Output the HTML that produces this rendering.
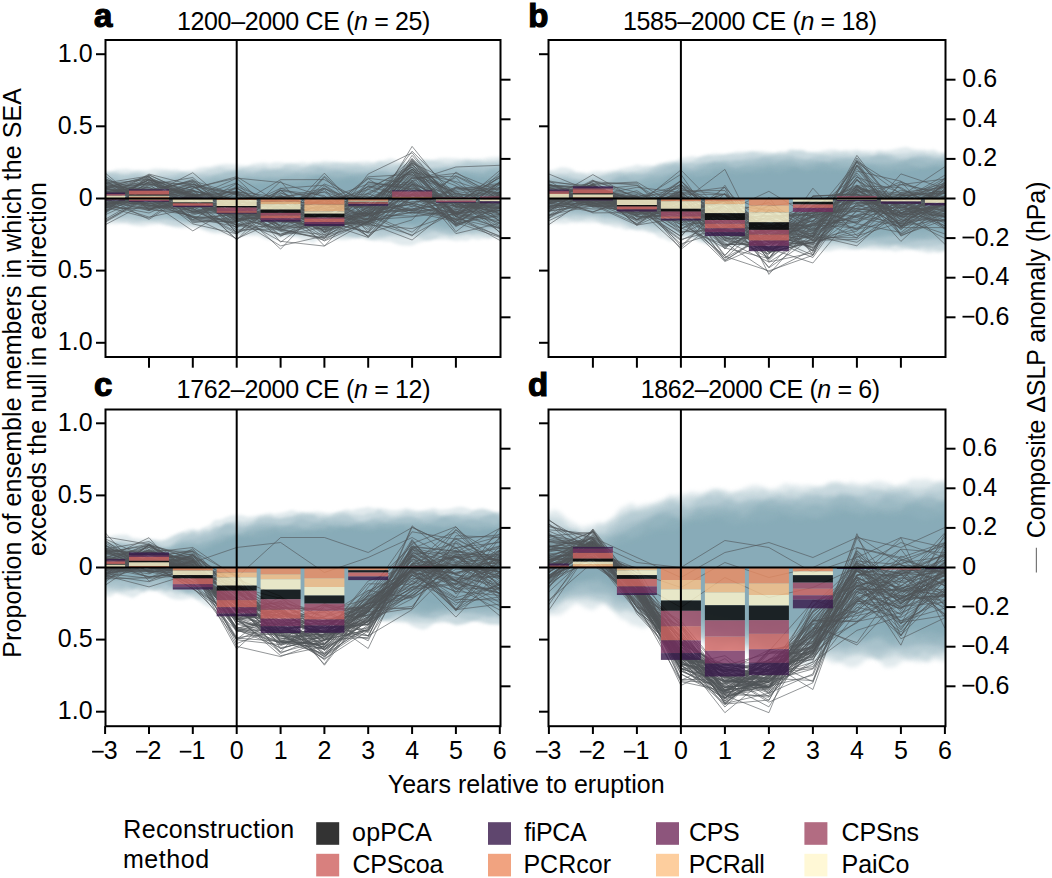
<!DOCTYPE html>
<html><head><meta charset="utf-8"><style>
html,body{margin:0;padding:0;background:#fff;width:1052px;height:878px;overflow:hidden}
svg{display:block}
text{font-family:"Liberation Sans", sans-serif;fill:#000;font-size:25px}
.lt{font-weight:bold;font-size:33px;stroke:#000;stroke-width:1.2px}
.ln{fill:none;stroke:#505558;stroke-width:1;stroke-opacity:.62;stroke-linejoin:miter}
</style></head><body>
<svg width="1052" height="878" viewBox="0 0 1052 878">
<defs>
<filter id="bl1_5" x="-20%" y="-50%" width="140%" height="200%" color-interpolation-filters="sRGB"><feGaussianBlur stdDeviation="1.5"/></filter><filter id="bl2" x="-20%" y="-50%" width="140%" height="200%" color-interpolation-filters="sRGB"><feGaussianBlur stdDeviation="2"/></filter>

<clipPath id="cpa"><rect x="105.5" y="40" width="395" height="317"/></clipPath>
<clipPath id="cpb"><rect x="548.5" y="40" width="397" height="317"/></clipPath>
<clipPath id="cpc"><rect x="105.5" y="409.5" width="395" height="316.7"/></clipPath>
<clipPath id="cpd"><rect x="548.5" y="409.5" width="397" height="316.7"/></clipPath>
</defs>
<g clip-path="url(#cpa)">
<path d="M75.1,170 L78.9,169 L82.6,169.8 L86.4,169.5 L90.1,169.8 L93.9,168.8 L97.6,168.6 L101.4,170.3 L105.1,171.8 L110.6,171.5 L116.1,169.6 L121.6,169.3 L127.1,169.1 L132.6,170.1 L138,169.9 L143.5,170.3 L149,169.9 L154.5,168.5 L160,168.8 L165.4,168.9 L170.9,169.8 L176.4,169.2 L181.9,170.8 L187.4,170.5 L192.8,170 L198.3,167.9 L203.8,166.9 L209.3,166.9 L214.8,165.5 L220.3,164.5 L225.7,164 L231.2,164.2 L236.7,164.7 L242.2,165.5 L247.7,165.7 L253.1,163.8 L258.6,163.1 L264.1,162.4 L269.6,163.6 L275.1,162.3 L280.6,162.6 L286,163.2 L291.5,162.9 L297,163 L302.5,162 L308,163 L313.4,161.9 L318.9,161.9 L324.4,161 L329.9,161.4 L335.4,161.9 L340.8,162.3 L346.3,162.5 L351.8,162.1 L357.3,162.1 L362.8,161.6 L368.2,161.3 L373.7,162.3 L379.2,161 L384.7,160.3 L390.2,158.2 L395.7,159.8 L401.1,162.2 L406.6,161.7 L412.1,161 L417.6,159.1 L423.1,160.3 L428.5,160.1 L434,159.7 L439.5,158.3 L445,158.1 L450.5,158.3 L455.9,158.4 L461.4,159.1 L466.9,158.4 L472.4,159.1 L477.9,158.9 L483.4,158.7 L488.8,157.4 L494.3,157.3 L499.8,156.7 L503.6,156 L507.3,155.9 L511.1,155.9 L514.8,157.8 L518.5,156.6 L522.3,156.6 L526,156.1 L529.8,157.2 L529.8,236.5 L526,237.7 L522.3,237.7 L518.5,237.2 L514.8,237.9 L511.1,240 L507.3,241.1 L503.6,239.9 L499.8,238.2 L494.3,237.6 L488.8,238.9 L483.4,238.6 L477.9,239.7 L472.4,238.5 L466.9,240.7 L461.4,240.2 L455.9,241.1 L450.5,240.1 L445,239.6 L439.5,239.4 L434,239.6 L428.5,240 L423.1,241.5 L417.6,242.9 L412.1,245.4 L406.6,245.5 L401.1,245.3 L395.7,243.8 L390.2,241.4 L384.7,241.5 L379.2,240.6 L373.7,240.5 L368.2,239 L362.8,237.7 L357.3,237.7 L351.8,238.7 L346.3,239.9 L340.8,240.1 L335.4,239.5 L329.9,237.2 L324.4,238.9 L318.9,238.9 L313.4,243 L308,241.3 L302.5,240.4 L297,237.2 L291.5,236.5 L286,236.5 L280.6,237.9 L275.1,239.8 L269.6,240 L264.1,238.5 L258.6,236 L253.1,235.8 L247.7,235.9 L242.2,236 L236.7,236.2 L231.2,235 L225.7,234.2 L220.3,233.3 L214.8,233.4 L209.3,232.3 L203.8,230.2 L198.3,228.1 L192.8,227.9 L187.4,227.7 L181.9,227.9 L176.4,227.2 L170.9,225.5 L165.4,225.2 L160,224.1 L154.5,224.6 L149,225 L143.5,226.2 L138,226.1 L132.6,225.3 L127.1,223.8 L121.6,223.2 L116.1,224 L110.6,223.7 L105.1,224.6 L101.4,223.4 L97.6,224.7 L93.9,223.8 L90.1,223.9 L86.4,223.6 L82.6,224.4 L78.9,221.9 L75.1,219.6Z" fill="#78a0ad" fill-opacity="0.22" filter="url(#bl1_5)"/>
<path d="M75.1,172.2 L78.9,171.9 L82.6,171.2 L86.4,172.8 L90.1,171.8 L93.9,172.4 L97.6,171 L101.4,172.9 L105.1,172.1 L110.6,172.2 L116.1,172.5 L121.6,174.6 L127.1,174.3 L132.6,172.9 L138,171.4 L143.5,172.7 L149,173.7 L154.5,174.3 L160,172.1 L165.4,171.8 L170.9,171.8 L176.4,172.1 L181.9,171.9 L187.4,172.1 L192.8,173.3 L198.3,172.4 L203.8,171.3 L209.3,169.6 L214.8,168.8 L220.3,167 L225.7,168.4 L231.2,169.5 L236.7,170.2 L242.2,167.9 L247.7,167.1 L253.1,166.7 L258.6,167.3 L264.1,166.4 L269.6,167.9 L275.1,167.5 L280.6,167.8 L286,164.1 L291.5,164.3 L297,164.7 L302.5,166.8 L308,166.3 L313.4,164.6 L318.9,164.1 L324.4,163.6 L329.9,163.7 L335.4,162.6 L340.8,163 L346.3,162.9 L351.8,163.9 L357.3,163.2 L362.8,165.3 L368.2,164.5 L373.7,164.2 L379.2,161.3 L384.7,162.7 L390.2,163.1 L395.7,164.3 L401.1,163.4 L406.6,164.8 L412.1,162.6 L417.6,161.6 L423.1,159.6 L428.5,160.4 L434,160.9 L439.5,161.7 L445,163 L450.5,163.2 L455.9,161.7 L461.4,160.9 L466.9,160.1 L472.4,160.9 L477.9,160.6 L483.4,162.2 L488.8,161.2 L494.3,161.4 L499.8,159.9 L503.6,161.2 L507.3,161.1 L511.1,160 L514.8,157.5 L518.5,159.5 L522.3,161.4 L526,162.8 L529.8,160.4 L529.8,235.1 L526,237.2 L522.3,238 L518.5,236.4 L514.8,236.1 L511.1,236.4 L507.3,239.1 L503.6,236.8 L499.8,238.3 L494.3,236.2 L488.8,237.2 L483.4,236.1 L477.9,235 L472.4,235.6 L466.9,233.9 L461.4,235.9 L455.9,235.9 L450.5,237.5 L445,235.4 L439.5,236.5 L434,239.2 L428.5,241.1 L423.1,239.6 L417.6,237.1 L412.1,236.9 L406.6,237.7 L401.1,237.4 L395.7,237.2 L390.2,236.6 L384.7,237.5 L379.2,238.5 L373.7,240.1 L368.2,240 L362.8,238.3 L357.3,237.7 L351.8,236.2 L346.3,236 L340.8,236.2 L335.4,238 L329.9,238.8 L324.4,238.3 L318.9,237.1 L313.4,236.4 L308,235.7 L302.5,235.5 L297,235.1 L291.5,235.4 L286,234.8 L280.6,235.2 L275.1,234.7 L269.6,233.9 L264.1,233.6 L258.6,231.7 L253.1,233.4 L247.7,232.6 L242.2,234.8 L236.7,233.9 L231.2,232.9 L225.7,231.5 L220.3,230.3 L214.8,230.4 L209.3,229.7 L203.8,228.5 L198.3,226.2 L192.8,225 L187.4,224.7 L181.9,226 L176.4,226.5 L170.9,226.3 L165.4,224.1 L160,222.6 L154.5,222 L149,222.1 L143.5,221.9 L138,222.7 L132.6,223 L127.1,222 L121.6,222.2 L116.1,221 L110.6,221.3 L105.1,219.6 L101.4,221.6 L97.6,222.4 L93.9,222.5 L90.1,222 L86.4,222.4 L82.6,221.7 L78.9,222.5 L75.1,222.8Z" fill="#78a0ad" fill-opacity="0.22" filter="url(#bl1_5)"/>
<path d="M75.1,176.5 L78.9,177.4 L82.6,178 L86.4,175.8 L90.1,175.8 L93.9,176.5 L97.6,176.8 L101.4,176 L105.1,173.5 L110.6,173 L116.1,173.4 L121.6,173.9 L127.1,174.5 L132.6,173.2 L138,174.3 L143.5,175.6 L149,177.5 L154.5,177.1 L160,176.9 L165.4,176.9 L170.9,175.8 L176.4,174.4 L181.9,172.8 L187.4,173.7 L192.8,173.4 L198.3,174.3 L203.8,174.2 L209.3,175.1 L214.8,173.9 L220.3,173.9 L225.7,172.2 L231.2,171.5 L236.7,169.5 L242.2,169.2 L247.7,170.7 L253.1,171.1 L258.6,171.2 L264.1,169.3 L269.6,170.7 L275.1,169.8 L280.6,168.8 L286,167.9 L291.5,168.9 L297,169.7 L302.5,168.3 L308,166.6 L313.4,165.6 L318.9,166.5 L324.4,166.8 L329.9,167.5 L335.4,167.4 L340.8,167.9 L346.3,167.3 L351.8,166.9 L357.3,167.1 L362.8,167.3 L368.2,168.3 L373.7,167.3 L379.2,167.7 L384.7,166.1 L390.2,167.7 L395.7,166.4 L401.1,164.9 L406.6,164.2 L412.1,163.4 L417.6,165 L423.1,164.3 L428.5,167.7 L434,168.4 L439.5,169.4 L445,168.4 L450.5,168.1 L455.9,166.2 L461.4,164.5 L466.9,162.3 L472.4,162.3 L477.9,162.7 L483.4,162.5 L488.8,163.3 L494.3,162.3 L499.8,162.9 L503.6,162.6 L507.3,162.3 L511.1,161.9 L514.8,162.6 L518.5,164.1 L522.3,165.7 L526,164.9 L529.8,164.4 L529.8,234.1 L526,233.4 L522.3,232.7 L518.5,230.4 L514.8,230.1 L511.1,229.3 L507.3,230.9 L503.6,232.2 L499.8,231.8 L494.3,232.9 L488.8,231.5 L483.4,233.2 L477.9,232.8 L472.4,233.8 L466.9,234 L461.4,233.5 L455.9,234 L450.5,234.4 L445,234 L439.5,232.4 L434,231.3 L428.5,233.6 L423.1,235 L417.6,235.8 L412.1,235.3 L406.6,234 L401.1,233.5 L395.7,233.2 L390.2,234.7 L384.7,236.1 L379.2,236.4 L373.7,235 L368.2,234.2 L362.8,235.5 L357.3,237.9 L351.8,237.4 L346.3,236.5 L340.8,235.1 L335.4,233.9 L329.9,234.1 L324.4,234.2 L318.9,234.8 L313.4,233.6 L308,233.6 L302.5,234.7 L297,235.3 L291.5,235.4 L286,235 L280.6,232.7 L275.1,231.2 L269.6,231.8 L264.1,231.7 L258.6,231.8 L253.1,229.9 L247.7,230.7 L242.2,231.2 L236.7,231.6 L231.2,230.4 L225.7,229.1 L220.3,228.1 L214.8,227.7 L209.3,226.6 L203.8,224.8 L198.3,224.9 L192.8,224.3 L187.4,223.7 L181.9,222.4 L176.4,220.8 L170.9,220.1 L165.4,218.6 L160,219.9 L154.5,220.3 L149,220.1 L143.5,219.7 L138,220.4 L132.6,219.3 L127.1,218.6 L121.6,217.5 L116.1,218.1 L110.6,216.3 L105.1,215 L101.4,215.7 L97.6,217.6 L93.9,218.6 L90.1,217.1 L86.4,217.6 L82.6,219.6 L78.9,221.9 L75.1,222Z" fill="#78a0ad" fill-opacity="0.22" filter="url(#bl1_5)"/>
<path d="M75.1,181.6 L78.9,181.2 L82.6,182.1 L86.4,180.3 L90.1,180.3 L93.9,177.3 L97.6,179.5 L101.4,178.9 L105.1,179.8 L110.6,177.2 L116.1,177.7 L121.6,180.3 L127.1,178.8 L132.6,178.4 L138,176.9 L143.5,179.7 L149,179.4 L154.5,178 L160,177.7 L165.4,177.2 L170.9,178.4 L176.4,177.2 L181.9,176.9 L187.4,177.3 L192.8,177 L198.3,178.3 L203.8,177 L209.3,176.6 L214.8,175 L220.3,173.2 L225.7,172 L231.2,171.5 L236.7,171.9 L242.2,173.3 L247.7,173.5 L253.1,173.4 L258.6,171.4 L264.1,171.1 L269.6,170.1 L275.1,170.5 L280.6,171 L286,171.8 L291.5,172.4 L297,172.1 L302.5,173 L308,171.7 L313.4,170.5 L318.9,167.8 L324.4,169.2 L329.9,170.2 L335.4,170.9 L340.8,171.1 L346.3,170.9 L351.8,171.4 L357.3,171.7 L362.8,172.5 L368.2,171.9 L373.7,170.6 L379.2,170.7 L384.7,171.6 L390.2,173 L395.7,172 L401.1,169.2 L406.6,167.7 L412.1,166.8 L417.6,170.2 L423.1,170.8 L428.5,169.6 L434,168 L439.5,167.2 L445,168.2 L450.5,167.5 L455.9,166.9 L461.4,167.6 L466.9,167.9 L472.4,166.7 L477.9,166.4 L483.4,167.4 L488.8,167.5 L494.3,166.8 L499.8,165.5 L503.6,167.1 L507.3,166.8 L511.1,166.7 L514.8,165.2 L518.5,164.6 L522.3,165.8 L526,166.2 L529.8,166.9 L529.8,231.2 L526,230.9 L522.3,230.1 L518.5,230 L514.8,229.4 L511.1,229.4 L507.3,229.3 L503.6,229.2 L499.8,228 L494.3,227.2 L488.8,227.5 L483.4,229.2 L477.9,229.9 L472.4,230.4 L466.9,230.6 L461.4,233.1 L455.9,233.6 L450.5,233.8 L445,232.1 L439.5,231.4 L434,230.3 L428.5,229.4 L423.1,231.1 L417.6,231.2 L412.1,232.3 L406.6,231.8 L401.1,234.1 L395.7,232.9 L390.2,232.1 L384.7,229.8 L379.2,230.4 L373.7,229 L368.2,228.2 L362.8,230.1 L357.3,231.5 L351.8,231.1 L346.3,230.9 L340.8,230.4 L335.4,232.9 L329.9,230.5 L324.4,230.1 L318.9,228.1 L313.4,228.9 L308,227.4 L302.5,228.5 L297,229.4 L291.5,231 L286,230.1 L280.6,229.3 L275.1,230.2 L269.6,230.9 L264.1,230.5 L258.6,228.1 L253.1,227.3 L247.7,227.2 L242.2,228.1 L236.7,228.3 L231.2,227.8 L225.7,227.3 L220.3,226.7 L214.8,224.2 L209.3,221.7 L203.8,220 L198.3,221.4 L192.8,221.5 L187.4,221.1 L181.9,219.2 L176.4,219.7 L170.9,218.8 L165.4,218.7 L160,218.1 L154.5,218.5 L149,218.5 L143.5,217.5 L138,216.5 L132.6,214.8 L127.1,215.5 L121.6,217.2 L116.1,217.8 L110.6,218.2 L105.1,217.3 L101.4,216.4 L97.6,215.7 L93.9,215 L90.1,216 L86.4,216.3 L82.6,215.9 L78.9,215.6 L75.1,215Z" fill="#78a0ad" fill-opacity="0.22" filter="url(#bl1_5)"/>
<path d="M75.1,181.3 L78.9,181.4 L82.6,181.2 L86.4,180.2 L90.1,180.5 L93.9,181.5 L97.6,182.4 L101.4,180 L105.1,179.6 L110.6,178.9 L116.1,180.7 L121.6,180.6 L127.1,182.2 L132.6,185.1 L138,185.8 L143.5,185.5 L149,184.1 L154.5,181.9 L160,181.6 L165.4,180.9 L170.9,182.7 L176.4,179.3 L181.9,179.3 L187.4,178.6 L192.8,181.6 L198.3,182 L203.8,180.7 L209.3,179 L214.8,177.1 L220.3,178.2 L225.7,178.7 L231.2,179 L236.7,177.7 L242.2,177.2 L247.7,176.5 L253.1,177 L258.6,176.5 L264.1,177.2 L269.6,176.7 L275.1,177.5 L280.6,177 L286,176 L291.5,174.4 L297,172.9 L302.5,173.7 L308,173.7 L313.4,174.4 L318.9,174.8 L324.4,174.3 L329.9,172.2 L335.4,170.6 L340.8,171 L346.3,173 L351.8,173.8 L357.3,173.5 L362.8,172.9 L368.2,172.3 L373.7,172.8 L379.2,171.7 L384.7,171.7 L390.2,172.8 L395.7,173.4 L401.1,171.7 L406.6,168 L412.1,167.3 L417.6,170 L423.1,172.2 L428.5,172.9 L434,169.7 L439.5,169.2 L445,166.4 L450.5,167.8 L455.9,168 L461.4,170.8 L466.9,170.9 L472.4,171.9 L477.9,171.8 L483.4,172.4 L488.8,169.5 L494.3,167.8 L499.8,167.9 L503.6,168.9 L507.3,170.9 L511.1,169.5 L514.8,171.9 L518.5,171.1 L522.3,172.2 L526,169.8 L529.8,169.3 L529.8,224.8 L526,224.6 L522.3,224.1 L518.5,225.8 L514.8,227 L511.1,227.7 L507.3,227.1 L503.6,227 L499.8,226.6 L494.3,228 L488.8,228.9 L483.4,230.7 L477.9,229.8 L472.4,227.9 L466.9,227.7 L461.4,227.5 L455.9,229.1 L450.5,228.6 L445,228.7 L439.5,228.5 L434,227.7 L428.5,227.4 L423.1,228 L417.6,228.5 L412.1,228 L406.6,227.6 L401.1,227.4 L395.7,229.5 L390.2,229.9 L384.7,229.9 L379.2,229.3 L373.7,228.8 L368.2,227.8 L362.8,228.1 L357.3,227.4 L351.8,229 L346.3,226.4 L340.8,227.7 L335.4,227.4 L329.9,227.7 L324.4,225.4 L318.9,225.4 L313.4,226.6 L308,226.7 L302.5,227.2 L297,226.7 L291.5,227.8 L286,226.6 L280.6,225.8 L275.1,225.3 L269.6,224.7 L264.1,224.3 L258.6,223.6 L253.1,222.6 L247.7,223.5 L242.2,222.8 L236.7,223.9 L231.2,223.2 L225.7,223 L220.3,222.1 L214.8,221.6 L209.3,221.4 L203.8,221.2 L198.3,219.9 L192.8,220.7 L187.4,221 L181.9,220.9 L176.4,219.2 L170.9,216.2 L165.4,214.6 L160,213.4 L154.5,215.4 L149,215.6 L143.5,215.7 L138,213.5 L132.6,212.9 L127.1,211.3 L121.6,211.4 L116.1,210.3 L110.6,210.2 L105.1,209.6 L101.4,211.5 L97.6,212.7 L93.9,213.1 L90.1,212.2 L86.4,210.9 L82.6,211.7 L78.9,212.3 L75.1,213.5Z" fill="#78a0ad" fill-opacity="0.22" filter="url(#bl1_5)"/>
<path d="M75.1,184.7 L78.9,185.1 L82.6,185.1 L86.4,183.9 L90.1,184.7 L93.9,185.5 L97.6,187.1 L101.4,186.1 L105.1,184.1 L110.6,182.6 L116.1,183.1 L121.6,186.3 L127.1,186.4 L132.6,184.5 L138,182.5 L143.5,183.5 L149,184.7 L154.5,183.1 L160,182.7 L165.4,184.3 L170.9,184.8 L176.4,184.1 L181.9,181.8 L187.4,181.7 L192.8,180.2 L198.3,181.2 L203.8,181.8 L209.3,182.5 L214.8,181 L220.3,180.6 L225.7,179 L231.2,178.9 L236.7,177.5 L242.2,178.2 L247.7,176.8 L253.1,178 L258.6,178.1 L264.1,178.6 L269.6,177.8 L275.1,177.4 L280.6,178.2 L286,177.4 L291.5,177.9 L297,177.7 L302.5,178.9 L308,176.2 L313.4,175.3 L318.9,174.5 L324.4,176.3 L329.9,177.2 L335.4,177.5 L340.8,177.3 L346.3,176.7 L351.8,176.1 L357.3,175 L362.8,174.5 L368.2,174.4 L373.7,175 L379.2,174.8 L384.7,174.8 L390.2,174.7 L395.7,175.5 L401.1,174.6 L406.6,175.6 L412.1,173.3 L417.6,174.4 L423.1,174.1 L428.5,175.5 L434,175.5 L439.5,175.1 L445,175.8 L450.5,175.6 L455.9,175.1 L461.4,173.7 L466.9,172.2 L472.4,172.8 L477.9,172.9 L483.4,173.4 L488.8,171.2 L494.3,170.7 L499.8,171.7 L503.6,174.2 L507.3,174.5 L511.1,172.8 L514.8,171 L518.5,170.8 L522.3,170.2 L526,171.5 L529.8,172.7 L529.8,224.7 L526,224.2 L522.3,222.8 L518.5,222.3 L514.8,222.3 L511.1,222.8 L507.3,222.7 L503.6,223.4 L499.8,224.6 L494.3,226.7 L488.8,227.1 L483.4,225.8 L477.9,224.1 L472.4,223.3 L466.9,225.5 L461.4,227.4 L455.9,228.7 L450.5,228.6 L445,227.4 L439.5,225.1 L434,224.4 L428.5,225.9 L423.1,228 L417.6,227.3 L412.1,225.2 L406.6,223.3 L401.1,224 L395.7,223.5 L390.2,225.3 L384.7,223.1 L379.2,223.9 L373.7,222.6 L368.2,224.3 L362.8,222.6 L357.3,222 L351.8,221.7 L346.3,222.6 L340.8,222.5 L335.4,222.3 L329.9,221.3 L324.4,223.6 L318.9,224.3 L313.4,227.1 L308,225.5 L302.5,225.7 L297,223.3 L291.5,222.6 L286,221.3 L280.6,222.7 L275.1,223.2 L269.6,222.7 L264.1,221.4 L258.6,221.6 L253.1,221.7 L247.7,222.7 L242.2,221.7 L236.7,222.2 L231.2,222 L225.7,222.1 L220.3,221.6 L214.8,218.8 L209.3,216.9 L203.8,216.2 L198.3,217 L192.8,218.5 L187.4,218.3 L181.9,218.4 L176.4,215.3 L170.9,212.1 L165.4,210 L160,211.3 L154.5,211.8 L149,212.2 L143.5,209.6 L138,210.2 L132.6,209.5 L127.1,210.7 L121.6,209 L116.1,208.9 L110.6,209.7 L105.1,211.4 L101.4,211.7 L97.6,210.9 L93.9,209.3 L90.1,209.8 L86.4,209.9 L82.6,209.3 L78.9,207.5 L75.1,206.3Z" fill="#78a0ad" fill-opacity="0.22" filter="url(#bl1_5)"/>
<path d="M75.1,188.3 L78.9,189 L82.6,188.6 L86.4,186.6 L90.1,185.9 L93.9,184.9 L97.6,186.3 L101.4,187.2 L105.1,189.6 L110.6,189.5 L116.1,188.8 L121.6,186.2 L127.1,186 L132.6,185.8 L138,187.5 L143.5,188 L149,189 L154.5,189.5 L160,188.8 L165.4,188.6 L170.9,188 L176.4,187.1 L181.9,186.5 L187.4,185.5 L192.8,185 L198.3,185.4 L203.8,186.1 L209.3,186.4 L214.8,184.8 L220.3,183 L225.7,181.9 L231.2,181 L236.7,180.7 L242.2,181.2 L247.7,182.6 L253.1,184.1 L258.6,183.4 L264.1,182.1 L269.6,181 L275.1,182.3 L280.6,182.4 L286,183.6 L291.5,181.6 L297,181.9 L302.5,181 L308,180 L313.4,177.3 L318.9,175 L324.4,175 L329.9,176.1 L335.4,177.6 L340.8,177.9 L346.3,177.1 L351.8,176.1 L357.3,177.2 L362.8,177.6 L368.2,177.4 L373.7,177.2 L379.2,178.8 L384.7,180.4 L390.2,180.5 L395.7,178 L401.1,178.4 L406.6,178.4 L412.1,180 L417.6,178.4 L423.1,178.6 L428.5,177.1 L434,177.4 L439.5,175.2 L445,176.3 L450.5,175.4 L455.9,174.7 L461.4,171.9 L466.9,173.2 L472.4,175.3 L477.9,178.2 L483.4,177.1 L488.8,176.8 L494.3,175.9 L499.8,174.6 L503.6,174.9 L507.3,175 L511.1,176.1 L514.8,175.3 L518.5,174.6 L522.3,173.8 L526,172.6 L529.8,172 L529.8,219.6 L526,219.9 L522.3,221.2 L518.5,222.7 L514.8,222.2 L511.1,221.1 L507.3,220.9 L503.6,221.4 L499.8,219.8 L494.3,218.7 L488.8,220.2 L483.4,222.9 L477.9,224.6 L472.4,224.2 L466.9,223 L461.4,221.8 L455.9,221.3 L450.5,222.3 L445,222.9 L439.5,222.7 L434,221.8 L428.5,223.8 L423.1,224.3 L417.6,224.6 L412.1,224 L406.6,224.2 L401.1,225.1 L395.7,223.5 L390.2,222.8 L384.7,222.5 L379.2,223.2 L373.7,223 L368.2,222.2 L362.8,222.3 L357.3,224.1 L351.8,224.1 L346.3,221.8 L340.8,219.4 L335.4,219.8 L329.9,221.5 L324.4,222.3 L318.9,223.6 L313.4,222.5 L308,221.4 L302.5,220.1 L297,220.5 L291.5,222.5 L286,223.7 L280.6,224.8 L275.1,222.6 L269.6,221.2 L264.1,219.8 L258.6,219.9 L253.1,218.4 L247.7,218.7 L242.2,218.5 L236.7,218.2 L231.2,218 L225.7,216.4 L220.3,215.5 L214.8,214 L209.3,214.8 L203.8,214.6 L198.3,213.3 L192.8,211.3 L187.4,209.9 L181.9,208.7 L176.4,210.3 L170.9,212.2 L165.4,212 L160,209.3 L154.5,206.1 L149,205.9 L143.5,206.4 L138,207.9 L132.6,209.4 L127.1,208.8 L121.6,207.4 L116.1,206.3 L110.6,206.3 L105.1,206.7 L101.4,206.3 L97.6,206.8 L93.9,206 L90.1,205.9 L86.4,205.8 L82.6,205.8 L78.9,205.3 L75.1,204.3Z" fill="#78a0ad" fill-opacity="0.22" filter="url(#bl1_5)"/>
<path d="M75.1,191.7 L78.9,192 L82.6,192.6 L86.4,193.5 L90.1,193.9 L93.9,192.6 L97.6,192.8 L101.4,191.9 L105.1,191.4 L110.6,190.1 L116.1,191.2 L121.6,191.8 L127.1,192.1 L132.6,191.6 L138,191.9 L143.5,192.4 L149,191.8 L154.5,192.7 L160,191.5 L165.4,190.6 L170.9,187.9 L176.4,188.1 L181.9,188 L187.4,188.4 L192.8,189.4 L198.3,189.9 L203.8,189 L209.3,189.1 L214.8,187.8 L220.3,188.8 L225.7,185.5 L231.2,185 L236.7,183.7 L242.2,185.9 L247.7,184.7 L253.1,185.4 L258.6,184 L264.1,184.8 L269.6,185 L275.1,184.1 L280.6,184.1 L286,184.5 L291.5,184.6 L297,183.4 L302.5,181.3 L308,180.2 L313.4,180.8 L318.9,181 L324.4,182.4 L329.9,182.1 L335.4,182.4 L340.8,180.6 L346.3,179.8 L351.8,179.1 L357.3,180.4 L362.8,183.2 L368.2,184 L373.7,182.5 L379.2,180.7 L384.7,180.9 L390.2,181.6 L395.7,181.1 L401.1,180.1 L406.6,179.8 L412.1,180.5 L417.6,180.1 L423.1,179.7 L428.5,178.3 L434,178.4 L439.5,180 L445,180.9 L450.5,181.6 L455.9,180.5 L461.4,179.1 L466.9,178 L472.4,176.4 L477.9,176.9 L483.4,177.3 L488.8,179.3 L494.3,179.2 L499.8,179.4 L503.6,179.6 L507.3,180.4 L511.1,179.7 L514.8,176.9 L518.5,177.1 L522.3,176.2 L526,178.2 L529.8,177.5 L529.8,218.1 L526,217.8 L522.3,219.3 L518.5,220.5 L514.8,220 L511.1,219.1 L507.3,216.8 L503.6,217 L499.8,215.8 L494.3,215.7 L488.8,216.6 L483.4,218 L477.9,220.1 L472.4,218.7 L466.9,218.6 L461.4,219.8 L455.9,220.5 L450.5,219.2 L445,218.4 L439.5,219.5 L434,220 L428.5,218.3 L423.1,219.9 L417.6,221.3 L412.1,223.8 L406.6,221.2 L401.1,219 L395.7,217.6 L390.2,220.5 L384.7,221.3 L379.2,222.7 L373.7,217.8 L368.2,218.5 L362.8,218.3 L357.3,220.8 L351.8,218.3 L346.3,218.4 L340.8,216.6 L335.4,218.7 L329.9,216.6 L324.4,217.4 L318.9,216.3 L313.4,216.7 L308,218.3 L302.5,217.9 L297,219.7 L291.5,217.6 L286,217 L280.6,214.9 L275.1,216.1 L269.6,215.3 L264.1,215.4 L258.6,215.9 L253.1,218.2 L247.7,217.4 L242.2,215.2 L236.7,214.1 L231.2,213.9 L225.7,215.1 L220.3,214.4 L214.8,213.4 L209.3,210.6 L203.8,210.1 L198.3,208.9 L192.8,208.4 L187.4,207.5 L181.9,207.2 L176.4,207.4 L170.9,207 L165.4,206.4 L160,204.8 L154.5,203.6 L149,203.4 L143.5,203.3 L138,202.8 L132.6,202.4 L127.1,202.3 L121.6,204.2 L116.1,205.1 L110.6,205 L105.1,203.3 L101.4,202.8 L97.6,201.9 L93.9,200.2 L90.1,199.5 L86.4,200.9 L82.6,203.2 L78.9,204.2 L75.1,204.2Z" fill="#78a0ad" fill-opacity="0.22" filter="url(#bl1_5)"/>
<polyline class="ln" points="105.1,197.5 149,189.9 192.8,180.6 236.7,194.7 280.6,219.5 324.4,218.2 368.2,213.2 412.1,194.3 455.9,225.1 499.8,207.4"/>
<polyline class="ln" points="105.1,203.5 149,198 192.8,197.8 236.7,204.3 280.6,208.1 324.4,197.2 368.2,206 412.1,210.6 455.9,200.2 499.8,232"/>
<polyline class="ln" points="105.1,207 149,209.2 192.8,197.1 236.7,218.5 280.6,215 324.4,214.7 368.2,196.9 412.1,203 455.9,213.6 499.8,198.2"/>
<polyline class="ln" points="105.1,206.1 149,191 192.8,196 236.7,221.5 280.6,210 324.4,226.4 368.2,182.1 412.1,189.8 455.9,200.4 499.8,208.9"/>
<polyline class="ln" points="105.1,194.8 149,200.6 192.8,186.3 236.7,209.6 280.6,199.9 324.4,204.5 368.2,207 412.1,194.2 455.9,199.3 499.8,201.4"/>
<polyline class="ln" points="105.1,187.4 149,198.4 192.8,191.1 236.7,201.1 280.6,214 324.4,210.8 368.2,206.4 412.1,191.3 455.9,223.4 499.8,215.4"/>
<polyline class="ln" points="105.1,198.7 149,179.7 192.8,186.6 236.7,193.7 280.6,206.9 324.4,203.3 368.2,206.4 412.1,169.1 455.9,185.8 499.8,214.3"/>
<polyline class="ln" points="105.1,212.6 149,175.2 192.8,194.5 236.7,194.9 280.6,205.5 324.4,231.4 368.2,174 412.1,152.8 455.9,207.3 499.8,196.8"/>
<polyline class="ln" points="105.1,203.7 149,203.4 192.8,198.3 236.7,202.9 280.6,202 324.4,203.1 368.2,208.2 412.1,159.7 455.9,220 499.8,196.1"/>
<polyline class="ln" points="105.1,193.1 149,197.5 192.8,216.5 236.7,220.2 280.6,214.7 324.4,205.9 368.2,186.8 412.1,197.9 455.9,209.7 499.8,198.5"/>
<polyline class="ln" points="105.1,206.8 149,218.1 192.8,188.4 236.7,176.7 280.6,203.6 324.4,228 368.2,215 412.1,178 455.9,176.1 499.8,199"/>
<polyline class="ln" points="105.1,203.9 149,179.2 192.8,198 236.7,182.8 280.6,227.9 324.4,221.3 368.2,198.7 412.1,158.5 455.9,200.9 499.8,204.1"/>
<polyline class="ln" points="105.1,224.8 149,201.7 192.8,203.7 236.7,215.2 280.6,209.6 324.4,219.1 368.2,197.7 412.1,180.3 455.9,214.2 499.8,207.1"/>
<polyline class="ln" points="105.1,194.3 149,190.2 192.8,181.5 236.7,202.7 280.6,229.5 324.4,238.6 368.2,181.8 412.1,188.9 455.9,226.5 499.8,205.6"/>
<polyline class="ln" points="105.1,213.6 149,181.2 192.8,198.9 236.7,208.4 280.6,249.1 324.4,203.2 368.2,224.4 412.1,182.3 455.9,233.6 499.8,223.2"/>
<polyline class="ln" points="105.1,183 149,176 192.8,217.8 236.7,226.8 280.6,205.7 324.4,188.2 368.2,216.3 412.1,203.2 455.9,214.1 499.8,227.8"/>
<polyline class="ln" points="105.1,203.5 149,179.9 192.8,197.6 236.7,178.3 280.6,219.6 324.4,203.3 368.2,216.2 412.1,194 455.9,222.5 499.8,237.3"/>
<polyline class="ln" points="105.1,188.7 149,178 192.8,196 236.7,188.1 280.6,214.7 324.4,212.2 368.2,200.8 412.1,198 455.9,219.7 499.8,235.9"/>
<polyline class="ln" points="105.1,212.2 149,192.3 192.8,203.5 236.7,212.5 280.6,197.7 324.4,198.5 368.2,193.7 412.1,172.2 455.9,215.8 499.8,240.4"/>
<polyline class="ln" points="105.1,188.1 149,199.1 192.8,190.9 236.7,201.5 280.6,203.8 324.4,189.5 368.2,232 412.1,180.3 455.9,213.8 499.8,220.8"/>
<polyline class="ln" points="105.1,200.9 149,184.6 192.8,195.5 236.7,192.4 280.6,242.2 324.4,210.3 368.2,236.3 412.1,193.6 455.9,196.6 499.8,220.9"/>
<polyline class="ln" points="105.1,193.5 149,190 192.8,194.2 236.7,217.2 280.6,230.3 324.4,212.9 368.2,176.8 412.1,174.3 455.9,206.4 499.8,204.9"/>
<polyline class="ln" points="105.1,194.9 149,190.2 192.8,207.3 236.7,210.6 280.6,236.4 324.4,211.1 368.2,178.3 412.1,183.3 455.9,203.9 499.8,212"/>
<polyline class="ln" points="105.1,195.5 149,188.8 192.8,212.1 236.7,203.4 280.6,214.9 324.4,212.7 368.2,213.4 412.1,208.1 455.9,219.1 499.8,194.1"/>
<polyline class="ln" points="105.1,221.7 149,194.9 192.8,211.7 236.7,214.4 280.6,216.9 324.4,184 368.2,200.9 412.1,194.2 455.9,213 499.8,210.6"/>
<polyline class="ln" points="105.1,186.3 149,196.2 192.8,217.5 236.7,223.1 280.6,234.3 324.4,222.5 368.2,186.2 412.1,186.2 455.9,207.9 499.8,184.9"/>
<polyline class="ln" points="105.1,206.2 149,196.7 192.8,204.1 236.7,219.3 280.6,245.9 324.4,235.9 368.2,223.8 412.1,172.1 455.9,181.6 499.8,195.5"/>
<polyline class="ln" points="105.1,220.6 149,196.8 192.8,208.3 236.7,188.2 280.6,211.5 324.4,231.7 368.2,192.5 412.1,171.3 455.9,231.7 499.8,198.6"/>
<polyline class="ln" points="105.1,204.6 149,192.6 192.8,196.7 236.7,219.5 280.6,217 324.4,229.6 368.2,218.9 412.1,155.4 455.9,204.9 499.8,182.9"/>
<polyline class="ln" points="105.1,219.3 149,194.4 192.8,189.3 236.7,232.4 280.6,203.9 324.4,226.6 368.2,200.2 412.1,182.2 455.9,206.8 499.8,170.5"/>
<polyline class="ln" points="105.1,206.4 149,177.3 192.8,206.6 236.7,227.5 280.6,209.5 324.4,236.9 368.2,211.3 412.1,165.3 455.9,193.4 499.8,218.8"/>
<polyline class="ln" points="105.1,196.6 149,174.1 192.8,185.3 236.7,218.2 280.6,228.4 324.4,225.1 368.2,222.6 412.1,184.3 455.9,212.3 499.8,192.4"/>
<polyline class="ln" points="105.1,189.3 149,195.1 192.8,213.9 236.7,200.7 280.6,235.2 324.4,227.4 368.2,207.9 412.1,185.6 455.9,223.3 499.8,194"/>
<polyline class="ln" points="105.1,178.5 149,198.8 192.8,199.6 236.7,199.8 280.6,209 324.4,208.9 368.2,193.6 412.1,211.9 455.9,221.5 499.8,187.9"/>
<polyline class="ln" points="105.1,196.7 149,180 192.8,193.1 236.7,218.2 280.6,219.1 324.4,223.8 368.2,202.4 412.1,169.1 455.9,214.4 499.8,203.2"/>
<polyline class="ln" points="105.1,211.3 149,181.9 192.8,184.3 236.7,201.5 280.6,207.4 324.4,207.8 368.2,206 412.1,169.2 455.9,224 499.8,193.3"/>
<polyline class="ln" points="105.1,210 149,185.6 192.8,204.4 236.7,216.4 280.6,213.9 324.4,199.9 368.2,217.4 412.1,195.2 455.9,198.8 499.8,207.9"/>
<polyline class="ln" points="105.1,197.2 149,198.4 192.8,199.3 236.7,239.5 280.6,209.4 324.4,228.2 368.2,218.9 412.1,146.4 455.9,200.2 499.8,183.4"/>
<polyline class="ln" points="105.1,205.8 149,191.7 192.8,180.8 236.7,215.3 280.6,213.2 324.4,212.7 368.2,219.1 412.1,177.9 455.9,216.6 499.8,210.2"/>
<polyline class="ln" points="105.1,194.1 149,191.8 192.8,198.3 236.7,207.7 280.6,220.5 324.4,227.2 368.2,218.7 412.1,212.4 455.9,205.1 499.8,206.4"/>
<polyline class="ln" points="105.1,187.1 149,177 192.8,197.8 236.7,213.3 280.6,190.2 324.4,195.5 368.2,237 412.1,197.6 455.9,208.9 499.8,194.7"/>
<polyline class="ln" points="105.1,205.2 149,194.2 192.8,203.5 236.7,211.9 280.6,231.4 324.4,237.9 368.2,206.6 412.1,188 455.9,202.8 499.8,227.3"/>
<polyline class="ln" points="105.1,191.6 149,187.6 192.8,204 236.7,210.8 280.6,202.7 324.4,226.9 368.2,221.2 412.1,235 455.9,211.4 499.8,222.8"/>
<polyline class="ln" points="105.1,204.2 149,200.1 192.8,182.7 236.7,213.3 280.6,224.6 324.4,176.2 368.2,214.1 412.1,232.2 455.9,196.5 499.8,226"/>
<polyline class="ln" points="105.1,176.1 149,205.5 192.8,208.4 236.7,232.3 280.6,221.5 324.4,225.3 368.2,214.1 412.1,210.2 455.9,210.2 499.8,195.5"/>
<polyline class="ln" points="105.1,183.7 149,192.6 192.8,211.8 236.7,225.1 280.6,219.1 324.4,173.2 368.2,219.8 412.1,216.9 455.9,211.3 499.8,228.6"/>
<polyline class="ln" points="105.1,204.3 149,195.2 192.8,186.6 236.7,210.6 280.6,230.3 324.4,234.5 368.2,210.1 412.1,204.6 455.9,218.5 499.8,228.4"/>
<polyline class="ln" points="105.1,194.2 149,183.2 192.8,195.3 236.7,207.8 280.6,227.6 324.4,204.9 368.2,213.4 412.1,168.9 455.9,217.2 499.8,216.8"/>
<polyline class="ln" points="105.1,180.1 149,195.8 192.8,186.7 236.7,211.2 280.6,220.8 324.4,215.5 368.2,233.1 412.1,219.9 455.9,172 499.8,200.4"/>
<polyline class="ln" points="105.1,187.2 149,183.8 192.8,195.9 236.7,196.8 280.6,226.8 324.4,213.2 368.2,199 412.1,209.8 455.9,219.9 499.8,214.5"/>
<polyline class="ln" points="105.1,199.7 149,187.1 192.8,209.9 236.7,225 280.6,227.7 324.4,186 368.2,213.9 412.1,201.5 455.9,201.8 499.8,206"/>
<polyline class="ln" points="105.1,183.8 149,179.4 192.8,219.9 236.7,192.3 280.6,223 324.4,214.7 368.2,178.7 412.1,206.9 455.9,175.7 499.8,195.1"/>
<polyline class="ln" points="105.1,207.3 149,201.8 192.8,206.9 236.7,204.1 280.6,206.5 324.4,222.7 368.2,221.8 412.1,198.2 455.9,196.1 499.8,213.8"/>
<polyline class="ln" points="105.1,201.7 149,203.1 192.8,204.1 236.7,202.4 280.6,228.4 324.4,177.2 368.2,221 412.1,176.9 455.9,213.1 499.8,175.9"/>
<polyline class="ln" points="105.1,189.1 149,191.1 192.8,213.3 236.7,212.2 280.6,202.1 324.4,222.8 368.2,237.5 412.1,195 455.9,213.6 499.8,201.5"/>
<polyline class="ln" points="105.1,211.1 149,193.9 192.8,179.4 236.7,219.4 280.6,206 324.4,213.6 368.2,222.5 412.1,158.8 455.9,207.6 499.8,207"/>
<polyline class="ln" points="105.1,208.1 149,195.1 192.8,184.6 236.7,194.9 280.6,230.3 324.4,221.7 368.2,232 412.1,162.5 455.9,200.1 499.8,187.3"/>
<polyline class="ln" points="105.1,204.7 149,213 192.8,193.6 236.7,202.3 280.6,203.7 324.4,234.9 368.2,219.3 412.1,186.9 455.9,212.4 499.8,196"/>
<polyline class="ln" points="105.1,200.3 149,202.9 192.8,217 236.7,238.7 280.6,219.3 324.4,197.8 368.2,221.3 412.1,212.2 455.9,214.8 499.8,194.9"/>
<polyline class="ln" points="105.1,186 149,182.5 192.8,194.6 236.7,202.7 280.6,226.2 324.4,221.9 368.2,225.3 412.1,188.3 455.9,202.3 499.8,208"/>
<polyline class="ln" points="105.1,200.4 149,179.9 192.8,190.5 236.7,199.7 280.6,214.4 324.4,238.2 368.2,222.1 412.1,166.9 455.9,216.8 499.8,181.4"/>
<polyline class="ln" points="105.1,207.7 149,190.4 192.8,202.1 236.7,222.3 280.6,181.2 324.4,232.7 368.2,207.2 412.1,184.7 455.9,199.4 499.8,214.7"/>
<polyline class="ln" points="105.1,208.6 149,185 192.8,177.5 236.7,216.8 280.6,210.8 324.4,200.5 368.2,229.6 412.1,164.2 455.9,213.7 499.8,191.9"/>
<polyline class="ln" points="105.1,199.3 149,182.1 192.8,194.6 236.7,221.5 280.6,201.4 324.4,231.8 368.2,209.7 412.1,151.2 455.9,195.1 499.8,210.6"/>
<polyline class="ln" points="105.1,191.2 149,192.4 192.8,212 236.7,210.1 280.6,190.5 324.4,219.6 368.2,218.7 412.1,181.3 455.9,225.9 499.8,210"/>
<polyline class="ln" points="105.1,193.2 149,178.9 192.8,221.6 236.7,222 280.6,210 324.4,199.4 368.2,184 412.1,184.8 455.9,221.3 499.8,202.6"/>
<polyline class="ln" points="105.1,199.7 149,210.7 192.8,193.9 236.7,226 280.6,189.9 324.4,228.1 368.2,189.3 412.1,203.3 455.9,190.3 499.8,232.7"/>
<polyline class="ln" points="105.1,181.7 149,199.2 192.8,220.2 236.7,222.1 280.6,194.8 324.4,223.2 368.2,212.2 412.1,175.6 455.9,206.8 499.8,210.4"/>
<polyline class="ln" points="105.1,192 149,192.5 192.8,192.5 236.7,228.2 280.6,188.2 324.4,203.2 368.2,189.5 412.1,164.5 455.9,203.1 499.8,213.4"/>
<polyline class="ln" points="105.1,185.5 149,191.3 192.8,223.9 236.7,233.8 280.6,193 324.4,206.3 368.2,201.1 412.1,169.6 455.9,202.5 499.8,177.8"/>
<polyline class="ln" points="105.1,202.9 149,199.4 192.8,200 236.7,208.8 280.6,188.4 324.4,185.2 368.2,212 412.1,161.1 455.9,198.2 499.8,220.3"/>
<polyline class="ln" points="105.1,198.1 149,174.8 192.8,195 236.7,225.2 280.6,234.2 324.4,219.2 368.2,215.2 412.1,178.7 455.9,173.3 499.8,191.3"/>
<polyline class="ln" points="105.1,193.2 149,204.7 192.8,216.3 236.7,221.7 280.6,206.4 324.4,214.2 368.2,214 412.1,161.7 455.9,203.5 499.8,223.4"/>
<polyline class="ln" points="105.1,182.7 149,198.6 192.8,217.8 236.7,214.6 280.6,192.7 324.4,213.2 368.2,195.1 412.1,166.7 455.9,216.4 499.8,236.7"/>
<polyline class="ln" points="105.1,222.4 149,196.7 192.8,190.2 236.7,205.4 280.6,179.7 324.4,179.6 368.2,204.9 412.1,162.9 455.9,225.1 499.8,192.2"/>
<polyline class="ln" points="105.1,192.3 149,196.4 192.8,208.2 236.7,234 280.6,197.7 324.4,188.4 368.2,210.4 412.1,171.4 455.9,213.5 499.8,199.3"/>
<polyline class="ln" points="105.1,207.5 149,191.7 192.8,205.8 236.7,214.6 280.6,208.4 324.4,226 368.2,209.9 412.1,163.2 455.9,183.2 499.8,208.7"/>
<polyline class="ln" points="105.1,187.9 149,188 192.8,199.2 236.7,239.9 280.6,195 324.4,222.8 368.2,188.2 412.1,167.2 455.9,196.2 499.8,193.3"/>
<polyline class="ln" points="105.1,201.7 149,208.9 192.8,203.2 236.7,216 280.6,197.2 324.4,223.1 368.2,207.4 412.1,212.7 455.9,187.6 499.8,197.3"/>
<polyline class="ln" points="105.1,187.5 149,203.9 192.8,206.9 236.7,187.7 280.6,216.1 324.4,221.2 368.2,232.6 412.1,190.7 455.9,205.4 499.8,192.2"/>
<polyline class="ln" points="105.1,191 149,209.6 192.8,212.5 236.7,198.1 280.6,196.6 324.4,208.3 368.2,236.3 412.1,184.2 455.9,194.9 499.8,192.2"/>
<polyline class="ln" points="105.1,190.1 149,206 192.8,194.9 236.7,191.5 280.6,217.1 324.4,241 368.2,221.3 412.1,190.8 455.9,225 499.8,207.8"/>
<polyline class="ln" points="105.1,188.4 149,204.3 192.8,196.3 236.7,221 280.6,196.8 324.4,192.1 368.2,222.7 412.1,205.9 455.9,215.8 499.8,182.4"/>
<polyline class="ln" points="105.1,193.6 149,210.7 192.8,184.2 236.7,193.7 280.6,201.1 324.4,245.9 368.2,221.3 412.1,183.9 455.9,216.7 499.8,181.8"/>
<polyline class="ln" points="105.1,179.3 149,192.6 192.8,205.1 236.7,213.5 280.6,196.3 324.4,203.7 368.2,202.1 412.1,174.6 455.9,201.5 499.8,203.5"/>
<polyline class="ln" points="105.1,214.8 149,195.1 192.8,172.7 236.7,210.2 280.6,216.7 324.4,209 368.2,214.4 412.1,216.2 455.9,209.8 499.8,214.6"/>
<polyline class="ln" points="105.1,172.9 149,209.9 192.8,188 236.7,178.1 280.6,182.5 324.4,197.1 368.2,196.4 412.1,214 455.9,204.8 499.8,208.6"/>
<polyline class="ln" points="105.1,197.9 149,219.4 192.8,191.2 236.7,220.7 280.6,190.5 324.4,199.1 368.2,227.2 412.1,160.5 455.9,199.1 499.8,175.7"/>
<polyline class="ln" points="105.1,191.4 149,208.4 192.8,201.4 236.7,205.6 280.6,200.9 324.4,217 368.2,185.8 412.1,197.1 455.9,206.4 499.8,208.5"/>
<polyline class="ln" points="105.1,203.1 149,217.1 192.8,207.9 236.7,191.8 280.6,209 324.4,221.6 368.2,214.8 412.1,176.7 455.9,191.8 499.8,184.3"/>
<polyline class="ln" points="105.1,200.8 149,205.4 192.8,205.6 236.7,205.3 280.6,221.6 324.4,224.7 368.2,222.3 412.1,197.5 455.9,203.7 499.8,204.8"/>
<polyline class="ln" points="105.1,209.5 149,207.1 192.8,201.7 236.7,230 280.6,228.9 324.4,240.1 368.2,214.7 412.1,236 455.9,187.5 499.8,192.5"/>
<polyline class="ln" points="105.1,188.2 149,201.4 192.8,230.9 236.7,205.2 280.6,235.6 324.4,221.6 368.2,224.2 412.1,209.1 455.9,202.4 499.8,177.6"/>
<polyline class="ln" points="105.1,183.1 149,208.1 192.8,208.1 236.7,183.5 280.6,209.2 324.4,232.9 368.2,213.6 412.1,209.6 455.9,186.8 499.8,189.6"/>
<polyline class="ln" points="105.1,187.4 149,176.3 192.8,222.8 236.7,216.9 280.6,241.3 324.4,246.1 368.2,199.5 412.1,199.3 455.9,177.5 499.8,222.1"/>
<polyline class="ln" points="105.1,200.9 149,183.9 192.8,196.8 236.7,191.2 280.6,203.8 324.4,221.2 368.2,212 412.1,203.5 455.9,188.2 499.8,192.8"/>
<polyline class="ln" points="105.1,188 149,183.8 192.8,220.1 236.7,213.3 280.6,208.2 324.4,225.7 368.2,214.2 412.1,170 455.9,193.9 499.8,196.9"/>
<polyline class="ln" points="105.1,179.6 149,209.2 192.8,215.2 236.7,201.6 280.6,225.5 324.4,188.5 368.2,204.3 412.1,210.5 455.9,192.9 499.8,203"/>
<polyline class="ln" points="105.1,198 149,197.1 192.8,182.2 236.7,233.6 280.6,210.3 324.4,201 368.2,201.2 412.1,172.9 455.9,193.5 499.8,187.7"/>
<polyline class="ln" points="105.1,192.8 149,206.7 192.8,190.3 236.7,219.2 280.6,218.1 324.4,229.7 368.2,223.2 412.1,240 455.9,204.7 499.8,187.9"/>
<polyline class="ln" points="105.1,189.9 149,189.8 192.8,209.7 236.7,211.8 280.6,211.9 324.4,211.5 368.2,224.9 412.1,228.6 455.9,213.4 499.8,173"/>
<polyline class="ln" points="105.1,180.6 149,207 192.8,206.8 236.7,191.9 280.6,197.2 324.4,231.8 368.2,215.3 412.1,181.2 455.9,167 499.8,165.3"/>
<polyline class="ln" points="105.1,203.7 149,193.8 192.8,211.2 236.7,204 280.6,225.9 324.4,229 368.2,212 412.1,174.8 455.9,190.1 499.8,183.2"/>
<polyline class="ln" points="105.1,191.1 149,205.6 192.8,210.4 236.7,186.5 280.6,204.4 324.4,191.7 368.2,208.1 412.1,204.3 455.9,221.4 499.8,183.7"/>
<rect x="85.1" y="198" width="40" height="0.5" fill="#ee8c60" fill-opacity=".8"/>
<rect x="85.1" y="195.5" width="40" height="2.5" fill="#fff6cc" fill-opacity=".8"/>
<rect x="85.1" y="194" width="40" height="1.5" fill="#9f4763" fill-opacity=".8"/>
<rect x="85.1" y="192.5" width="40" height="1.5" fill="#37184a" fill-opacity=".8"/>
<rect x="85.1" y="198.5" width="40" height="1" fill="#ce605e" fill-opacity=".8"/>
<rect x="85.1" y="199.5" width="40" height="1" fill="#37184a" fill-opacity=".8"/>
<rect x="129" y="196.7" width="40" height="1.8" fill="#ee8c60" fill-opacity=".8"/>
<rect x="129" y="195.5" width="40" height="1.2" fill="#fff6cc" fill-opacity=".8"/>
<rect x="129" y="194.5" width="40" height="1" fill="#000000" fill-opacity=".8"/>
<rect x="129" y="190.5" width="40" height="4" fill="#ce605e" fill-opacity=".8"/>
<rect x="129" y="189.3" width="40" height="1.2" fill="#37184a" fill-opacity=".8"/>
<rect x="129" y="198.5" width="40" height="1" fill="#fff6cc" fill-opacity=".8"/>
<rect x="129" y="199.5" width="40" height="0.5" fill="#ee8c60" fill-opacity=".8"/>
<rect x="129" y="200" width="40" height="1" fill="#9f4763" fill-opacity=".8"/>
<rect x="129" y="201" width="40" height="0.7" fill="#37184a" fill-opacity=".8"/>
<rect x="172.8" y="197.7" width="40" height="0.8" fill="#37184a" fill-opacity=".8"/>
<rect x="172.8" y="198.5" width="40" height="1" fill="#fcc286" fill-opacity=".8"/>
<rect x="172.8" y="199.5" width="40" height="3" fill="#fff6cc" fill-opacity=".8"/>
<rect x="172.8" y="202.5" width="40" height="0.8" fill="#000000" fill-opacity=".8"/>
<rect x="172.8" y="203.3" width="40" height="2.5" fill="#ce605e" fill-opacity=".8"/>
<rect x="172.8" y="205.8" width="40" height="1.2" fill="#37184a" fill-opacity=".8"/>
<rect x="216.7" y="198.5" width="40" height="1.5" fill="#ee8c60" fill-opacity=".8"/>
<rect x="216.7" y="200" width="40" height="6" fill="#fff6cc" fill-opacity=".8"/>
<rect x="216.7" y="206" width="40" height="1.5" fill="#000000" fill-opacity=".8"/>
<rect x="216.7" y="207.5" width="40" height="3.8" fill="#9f4763" fill-opacity=".8"/>
<rect x="216.7" y="211.3" width="40" height="1.5" fill="#ce605e" fill-opacity=".8"/>
<rect x="216.7" y="212.8" width="40" height="0.8" fill="#37184a" fill-opacity=".8"/>
<rect x="260.6" y="198.5" width="40" height="3.3" fill="#ee8c60" fill-opacity=".8"/>
<rect x="260.6" y="201.8" width="40" height="2.3" fill="#fcc286" fill-opacity=".8"/>
<rect x="260.6" y="204.1" width="40" height="5.5" fill="#fff6cc" fill-opacity=".8"/>
<rect x="260.6" y="209.6" width="40" height="3.3" fill="#000000" fill-opacity=".8"/>
<rect x="260.6" y="212.9" width="40" height="2.6" fill="#9f4763" fill-opacity=".8"/>
<rect x="260.6" y="215.5" width="40" height="2.8" fill="#ce605e" fill-opacity=".8"/>
<rect x="260.6" y="218.3" width="40" height="1.8" fill="#702a5b" fill-opacity=".8"/>
<rect x="260.6" y="220.1" width="40" height="1.6" fill="#37184a" fill-opacity=".8"/>
<rect x="304.4" y="198.5" width="40" height="6.1" fill="#ee8c60" fill-opacity=".8"/>
<rect x="304.4" y="204.6" width="40" height="6.8" fill="#fcc286" fill-opacity=".8"/>
<rect x="304.4" y="211.4" width="40" height="2.3" fill="#fff6cc" fill-opacity=".8"/>
<rect x="304.4" y="213.7" width="40" height="3.8" fill="#000000" fill-opacity=".8"/>
<rect x="304.4" y="217.5" width="40" height="1.5" fill="#9f4763" fill-opacity=".8"/>
<rect x="304.4" y="219" width="40" height="3" fill="#ce605e" fill-opacity=".8"/>
<rect x="304.4" y="222" width="40" height="2" fill="#702a5b" fill-opacity=".8"/>
<rect x="304.4" y="224" width="40" height="2" fill="#37184a" fill-opacity=".8"/>
<rect x="348.2" y="198.5" width="40" height="2.3" fill="#ee8c60" fill-opacity=".8"/>
<rect x="348.2" y="200.8" width="40" height="1" fill="#fff6cc" fill-opacity=".8"/>
<rect x="348.2" y="201.8" width="40" height="0.5" fill="#000000" fill-opacity=".8"/>
<rect x="348.2" y="202.3" width="40" height="1.5" fill="#ce605e" fill-opacity=".8"/>
<rect x="348.2" y="203.8" width="40" height="2" fill="#37184a" fill-opacity=".8"/>
<rect x="392.1" y="196.8" width="40" height="1.7" fill="#ee8c60" fill-opacity=".8"/>
<rect x="392.1" y="191.3" width="40" height="5.5" fill="#9f4763" fill-opacity=".8"/>
<rect x="392.1" y="190.3" width="40" height="1" fill="#37184a" fill-opacity=".8"/>
<rect x="392.1" y="198.5" width="40" height="1" fill="#37184a" fill-opacity=".8"/>
<rect x="435.9" y="197.5" width="40" height="1" fill="#9f4763" fill-opacity=".8"/>
<rect x="435.9" y="198.5" width="40" height="2" fill="#fff6cc" fill-opacity=".8"/>
<rect x="435.9" y="200.5" width="40" height="1.5" fill="#9f4763" fill-opacity=".8"/>
<rect x="435.9" y="202" width="40" height="0.7" fill="#37184a" fill-opacity=".8"/>
<rect x="479.8" y="196.5" width="40" height="2" fill="#9f4763" fill-opacity=".8"/>
<rect x="479.8" y="198.5" width="40" height="1" fill="#ee8c60" fill-opacity=".8"/>
<rect x="479.8" y="199.5" width="40" height="1.8" fill="#fff6cc" fill-opacity=".8"/>
<rect x="479.8" y="201.3" width="40" height="2" fill="#37184a" fill-opacity=".8"/>
</g>
<g clip-path="url(#cpb)">
<path d="M518.9,171.7 L522.6,169.1 L526.4,169.6 L530.1,169 L533.9,171.6 L537.6,171.6 L541.4,172.1 L545.1,171.8 L548.9,170.7 L554.4,169.7 L559.9,167.6 L565.4,167.6 L570.9,168.8 L576.4,171.8 L581.9,172.6 L587.4,172.9 L592.9,171.4 L598.4,170.9 L603.9,171.4 L609.4,170.6 L614.9,169.9 L620.4,168.6 L625.9,167.6 L631.4,166.6 L636.9,164.7 L642.4,165.7 L647.9,165.3 L653.4,166.2 L658.9,163.5 L664.4,163.1 L669.9,161.1 L675.4,161 L680.9,158 L686.4,157.2 L691.9,156.2 L697.4,157.1 L702.9,156.5 L708.4,155.1 L713.9,153.4 L719.4,153.9 L724.9,154.4 L730.4,154.3 L735.9,151.7 L741.4,151.8 L746.9,151.5 L752.4,151.3 L757.9,150.9 L763.4,151.2 L768.9,151.9 L774.4,152.4 L779.9,151.3 L785.4,151.3 L790.9,149 L796.4,149.7 L801.9,149.4 L807.4,151.4 L812.9,151.8 L818.4,151.6 L823.9,150.5 L829.4,149.6 L834.9,149.4 L840.4,150.4 L845.9,150 L851.4,150.3 L856.9,149.4 L862.4,150.6 L867.9,150.5 L873.4,150.9 L878.9,149.8 L884.4,150.6 L889.9,150.1 L895.4,148.9 L900.9,147.8 L906.4,147 L911.9,148.6 L917.4,149.5 L922.9,149.6 L928.4,150.2 L933.9,149.4 L939.4,152.3 L944.9,152.5 L948.6,152.5 L952.4,151.7 L956.1,151.7 L959.9,152.9 L963.6,152.4 L967.4,151.6 L971.1,149.7 L974.9,148.3 L974.9,249.5 L971.1,250 L967.4,252.6 L963.6,253.7 L959.9,253.6 L956.1,250.9 L952.4,249.6 L948.6,249.9 L944.9,250.2 L939.4,253.1 L933.9,252.2 L928.4,253.3 L922.9,251.7 L917.4,250.9 L911.9,249.8 L906.4,249.8 L900.9,250.6 L895.4,251.4 L889.9,250.3 L884.4,250.4 L878.9,249.7 L873.4,249.9 L867.9,249.5 L862.4,248.7 L856.9,249.4 L851.4,249.6 L845.9,249.6 L840.4,249.3 L834.9,249.9 L829.4,251.3 L823.9,251.3 L818.4,251.1 L812.9,250.6 L807.4,251.4 L801.9,252.7 L796.4,251.2 L790.9,248.8 L785.4,248 L779.9,250.1 L774.4,250.2 L768.9,249.9 L763.4,247.6 L757.9,247.1 L752.4,246.7 L746.9,246.7 L741.4,246.9 L735.9,245.6 L730.4,246.5 L724.9,247 L719.4,247 L713.9,245.1 L708.4,244.9 L702.9,243 L697.4,241 L691.9,238.2 L686.4,236.5 L680.9,238.8 L675.4,240 L669.9,241.6 L664.4,238.6 L658.9,237.6 L653.4,233.1 L647.9,232.4 L642.4,228.6 L636.9,230.5 L631.4,228.9 L625.9,230.1 L620.4,227.6 L614.9,227.6 L609.4,225.4 L603.9,225 L598.4,222.9 L592.9,222.5 L587.4,223.1 L581.9,222.2 L576.4,223 L570.9,222.5 L565.4,223.7 L559.9,223.6 L554.4,222.9 L548.9,223.9 L545.1,223.9 L541.4,223.7 L537.6,222.1 L533.9,221.8 L530.1,222.6 L526.4,222.6 L522.6,222.4 L518.9,222.1Z" fill="#78a0ad" fill-opacity="0.22" filter="url(#bl1_5)"/>
<path d="M518.9,171 L522.6,173 L526.4,175.4 L530.1,174.5 L533.9,173.4 L537.6,172 L541.4,171.2 L545.1,171.7 L548.9,171.4 L554.4,173.8 L559.9,173.3 L565.4,173.5 L570.9,172.5 L576.4,173.7 L581.9,173.8 L587.4,175.2 L592.9,174.8 L598.4,176 L603.9,174.8 L609.4,174 L614.9,172.4 L620.4,172.2 L625.9,171.7 L631.4,171.6 L636.9,170.4 L642.4,169.1 L647.9,168.3 L653.4,166.3 L658.9,165.1 L664.4,163 L669.9,163.3 L675.4,161.7 L680.9,162.2 L686.4,162.6 L691.9,161.7 L697.4,158.7 L702.9,155.8 L708.4,155.1 L713.9,156.5 L719.4,155.3 L724.9,154.5 L730.4,153 L735.9,154.2 L741.4,154.3 L746.9,153.1 L752.4,151.6 L757.9,152.9 L763.4,154.3 L768.9,154.1 L774.4,154.2 L779.9,152.9 L785.4,153.7 L790.9,150.8 L796.4,150.9 L801.9,150.9 L807.4,153 L812.9,153 L818.4,153.4 L823.9,153.8 L829.4,154.1 L834.9,152.5 L840.4,152.9 L845.9,152.5 L851.4,154.1 L856.9,152.4 L862.4,153.6 L867.9,153.7 L873.4,155.7 L878.9,154.8 L884.4,155.6 L889.9,154.2 L895.4,154.2 L900.9,153.6 L906.4,153.5 L911.9,152.3 L917.4,152.6 L922.9,152.3 L928.4,153.8 L933.9,153.6 L939.4,155.1 L944.9,153.4 L948.6,151.6 L952.4,150.7 L956.1,153.1 L959.9,153.1 L963.6,151.6 L967.4,149.7 L971.1,149.5 L974.9,149.8 L974.9,247.9 L971.1,248.2 L967.4,248.4 L963.6,249.6 L959.9,247.8 L956.1,248.5 L952.4,248.9 L948.6,251.1 L944.9,250.8 L939.4,250.8 L933.9,249.2 L928.4,249.8 L922.9,248.2 L917.4,248.9 L911.9,249 L906.4,248.1 L900.9,247.9 L895.4,245.3 L889.9,248.1 L884.4,246.9 L878.9,247.1 L873.4,245.5 L867.9,246.7 L862.4,248.5 L856.9,248.9 L851.4,248.6 L845.9,246.3 L840.4,245.9 L834.9,245.7 L829.4,247.1 L823.9,247.5 L818.4,247.3 L812.9,246.6 L807.4,245.8 L801.9,245.5 L796.4,246.7 L790.9,246.1 L785.4,246.5 L779.9,246.7 L774.4,247.4 L768.9,247.6 L763.4,247 L757.9,246.9 L752.4,245.8 L746.9,245.3 L741.4,244.7 L735.9,245.1 L730.4,244.4 L724.9,245.2 L719.4,244.7 L713.9,244.5 L708.4,242.5 L702.9,241.8 L697.4,238.9 L691.9,237.7 L686.4,235.9 L680.9,237.2 L675.4,234.7 L669.9,233.7 L664.4,232.5 L658.9,231.9 L653.4,232.2 L647.9,230 L642.4,230.9 L636.9,229.6 L631.4,228.7 L625.9,226.1 L620.4,223.9 L614.9,223.3 L609.4,223.3 L603.9,223 L598.4,221.2 L592.9,218.9 L587.4,218.8 L581.9,220.6 L576.4,220.2 L570.9,219.9 L565.4,217.7 L559.9,219.3 L554.4,218.1 L548.9,219.2 L545.1,219.1 L541.4,220 L537.6,219.9 L533.9,218.9 L530.1,219 L526.4,220.8 L522.6,220.5 L518.9,219.3Z" fill="#78a0ad" fill-opacity="0.22" filter="url(#bl1_5)"/>
<path d="M518.9,175.1 L522.6,174.6 L526.4,175.4 L530.1,177.6 L533.9,178.1 L537.6,177.2 L541.4,177.3 L545.1,177 L548.9,177.1 L554.4,175.7 L559.9,175.3 L565.4,175.7 L570.9,177.3 L576.4,179.4 L581.9,179.3 L587.4,178.4 L592.9,176.7 L598.4,176.5 L603.9,175.6 L609.4,173.4 L614.9,172.5 L620.4,171.5 L625.9,173.3 L631.4,172.3 L636.9,173.7 L642.4,173.5 L647.9,172.3 L653.4,169.1 L658.9,167 L664.4,164.7 L669.9,164.5 L675.4,163 L680.9,163.2 L686.4,163.3 L691.9,162.9 L697.4,164 L702.9,163.2 L708.4,163 L713.9,161.3 L719.4,161 L724.9,159.9 L730.4,160.6 L735.9,159.8 L741.4,159.8 L746.9,158.5 L752.4,157.4 L757.9,157.8 L763.4,156.3 L768.9,156.1 L774.4,155 L779.9,155.5 L785.4,155.1 L790.9,155.1 L796.4,157 L801.9,158.6 L807.4,159.4 L812.9,157.4 L818.4,155.7 L823.9,155.4 L829.4,156.4 L834.9,156.9 L840.4,157 L845.9,157.8 L851.4,157.6 L856.9,157.1 L862.4,157.1 L867.9,155.8 L873.4,156 L878.9,152.1 L884.4,153.1 L889.9,154 L895.4,157.1 L900.9,158.5 L906.4,158.3 L911.9,157.1 L917.4,155.7 L922.9,155.4 L928.4,157.1 L933.9,158.7 L939.4,157.5 L944.9,155.8 L948.6,156.3 L952.4,157 L956.1,158.6 L959.9,155.9 L963.6,155.1 L967.4,154.4 L971.1,155 L974.9,155.2 L974.9,245.5 L971.1,246.2 L967.4,247.7 L963.6,249.3 L959.9,249.3 L956.1,248.4 L952.4,246.8 L948.6,244.6 L944.9,243.3 L939.4,244.9 L933.9,245.6 L928.4,246.3 L922.9,245.6 L917.4,247.1 L911.9,246.8 L906.4,246 L900.9,244.3 L895.4,244.5 L889.9,244.8 L884.4,245.6 L878.9,244.7 L873.4,244.7 L867.9,245 L862.4,245 L856.9,245.5 L851.4,243.4 L845.9,243.1 L840.4,243.1 L834.9,243 L829.4,243.1 L823.9,241.4 L818.4,241.9 L812.9,242.9 L807.4,242.6 L801.9,241.8 L796.4,243 L790.9,243.6 L785.4,244.9 L779.9,242.4 L774.4,242.1 L768.9,242.4 L763.4,242.9 L757.9,243.3 L752.4,242.3 L746.9,241.9 L741.4,240.7 L735.9,241.2 L730.4,239.9 L724.9,239.9 L719.4,239.1 L713.9,240.2 L708.4,241.2 L702.9,239.6 L697.4,236.3 L691.9,233.7 L686.4,232.6 L680.9,233.4 L675.4,233.4 L669.9,232.6 L664.4,231.1 L658.9,227.8 L653.4,227.3 L647.9,225.2 L642.4,225.6 L636.9,225 L631.4,225.4 L625.9,223.1 L620.4,220.2 L614.9,219.4 L609.4,218.7 L603.9,218.3 L598.4,216.9 L592.9,216.2 L587.4,216.4 L581.9,216.6 L576.4,216.1 L570.9,216.7 L565.4,216.8 L559.9,217.9 L554.4,217.7 L548.9,218.3 L545.1,219 L541.4,217.6 L537.6,216.1 L533.9,216.8 L530.1,216.8 L526.4,217.9 L522.6,216.3 L518.9,217Z" fill="#78a0ad" fill-opacity="0.22" filter="url(#bl1_5)"/>
<path d="M518.9,178.5 L522.6,178.8 L526.4,178.6 L530.1,178.6 L533.9,179.2 L537.6,179.2 L541.4,180.1 L545.1,178.7 L548.9,178.7 L554.4,177.9 L559.9,179.1 L565.4,179.1 L570.9,181.3 L576.4,180.8 L581.9,181.7 L587.4,181.3 L592.9,181.1 L598.4,182.1 L603.9,181.9 L609.4,180.4 L614.9,177.6 L620.4,176 L625.9,175.8 L631.4,174.9 L636.9,173.9 L642.4,174.6 L647.9,173.2 L653.4,173.3 L658.9,170.4 L664.4,168.6 L669.9,166.1 L675.4,164.5 L680.9,166.5 L686.4,166.9 L691.9,168.2 L697.4,165.2 L702.9,163.1 L708.4,162.6 L713.9,162.3 L719.4,163.1 L724.9,161.8 L730.4,162.5 L735.9,161 L741.4,161.5 L746.9,160.5 L752.4,160.9 L757.9,159.1 L763.4,157.7 L768.9,158 L774.4,159.1 L779.9,159.7 L785.4,159 L790.9,158.3 L796.4,159.7 L801.9,159.7 L807.4,159.5 L812.9,159.4 L818.4,160.7 L823.9,161 L829.4,161.5 L834.9,159 L840.4,158.5 L845.9,157.6 L851.4,157.8 L856.9,158.6 L862.4,157.5 L867.9,158.9 L873.4,155.7 L878.9,155.7 L884.4,155.2 L889.9,158.5 L895.4,160.1 L900.9,160.4 L906.4,159.7 L911.9,157.9 L917.4,157 L922.9,157 L928.4,156.2 L933.9,157.3 L939.4,159 L944.9,160.7 L948.6,160.8 L952.4,159.9 L956.1,160.1 L959.9,160.5 L963.6,159.3 L967.4,159 L971.1,158.2 L974.9,158.6 L974.9,243 L971.1,241.5 L967.4,240.8 L963.6,240.8 L959.9,243.5 L956.1,243.1 L952.4,244.5 L948.6,243.7 L944.9,243.3 L939.4,241.1 L933.9,239 L928.4,239.8 L922.9,240 L917.4,241 L911.9,242 L906.4,243.2 L900.9,244.8 L895.4,243.9 L889.9,244.8 L884.4,242.8 L878.9,242.4 L873.4,240.2 L867.9,240.7 L862.4,241.4 L856.9,241.9 L851.4,241.8 L845.9,241.7 L840.4,240.7 L834.9,240.7 L829.4,240.5 L823.9,241.9 L818.4,241.6 L812.9,242.7 L807.4,241.9 L801.9,243 L796.4,242.9 L790.9,244.6 L785.4,243.9 L779.9,242.7 L774.4,240.9 L768.9,240.7 L763.4,241 L757.9,241.9 L752.4,241.5 L746.9,239.9 L741.4,237.3 L735.9,236.6 L730.4,237.7 L724.9,239 L719.4,238.3 L713.9,237.2 L708.4,235.4 L702.9,234.3 L697.4,232.6 L691.9,230.3 L686.4,229.2 L680.9,229.7 L675.4,230.4 L669.9,229.3 L664.4,226.6 L658.9,226.4 L653.4,225.4 L647.9,224.8 L642.4,224.1 L636.9,222.3 L631.4,222.9 L625.9,220.5 L620.4,218.9 L614.9,217.1 L609.4,216.6 L603.9,217 L598.4,214.9 L592.9,214.3 L587.4,213.6 L581.9,214.3 L576.4,213.6 L570.9,213.8 L565.4,213.9 L559.9,213.9 L554.4,214.2 L548.9,214.4 L545.1,214.4 L541.4,213.4 L537.6,213.4 L533.9,213.9 L530.1,214.8 L526.4,212.6 L522.6,212.6 L518.9,213Z" fill="#78a0ad" fill-opacity="0.22" filter="url(#bl1_5)"/>
<path d="M518.9,180.3 L522.6,181.1 L526.4,180.3 L530.1,181.2 L533.9,181 L537.6,180.9 L541.4,180.3 L545.1,179.8 L548.9,181.8 L554.4,182 L559.9,181.5 L565.4,179.2 L570.9,180.1 L576.4,179.8 L581.9,182.4 L587.4,182.6 L592.9,184.8 L598.4,185.1 L603.9,185.8 L609.4,183.8 L614.9,179.8 L620.4,176.5 L625.9,176.3 L631.4,179.2 L636.9,179.7 L642.4,179.1 L647.9,176.6 L653.4,175.1 L658.9,175.2 L664.4,173.9 L669.9,173 L675.4,170.2 L680.9,169.1 L686.4,169.1 L691.9,170.4 L697.4,169.8 L702.9,167.7 L708.4,164.4 L713.9,162.4 L719.4,162.1 L724.9,163 L730.4,165.9 L735.9,167.4 L741.4,167 L746.9,165.1 L752.4,164.6 L757.9,162.9 L763.4,162.8 L768.9,161.6 L774.4,163.4 L779.9,161.6 L785.4,160.7 L790.9,160.4 L796.4,162.2 L801.9,164.2 L807.4,163.1 L812.9,162.5 L818.4,161.6 L823.9,161.7 L829.4,162.4 L834.9,161.2 L840.4,161.9 L845.9,161.5 L851.4,162.5 L856.9,162.1 L862.4,163.4 L867.9,163.8 L873.4,163.5 L878.9,162.8 L884.4,163.4 L889.9,163.1 L895.4,163 L900.9,161.1 L906.4,160.4 L911.9,158.5 L917.4,159.5 L922.9,160.5 L928.4,162.5 L933.9,161.7 L939.4,161.5 L944.9,159.5 L948.6,159.8 L952.4,160.2 L956.1,161.8 L959.9,162.6 L963.6,163.1 L967.4,163.1 L971.1,161.7 L974.9,160.4 L974.9,240.1 L971.1,239.3 L967.4,237.5 L963.6,236.9 L959.9,237 L956.1,238 L952.4,238.8 L948.6,237.5 L944.9,238 L939.4,238.1 L933.9,239.4 L928.4,239.4 L922.9,239.4 L917.4,238.3 L911.9,237.2 L906.4,235.7 L900.9,235.2 L895.4,235.8 L889.9,236.8 L884.4,237.7 L878.9,238.2 L873.4,238.7 L867.9,238.4 L862.4,238.1 L856.9,239.3 L851.4,240.7 L845.9,239.6 L840.4,238.1 L834.9,236.6 L829.4,235.9 L823.9,235.6 L818.4,236.8 L812.9,238.1 L807.4,238 L801.9,238.5 L796.4,238.6 L790.9,237.9 L785.4,236.5 L779.9,237.2 L774.4,239.3 L768.9,239.1 L763.4,237.8 L757.9,236.3 L752.4,238.6 L746.9,237.4 L741.4,237.3 L735.9,233.3 L730.4,234.7 L724.9,234.2 L719.4,235.6 L713.9,233.8 L708.4,232.3 L702.9,230.1 L697.4,228.3 L691.9,226.8 L686.4,225.9 L680.9,226.8 L675.4,227 L669.9,226.3 L664.4,225.2 L658.9,221.4 L653.4,220.4 L647.9,218.7 L642.4,217.4 L636.9,217.7 L631.4,217.5 L625.9,219.5 L620.4,216.2 L614.9,215.3 L609.4,212.6 L603.9,212.9 L598.4,212.5 L592.9,213.4 L587.4,213.4 L581.9,212.3 L576.4,211.7 L570.9,211.5 L565.4,209.1 L559.9,208.9 L554.4,207.5 L548.9,210.2 L545.1,210.6 L541.4,211.5 L537.6,208.8 L533.9,209.6 L530.1,210.2 L526.4,212.7 L522.6,212.3 L518.9,212.1Z" fill="#78a0ad" fill-opacity="0.22" filter="url(#bl1_5)"/>
<path d="M518.9,183.8 L522.6,185.3 L526.4,185.1 L530.1,183.9 L533.9,183.3 L537.6,184.6 L541.4,185.5 L545.1,185.1 L548.9,183.9 L554.4,183.4 L559.9,183.5 L565.4,184.8 L570.9,186.9 L576.4,187.6 L581.9,187.5 L587.4,187.4 L592.9,187.7 L598.4,188.9 L603.9,188.2 L609.4,187.1 L614.9,185.4 L620.4,185.2 L625.9,184.9 L631.4,184.3 L636.9,182.7 L642.4,180.6 L647.9,179 L653.4,178.4 L658.9,178.2 L664.4,176.6 L669.9,175.5 L675.4,173.5 L680.9,172.8 L686.4,172.5 L691.9,171.9 L697.4,171.1 L702.9,169 L708.4,169.8 L713.9,167.7 L719.4,167.2 L724.9,166.8 L730.4,167.6 L735.9,168.5 L741.4,166.2 L746.9,166.4 L752.4,167 L757.9,166.9 L763.4,167 L768.9,165 L774.4,165.3 L779.9,164.5 L785.4,164.7 L790.9,165.2 L796.4,165.9 L801.9,166.5 L807.4,165.6 L812.9,164.7 L818.4,163.4 L823.9,162.9 L829.4,163.9 L834.9,163.1 L840.4,165.2 L845.9,166.4 L851.4,167.2 L856.9,165.4 L862.4,163.1 L867.9,162.8 L873.4,163.9 L878.9,165.6 L884.4,165.7 L889.9,165.8 L895.4,164.4 L900.9,163.9 L906.4,162.8 L911.9,165.2 L917.4,167.1 L922.9,168.8 L928.4,165.4 L933.9,165.3 L939.4,164.5 L944.9,165 L948.6,164.1 L952.4,164.6 L956.1,165.1 L959.9,164.2 L963.6,162.5 L967.4,162.5 L971.1,163.7 L974.9,164.9 L974.9,236.6 L971.1,236.5 L967.4,238 L963.6,238.3 L959.9,239.7 L956.1,240.3 L952.4,239.5 L948.6,238.9 L944.9,235.8 L939.4,235.7 L933.9,236 L928.4,236.2 L922.9,237.3 L917.4,237.9 L911.9,239.8 L906.4,238.5 L900.9,237.2 L895.4,236.2 L889.9,235.1 L884.4,236 L878.9,236.6 L873.4,237.5 L867.9,237.2 L862.4,235.7 L856.9,235.6 L851.4,236.3 L845.9,238.2 L840.4,237.4 L834.9,237.8 L829.4,238 L823.9,239.1 L818.4,237.5 L812.9,235.4 L807.4,234.7 L801.9,233.4 L796.4,234.5 L790.9,235.1 L785.4,234.7 L779.9,232.2 L774.4,231.4 L768.9,233.4 L763.4,234.7 L757.9,233.5 L752.4,232.1 L746.9,231.9 L741.4,231.6 L735.9,231.1 L730.4,231.2 L724.9,230.8 L719.4,229.8 L713.9,228.9 L708.4,229.5 L702.9,230 L697.4,227.6 L691.9,226.5 L686.4,224.5 L680.9,226.4 L675.4,225.9 L669.9,226.1 L664.4,223.4 L658.9,220.8 L653.4,217.6 L647.9,217.9 L642.4,217.7 L636.9,217.8 L631.4,216.3 L625.9,215.3 L620.4,214.5 L614.9,213.4 L609.4,213.5 L603.9,212.1 L598.4,209.9 L592.9,208 L587.4,207.6 L581.9,208.5 L576.4,208.7 L570.9,207.9 L565.4,206.4 L559.9,205.8 L554.4,206.5 L548.9,206.6 L545.1,206.4 L541.4,206.1 L537.6,205.4 L533.9,205.6 L530.1,206.5 L526.4,208.4 L522.6,207.1 L518.9,205.4Z" fill="#78a0ad" fill-opacity="0.22" filter="url(#bl1_5)"/>
<path d="M518.9,190.7 L522.6,190.3 L526.4,188.5 L530.1,188.2 L533.9,187.3 L537.6,188.5 L541.4,186.6 L545.1,186.2 L548.9,183.7 L554.4,185.5 L559.9,187.5 L565.4,189.3 L570.9,190 L576.4,189 L581.9,190.5 L587.4,190.2 L592.9,189.2 L598.4,188.7 L603.9,190.2 L609.4,189.9 L614.9,187.1 L620.4,185.8 L625.9,186.6 L631.4,188.3 L636.9,187 L642.4,185.4 L647.9,184.4 L653.4,183.1 L658.9,182.4 L664.4,179.6 L669.9,176 L675.4,173.7 L680.9,173 L686.4,173.5 L691.9,174.4 L697.4,176.5 L702.9,175.8 L708.4,174.5 L713.9,170.2 L719.4,170 L724.9,169.2 L730.4,170 L735.9,170.5 L741.4,171.3 L746.9,172.4 L752.4,171.3 L757.9,168.8 L763.4,168 L768.9,167 L774.4,168.6 L779.9,168.3 L785.4,167.9 L790.9,167.1 L796.4,167 L801.9,169.6 L807.4,170.8 L812.9,169.1 L818.4,166.5 L823.9,165.5 L829.4,166.4 L834.9,168.2 L840.4,169.5 L845.9,169.2 L851.4,168.4 L856.9,167.5 L862.4,167.3 L867.9,166.4 L873.4,166.6 L878.9,168.4 L884.4,169.1 L889.9,169.4 L895.4,168.7 L900.9,168.8 L906.4,167.7 L911.9,167.2 L917.4,167.5 L922.9,167.8 L928.4,167.8 L933.9,166.1 L939.4,167.2 L944.9,168.1 L948.6,167.6 L952.4,165.6 L956.1,164.7 L959.9,165 L963.6,165.6 L967.4,164.9 L971.1,166.8 L974.9,167.7 L974.9,231.5 L971.1,232.3 L967.4,234.2 L963.6,233.5 L959.9,234.1 L956.1,232.3 L952.4,232.5 L948.6,233 L944.9,233.8 L939.4,233 L933.9,232.1 L928.4,231.6 L922.9,232.9 L917.4,231.4 L911.9,233.4 L906.4,231.6 L900.9,233.6 L895.4,232.3 L889.9,233.7 L884.4,233.3 L878.9,235.2 L873.4,234.4 L867.9,234.3 L862.4,232.5 L856.9,233 L851.4,235.3 L845.9,234.5 L840.4,234.3 L834.9,232.5 L829.4,233.8 L823.9,233.6 L818.4,232.6 L812.9,232.5 L807.4,232 L801.9,231 L796.4,230.5 L790.9,231.8 L785.4,233.5 L779.9,231.9 L774.4,230.9 L768.9,228.7 L763.4,228.3 L757.9,227.6 L752.4,227.9 L746.9,228.4 L741.4,228.8 L735.9,228.5 L730.4,227.7 L724.9,226.9 L719.4,228.4 L713.9,229 L708.4,229.5 L702.9,227.3 L697.4,225.3 L691.9,222 L686.4,221.7 L680.9,220.9 L675.4,221.9 L669.9,221 L664.4,220.7 L658.9,219.8 L653.4,217.1 L647.9,214.7 L642.4,213 L636.9,212.1 L631.4,212.6 L625.9,213.2 L620.4,213.4 L614.9,211.7 L609.4,208.9 L603.9,206.7 L598.4,206.3 L592.9,205.6 L587.4,205.9 L581.9,204.8 L576.4,205.7 L570.9,204.2 L565.4,204.4 L559.9,204.4 L554.4,204 L548.9,203.8 L545.1,203 L541.4,205.5 L537.6,205.8 L533.9,205.4 L530.1,204.3 L526.4,205.8 L522.6,206.3 L518.9,206.8Z" fill="#78a0ad" fill-opacity="0.22" filter="url(#bl1_5)"/>
<path d="M518.9,191.9 L522.6,191.1 L526.4,190.4 L530.1,190 L533.9,188.7 L537.6,187.8 L541.4,188.9 L545.1,189.4 L548.9,187.1 L554.4,186.3 L559.9,187.3 L565.4,190.3 L570.9,191.5 L576.4,191.3 L581.9,192.4 L587.4,192.7 L592.9,194.2 L598.4,194.4 L603.9,193.5 L609.4,193.4 L614.9,190.6 L620.4,188.6 L625.9,187.4 L631.4,188.3 L636.9,191 L642.4,189.7 L647.9,188.1 L653.4,186.1 L658.9,184.3 L664.4,184.1 L669.9,181.3 L675.4,179.3 L680.9,178 L686.4,178.4 L691.9,178.7 L697.4,177.2 L702.9,176.3 L708.4,176.3 L713.9,175.5 L719.4,174 L724.9,172 L730.4,174.1 L735.9,174.6 L741.4,174.3 L746.9,172 L752.4,173.1 L757.9,173.4 L763.4,172.9 L768.9,171.2 L774.4,172.2 L779.9,173 L785.4,172.1 L790.9,168.7 L796.4,168.2 L801.9,169.9 L807.4,170.6 L812.9,170 L818.4,169.4 L823.9,170.6 L829.4,171.1 L834.9,170.3 L840.4,171.1 L845.9,171.1 L851.4,172.5 L856.9,172.1 L862.4,171.2 L867.9,170.4 L873.4,170.9 L878.9,172.1 L884.4,171.8 L889.9,171.7 L895.4,170.8 L900.9,172.3 L906.4,172.3 L911.9,171.3 L917.4,170.1 L922.9,168.7 L928.4,169.4 L933.9,167.7 L939.4,167.7 L944.9,168.6 L948.6,169.9 L952.4,171.1 L956.1,171.6 L959.9,172.2 L963.6,173.1 L967.4,171.9 L971.1,170.7 L974.9,168.4 L974.9,230.6 L971.1,229.1 L967.4,227.8 L963.6,227.7 L959.9,227.7 L956.1,228.7 L952.4,229.9 L948.6,232.1 L944.9,232.4 L939.4,230.4 L933.9,228.5 L928.4,228.3 L922.9,227.2 L917.4,227.6 L911.9,227.6 L906.4,229.8 L900.9,230.4 L895.4,232.4 L889.9,231.2 L884.4,231 L878.9,227.9 L873.4,228.4 L867.9,229.3 L862.4,230 L856.9,229.2 L851.4,227.1 L845.9,227.3 L840.4,228.6 L834.9,229.9 L829.4,229 L823.9,228.1 L818.4,227.7 L812.9,229.6 L807.4,230.1 L801.9,230.4 L796.4,228.3 L790.9,227.5 L785.4,229 L779.9,230.9 L774.4,231.7 L768.9,228.6 L763.4,226.1 L757.9,225.5 L752.4,225.9 L746.9,226.5 L741.4,227 L735.9,227.5 L730.4,227.2 L724.9,226.7 L719.4,226.4 L713.9,224.8 L708.4,222.1 L702.9,221.3 L697.4,220.9 L691.9,222 L686.4,220.3 L680.9,221.4 L675.4,219.9 L669.9,217.7 L664.4,214 L658.9,213.7 L653.4,213.8 L647.9,212.3 L642.4,209.1 L636.9,208.8 L631.4,210.2 L625.9,210.9 L620.4,210.5 L614.9,209.4 L609.4,205.9 L603.9,203.7 L598.4,201.8 L592.9,203.8 L587.4,202.6 L581.9,203 L576.4,200.6 L570.9,201.5 L565.4,200.3 L559.9,201.3 L554.4,201.3 L548.9,200.5 L545.1,200.7 L541.4,200.9 L537.6,203 L533.9,202.6 L530.1,201.9 L526.4,200.8 L522.6,201.2 L518.9,201.1Z" fill="#78a0ad" fill-opacity="0.22" filter="url(#bl1_5)"/>
<polyline class="ln" points="548.9,196.1 592.9,212.9 636.9,212.5 680.9,218.7 724.9,261.5 768.9,242.2 812.9,236.9 856.9,168.6 900.9,223.9 944.9,200.7"/>
<polyline class="ln" points="548.9,188.7 592.9,189.2 636.9,209.4 680.9,180.5 724.9,234.5 768.9,220.5 812.9,237 856.9,196.7 900.9,229.3 944.9,199"/>
<polyline class="ln" points="548.9,200.1 592.9,181.6 636.9,185.1 680.9,211.2 724.9,200 768.9,217.2 812.9,237.1 856.9,199 900.9,195.8 944.9,191.3"/>
<polyline class="ln" points="548.9,174 592.9,192 636.9,210.8 680.9,205.7 724.9,245.5 768.9,228 812.9,220.9 856.9,196.5 900.9,224.2 944.9,182.6"/>
<polyline class="ln" points="548.9,197.7 592.9,184.6 636.9,209 680.9,209.3 724.9,232.9 768.9,258.4 812.9,205.2 856.9,200.9 900.9,200.3 944.9,225.9"/>
<polyline class="ln" points="548.9,182.2 592.9,185.8 636.9,202.4 680.9,210.5 724.9,217.1 768.9,233 812.9,238 856.9,205.5 900.9,215.2 944.9,203.8"/>
<polyline class="ln" points="548.9,186.7 592.9,195.3 636.9,196.3 680.9,231.5 724.9,229.6 768.9,247.4 812.9,240.4 856.9,190.2 900.9,215.8 944.9,221.3"/>
<polyline class="ln" points="548.9,185.1 592.9,187.3 636.9,204.1 680.9,194.7 724.9,240.4 768.9,262.1 812.9,235.3 856.9,155.4 900.9,212.9 944.9,221.3"/>
<polyline class="ln" points="548.9,191.7 592.9,201.4 636.9,206.1 680.9,198.9 724.9,256.3 768.9,270.9 812.9,255.3 856.9,164.8 900.9,209.8 944.9,206.3"/>
<polyline class="ln" points="548.9,200.3 592.9,189.6 636.9,185.5 680.9,216 724.9,216.1 768.9,229.8 812.9,236.8 856.9,180 900.9,209.5 944.9,185.5"/>
<polyline class="ln" points="548.9,190.3 592.9,200.4 636.9,199.6 680.9,198.1 724.9,234.8 768.9,238.8 812.9,246.1 856.9,161.2 900.9,188.8 944.9,210.2"/>
<polyline class="ln" points="548.9,185.6 592.9,194.1 636.9,197.3 680.9,208.2 724.9,215.8 768.9,222.8 812.9,251.1 856.9,165.8 900.9,214.6 944.9,213.8"/>
<polyline class="ln" points="548.9,194.1 592.9,189.6 636.9,199.2 680.9,199.4 724.9,227.7 768.9,249 812.9,215.3 856.9,206.2 900.9,196.8 944.9,190.7"/>
<polyline class="ln" points="548.9,202.4 592.9,197.4 636.9,213.5 680.9,180.8 724.9,225.4 768.9,239.2 812.9,257.5 856.9,195.4 900.9,194.7 944.9,183.5"/>
<polyline class="ln" points="548.9,188.6 592.9,203.4 636.9,215.2 680.9,183.7 724.9,238.6 768.9,238.1 812.9,243.1 856.9,203.3 900.9,197.2 944.9,223.6"/>
<polyline class="ln" points="548.9,203 592.9,212 636.9,196.4 680.9,208 724.9,258.3 768.9,218.8 812.9,240.4 856.9,234.3 900.9,210.7 944.9,216.4"/>
<polyline class="ln" points="548.9,196 592.9,193.8 636.9,208 680.9,198.6 724.9,231.9 768.9,225.4 812.9,225.5 856.9,197.1 900.9,219.4 944.9,233.9"/>
<polyline class="ln" points="548.9,200.2 592.9,174.6 636.9,199.4 680.9,217.1 724.9,258 768.9,233.9 812.9,247.7 856.9,203.4 900.9,202.3 944.9,244.2"/>
<polyline class="ln" points="548.9,198.2 592.9,188.5 636.9,208.2 680.9,224.4 724.9,248 768.9,258.5 812.9,206.2 856.9,185 900.9,213.5 944.9,185.7"/>
<polyline class="ln" points="548.9,206.9 592.9,200.9 636.9,209.8 680.9,208.6 724.9,212.7 768.9,202.6 812.9,229.2 856.9,216.1 900.9,202.9 944.9,211"/>
<polyline class="ln" points="548.9,193.7 592.9,203.9 636.9,199.7 680.9,198.5 724.9,207.2 768.9,250.3 812.9,234.2 856.9,208.2 900.9,216.4 944.9,238.4"/>
<polyline class="ln" points="548.9,202.3 592.9,187.9 636.9,205.2 680.9,170 724.9,214.8 768.9,248.5 812.9,242.5 856.9,204.6 900.9,198.5 944.9,211.2"/>
<polyline class="ln" points="548.9,193 592.9,187.5 636.9,200.6 680.9,213.1 724.9,260.1 768.9,233.7 812.9,247.3 856.9,215 900.9,212.8 944.9,195.4"/>
<polyline class="ln" points="548.9,187.3 592.9,202.4 636.9,216.2 680.9,200.8 724.9,199 768.9,229.8 812.9,233.4 856.9,242.3 900.9,212.8 944.9,198.5"/>
<polyline class="ln" points="548.9,193.8 592.9,196.1 636.9,196.6 680.9,192.5 724.9,224.1 768.9,248.4 812.9,263 856.9,209.9 900.9,207.6 944.9,210.3"/>
<polyline class="ln" points="548.9,187.1 592.9,202 636.9,205.1 680.9,195.7 724.9,242.8 768.9,272.1 812.9,249.6 856.9,197.7 900.9,213.5 944.9,211.4"/>
<polyline class="ln" points="548.9,215.8 592.9,195.3 636.9,209.4 680.9,192 724.9,248.6 768.9,197.3 812.9,255.1 856.9,160.8 900.9,227 944.9,211"/>
<polyline class="ln" points="548.9,208.9 592.9,187.5 636.9,210.4 680.9,216.1 724.9,240.7 768.9,228.7 812.9,224 856.9,210.6 900.9,227.6 944.9,227.6"/>
<polyline class="ln" points="548.9,204.3 592.9,185.2 636.9,220.1 680.9,195.5 724.9,228.1 768.9,218.1 812.9,251.3 856.9,187.5 900.9,201 944.9,175.2"/>
<polyline class="ln" points="548.9,210.2 592.9,190.2 636.9,202.4 680.9,202.8 724.9,239.5 768.9,218.7 812.9,209.8 856.9,188.7 900.9,218.9 944.9,189.1"/>
<polyline class="ln" points="548.9,218.1 592.9,185.7 636.9,216.4 680.9,216.6 724.9,211.9 768.9,191.3 812.9,217.9 856.9,197.3 900.9,195.7 944.9,193.5"/>
<polyline class="ln" points="548.9,224.6 592.9,195.1 636.9,216.4 680.9,221.3 724.9,255.7 768.9,209.1 812.9,222.1 856.9,165 900.9,221.8 944.9,203.2"/>
<polyline class="ln" points="548.9,211.3 592.9,180.3 636.9,197.1 680.9,185 724.9,207.7 768.9,228.9 812.9,206.1 856.9,217.5 900.9,226.2 944.9,207.8"/>
<polyline class="ln" points="548.9,185.5 592.9,195.8 636.9,219.5 680.9,207 724.9,204.4 768.9,210.2 812.9,216.1 856.9,216 900.9,223 944.9,185.2"/>
<polyline class="ln" points="548.9,203.4 592.9,195.2 636.9,213 680.9,190 724.9,194.3 768.9,212.6 812.9,237 856.9,166.1 900.9,226.3 944.9,203.1"/>
<polyline class="ln" points="548.9,200.5 592.9,189.4 636.9,211.2 680.9,185.7 724.9,220.6 768.9,242.2 812.9,233.3 856.9,173 900.9,220 944.9,220.2"/>
<polyline class="ln" points="548.9,196 592.9,184.9 636.9,209 680.9,201.7 724.9,233.7 768.9,216.2 812.9,215.4 856.9,210 900.9,200.8 944.9,220.6"/>
<polyline class="ln" points="548.9,185.6 592.9,188.6 636.9,205.7 680.9,228.8 724.9,211.8 768.9,232.5 812.9,216.8 856.9,198.7 900.9,228.4 944.9,177.6"/>
<polyline class="ln" points="548.9,202.7 592.9,193.9 636.9,213 680.9,205.4 724.9,225.5 768.9,205.3 812.9,232.9 856.9,194.6 900.9,224 944.9,215.2"/>
<polyline class="ln" points="548.9,201.2 592.9,187.6 636.9,209.7 680.9,195.2 724.9,237 768.9,216.1 812.9,213.3 856.9,194.8 900.9,205.6 944.9,182.4"/>
<polyline class="ln" points="548.9,193 592.9,192.9 636.9,212.1 680.9,184.1 724.9,223.9 768.9,238.1 812.9,225.7 856.9,217.2 900.9,196.1 944.9,166.7"/>
<polyline class="ln" points="548.9,192.4 592.9,205.1 636.9,225.1 680.9,217.9 724.9,228.8 768.9,240 812.9,222.9 856.9,202.3 900.9,208.3 944.9,193.1"/>
<polyline class="ln" points="548.9,190.1 592.9,197.1 636.9,206.3 680.9,211.8 724.9,234.1 768.9,249.4 812.9,228.1 856.9,186.6 900.9,200.4 944.9,210"/>
<polyline class="ln" points="548.9,200.2 592.9,202.7 636.9,220.1 680.9,203.9 724.9,232.6 768.9,241.4 812.9,196.1 856.9,194.4 900.9,203 944.9,216.6"/>
<polyline class="ln" points="548.9,184.4 592.9,195.2 636.9,206.3 680.9,232 724.9,230.2 768.9,240.8 812.9,214.6 856.9,186.7 900.9,213.4 944.9,196.9"/>
<polyline class="ln" points="548.9,180.9 592.9,188.3 636.9,225.1 680.9,206.4 724.9,217.4 768.9,236.7 812.9,216 856.9,192.5 900.9,184.6 944.9,179"/>
<polyline class="ln" points="548.9,193.5 592.9,185.5 636.9,202 680.9,174.3 724.9,237.7 768.9,254.2 812.9,208.7 856.9,185.6 900.9,229.7 944.9,188.5"/>
<polyline class="ln" points="548.9,191.3 592.9,205.3 636.9,213 680.9,198.1 724.9,255.2 768.9,210.2 812.9,240.5 856.9,185.7 900.9,206.4 944.9,197.5"/>
<polyline class="ln" points="548.9,198.8 592.9,190.6 636.9,224.2 680.9,200 724.9,199.2 768.9,242.6 812.9,244.2 856.9,196.2 900.9,216.9 944.9,208"/>
<polyline class="ln" points="548.9,199.4 592.9,206.2 636.9,202.8 680.9,199.6 724.9,248.8 768.9,209.8 812.9,235.9 856.9,158 900.9,213.3 944.9,204.3"/>
<polyline class="ln" points="548.9,196.2 592.9,185.6 636.9,207.5 680.9,200.7 724.9,260.9 768.9,231.1 812.9,226 856.9,194.2 900.9,217.4 944.9,214.7"/>
<polyline class="ln" points="548.9,180.8 592.9,207.1 636.9,202.9 680.9,191.7 724.9,226.8 768.9,228.5 812.9,211.6 856.9,193.9 900.9,208 944.9,185.6"/>
<polyline class="ln" points="548.9,202.2 592.9,180.1 636.9,214.2 680.9,181 724.9,217.9 768.9,258.5 812.9,196.3 856.9,194.2 900.9,216.5 944.9,187.2"/>
<polyline class="ln" points="548.9,209.3 592.9,200.7 636.9,199.8 680.9,195.8 724.9,217.8 768.9,216 812.9,250.6 856.9,179.5 900.9,233.8 944.9,209.3"/>
<polyline class="ln" points="548.9,194.2 592.9,188.3 636.9,207.8 680.9,208.5 724.9,220.3 768.9,215.3 812.9,230.7 856.9,162.1 900.9,235.3 944.9,219.8"/>
<polyline class="ln" points="548.9,183.7 592.9,202.9 636.9,194.6 680.9,204.4 724.9,246.2 768.9,230.2 812.9,231 856.9,192.3 900.9,241.4 944.9,201.2"/>
<polyline class="ln" points="548.9,193.3 592.9,206.3 636.9,200.9 680.9,211.8 724.9,246.7 768.9,226.7 812.9,210.1 856.9,175.2 900.9,236.1 944.9,215.8"/>
<polyline class="ln" points="548.9,195 592.9,192.8 636.9,193.1 680.9,213.9 724.9,199.5 768.9,236.3 812.9,196 856.9,193.7 900.9,234.5 944.9,212.9"/>
<polyline class="ln" points="548.9,211.4 592.9,203.3 636.9,204.4 680.9,208 724.9,193.8 768.9,239.7 812.9,235.5 856.9,176.7 900.9,207.8 944.9,192.8"/>
<polyline class="ln" points="548.9,193.1 592.9,207 636.9,206.8 680.9,239.4 724.9,228.3 768.9,206 812.9,200.5 856.9,196.1 900.9,213.8 944.9,184"/>
<polyline class="ln" points="548.9,205 592.9,209 636.9,208 680.9,247.9 724.9,202.4 768.9,227.8 812.9,229 856.9,189.8 900.9,215.5 944.9,205.2"/>
<polyline class="ln" points="548.9,206.6 592.9,191.2 636.9,207 680.9,211.7 724.9,228.7 768.9,226.3 812.9,248.6 856.9,188.6 900.9,226.4 944.9,188.7"/>
<polyline class="ln" points="548.9,203 592.9,204.9 636.9,194.9 680.9,246.3 724.9,204.1 768.9,228.1 812.9,232 856.9,189.5 900.9,226.2 944.9,219.2"/>
<polyline class="ln" points="548.9,189.4 592.9,205.1 636.9,200.8 680.9,219.4 724.9,230 768.9,237 812.9,220.9 856.9,198.6 900.9,204.4 944.9,192.2"/>
<polyline class="ln" points="548.9,199.9 592.9,188.2 636.9,225.2 680.9,190.5 724.9,240.7 768.9,247.6 812.9,208.3 856.9,223.8 900.9,232.5 944.9,200.5"/>
<polyline class="ln" points="548.9,215.3 592.9,187.4 636.9,209.5 680.9,213.2 724.9,200.7 768.9,237.3 812.9,206.4 856.9,203.5 900.9,225.8 944.9,203"/>
<polyline class="ln" points="548.9,207.9 592.9,187.3 636.9,217.3 680.9,213.4 724.9,206.7 768.9,252.5 812.9,241.5 856.9,190.6 900.9,194.7 944.9,217.1"/>
<polyline class="ln" points="548.9,214.8 592.9,205.9 636.9,207.7 680.9,240.5 724.9,218.4 768.9,225.8 812.9,198.9 856.9,202.2 900.9,200.9 944.9,178.5"/>
<polyline class="ln" points="548.9,194.4 592.9,187.7 636.9,204.8 680.9,222.7 724.9,213 768.9,219.6 812.9,227.4 856.9,177.1 900.9,192.6 944.9,193.7"/>
<polyline class="ln" points="548.9,206.2 592.9,202.4 636.9,190.6 680.9,217.6 724.9,206.3 768.9,252.5 812.9,224.3 856.9,199.4 900.9,221.7 944.9,191.7"/>
<polyline class="ln" points="548.9,218.4 592.9,193.1 636.9,201.8 680.9,205 724.9,244.5 768.9,244.3 812.9,215.4 856.9,162.3 900.9,194.4 944.9,200.1"/>
<polyline class="ln" points="548.9,206.7 592.9,196 636.9,187.3 680.9,192.4 724.9,201.9 768.9,224.6 812.9,238.9 856.9,171.1 900.9,181.2 944.9,203.7"/>
<polyline class="ln" points="548.9,211.1 592.9,183.8 636.9,215.5 680.9,193.8 724.9,234.8 768.9,235.9 812.9,233.3 856.9,160.2 900.9,206.8 944.9,214.4"/>
<polyline class="ln" points="548.9,206 592.9,183.9 636.9,182 680.9,208.3 724.9,216.6 768.9,219.2 812.9,213.2 856.9,200.3 900.9,181.6 944.9,229.2"/>
<polyline class="ln" points="548.9,202.7 592.9,181.5 636.9,192.4 680.9,207.3 724.9,194.1 768.9,258.4 812.9,214.8 856.9,189.1 900.9,193.3 944.9,197.2"/>
<polyline class="ln" points="548.9,204.3 592.9,184.3 636.9,183.1 680.9,229 724.9,203.9 768.9,249.8 812.9,188.2 856.9,235.8 900.9,222.5 944.9,199.5"/>
<polyline class="ln" points="548.9,210.8 592.9,205.7 636.9,198.6 680.9,187.6 724.9,209.6 768.9,228.4 812.9,202.6 856.9,187.5 900.9,205.4 944.9,213.5"/>
<polyline class="ln" points="548.9,202.7 592.9,188 636.9,197.6 680.9,210.7 724.9,201.2 768.9,240.5 812.9,209 856.9,223 900.9,200.8 944.9,227.8"/>
<polyline class="ln" points="548.9,199.1 592.9,184 636.9,196.1 680.9,249.3 724.9,216 768.9,212.4 812.9,230.3 856.9,221.8 900.9,184.6 944.9,193.1"/>
<polyline class="ln" points="548.9,199.6 592.9,200.2 636.9,207 680.9,220.4 724.9,237.6 768.9,247.5 812.9,216.7 856.9,238 900.9,182.2 944.9,197.1"/>
<polyline class="ln" points="548.9,185.3 592.9,187.7 636.9,209.6 680.9,236.1 724.9,193.3 768.9,237.5 812.9,220.4 856.9,189.4 900.9,212.9 944.9,205.7"/>
<polyline class="ln" points="548.9,192.4 592.9,203.1 636.9,210.3 680.9,212.9 724.9,208 768.9,217 812.9,213.7 856.9,180.6 900.9,202 944.9,201.1"/>
<polyline class="ln" points="548.9,192.6 592.9,197.4 636.9,207 680.9,193.1 724.9,187.4 768.9,236.2 812.9,244.6 856.9,224.6 900.9,173.9 944.9,188.6"/>
<polyline class="ln" points="548.9,194.3 592.9,188.2 636.9,198.7 680.9,214.5 724.9,216.9 768.9,251.8 812.9,242.5 856.9,211.6 900.9,210.3 944.9,199.5"/>
<polyline class="ln" points="548.9,194.8 592.9,202.2 636.9,198.7 680.9,224.5 724.9,221.4 768.9,252.1 812.9,217.8 856.9,206.2 900.9,198.8 944.9,208.2"/>
<polyline class="ln" points="548.9,188 592.9,198.9 636.9,219.5 680.9,188 724.9,213.2 768.9,225.4 812.9,240.3 856.9,239.4 900.9,210.8 944.9,196.6"/>
<polyline class="ln" points="548.9,195.9 592.9,196.5 636.9,206.8 680.9,236.7 724.9,185.3 768.9,252.5 812.9,242.3 856.9,231 900.9,192.3 944.9,187.2"/>
<polyline class="ln" points="548.9,190.8 592.9,191.3 636.9,204.7 680.9,193.6 724.9,210.9 768.9,231.1 812.9,243.2 856.9,185.8 900.9,187.5 944.9,212.6"/>
<polyline class="ln" points="548.9,198.5 592.9,191.1 636.9,214.3 680.9,212 724.9,230.1 768.9,254.1 812.9,211.5 856.9,229.2 900.9,220.1 944.9,183.5"/>
<polyline class="ln" points="548.9,198 592.9,185.5 636.9,202.2 680.9,227.9 724.9,245 768.9,240.9 812.9,223.7 856.9,221.7 900.9,201.6 944.9,217.4"/>
<polyline class="ln" points="548.9,193.7 592.9,193.9 636.9,204.6 680.9,243.9 724.9,230.5 768.9,244.3 812.9,235.4 856.9,245.8 900.9,204.8 944.9,229"/>
<polyline class="ln" points="548.9,191.8 592.9,182.9 636.9,219.5 680.9,194.5 724.9,244.2 768.9,244.4 812.9,212.8 856.9,211.5 900.9,193.8 944.9,208.1"/>
<polyline class="ln" points="548.9,208 592.9,204 636.9,223.5 680.9,196.8 724.9,216.4 768.9,267.8 812.9,237.6 856.9,237.7 900.9,195.8 944.9,187.2"/>
<polyline class="ln" points="548.9,208.3 592.9,197.2 636.9,210.3 680.9,211.5 724.9,209.9 768.9,236.2 812.9,255.2 856.9,191.8 900.9,216.8 944.9,201.1"/>
<polyline class="ln" points="548.9,216.3 592.9,198.4 636.9,207.3 680.9,202.7 724.9,169.4 768.9,258 812.9,229.1 856.9,214.9 900.9,199.2 944.9,185"/>
<polyline class="ln" points="548.9,197.5 592.9,194.2 636.9,204.1 680.9,233.3 724.9,215.1 768.9,267.3 812.9,221.2 856.9,219.8 900.9,197.6 944.9,200.2"/>
<polyline class="ln" points="548.9,198.5 592.9,211.8 636.9,196.5 680.9,219.1 724.9,187.3 768.9,274.4 812.9,224.7 856.9,228 900.9,203.3 944.9,180.2"/>
<polyline class="ln" points="548.9,211.6 592.9,190.9 636.9,198.1 680.9,213.6 724.9,201.1 768.9,260.5 812.9,216.4 856.9,229.3 900.9,206.6 944.9,226"/>
<polyline class="ln" points="548.9,199.8 592.9,196.8 636.9,221.4 680.9,203.7 724.9,239.5 768.9,249.7 812.9,239.4 856.9,229.1 900.9,202.8 944.9,191"/>
<polyline class="ln" points="548.9,204 592.9,191.4 636.9,207 680.9,194.1 724.9,194.5 768.9,236.8 812.9,216.6 856.9,178.9 900.9,227.3 944.9,181.4"/>
<polyline class="ln" points="548.9,220.7 592.9,200.2 636.9,215.1 680.9,190.9 724.9,190.5 768.9,262 812.9,252.7 856.9,190.9 900.9,207.4 944.9,217.4"/>
<polyline class="ln" points="548.9,185.1 592.9,190.5 636.9,204.5 680.9,196.4 724.9,222.9 768.9,242.3 812.9,223.8 856.9,185.5 900.9,225.2 944.9,196.1"/>
<polyline class="ln" points="548.9,194.5 592.9,204.1 636.9,199 680.9,210.2 724.9,198.6 768.9,230.9 812.9,215.5 856.9,208.7 900.9,214.9 944.9,205.5"/>
<polyline class="ln" points="548.9,201.4 592.9,194 636.9,215.2 680.9,196.2 724.9,237.6 768.9,231.8 812.9,212.5 856.9,208.3 900.9,190.2 944.9,199"/>
<rect x="528.9" y="198" width="40" height="0.5" fill="#ee8c60" fill-opacity=".8"/>
<rect x="528.9" y="193.8" width="40" height="4.2" fill="#fff6cc" fill-opacity=".8"/>
<rect x="528.9" y="192.3" width="40" height="1.5" fill="#ce605e" fill-opacity=".8"/>
<rect x="528.9" y="190.8" width="40" height="1.5" fill="#9f4763" fill-opacity=".8"/>
<rect x="528.9" y="189.5" width="40" height="1.3" fill="#37184a" fill-opacity=".8"/>
<rect x="572.9" y="197.3" width="40" height="1.2" fill="#ee8c60" fill-opacity=".8"/>
<rect x="572.9" y="194.3" width="40" height="3" fill="#fff6cc" fill-opacity=".8"/>
<rect x="572.9" y="193.3" width="40" height="1" fill="#000000" fill-opacity=".8"/>
<rect x="572.9" y="189.3" width="40" height="4" fill="#ce605e" fill-opacity=".8"/>
<rect x="572.9" y="188.3" width="40" height="1" fill="#9f4763" fill-opacity=".8"/>
<rect x="572.9" y="186.3" width="40" height="2" fill="#37184a" fill-opacity=".8"/>
<rect x="572.9" y="198.5" width="40" height="2" fill="#37184a" fill-opacity=".8"/>
<rect x="616.9" y="198.5" width="40" height="1.2" fill="#fcc286" fill-opacity=".8"/>
<rect x="616.9" y="199.7" width="40" height="5.3" fill="#fff6cc" fill-opacity=".8"/>
<rect x="616.9" y="205" width="40" height="1.5" fill="#000000" fill-opacity=".8"/>
<rect x="616.9" y="206.5" width="40" height="3" fill="#ce605e" fill-opacity=".8"/>
<rect x="616.9" y="209.5" width="40" height="2" fill="#37184a" fill-opacity=".8"/>
<rect x="660.9" y="198.5" width="40" height="2.7" fill="#ee8c60" fill-opacity=".8"/>
<rect x="660.9" y="201.2" width="40" height="7.6" fill="#fff6cc" fill-opacity=".8"/>
<rect x="660.9" y="208.8" width="40" height="2.7" fill="#000000" fill-opacity=".8"/>
<rect x="660.9" y="211.5" width="40" height="4.9" fill="#9f4763" fill-opacity=".8"/>
<rect x="660.9" y="216.4" width="40" height="2.3" fill="#ce605e" fill-opacity=".8"/>
<rect x="660.9" y="218.7" width="40" height="1.8" fill="#37184a" fill-opacity=".8"/>
<rect x="704.9" y="198.5" width="40" height="2.6" fill="#ee8c60" fill-opacity=".8"/>
<rect x="704.9" y="201.1" width="40" height="3" fill="#fcc286" fill-opacity=".8"/>
<rect x="704.9" y="204.1" width="40" height="9.1" fill="#fff6cc" fill-opacity=".8"/>
<rect x="704.9" y="213.2" width="40" height="6.8" fill="#000000" fill-opacity=".8"/>
<rect x="704.9" y="220" width="40" height="3.8" fill="#9f4763" fill-opacity=".8"/>
<rect x="704.9" y="223.8" width="40" height="4.6" fill="#ce605e" fill-opacity=".8"/>
<rect x="704.9" y="228.4" width="40" height="3.8" fill="#702a5b" fill-opacity=".8"/>
<rect x="704.9" y="232.2" width="40" height="3.8" fill="#37184a" fill-opacity=".8"/>
<rect x="748.9" y="198.5" width="40" height="7.1" fill="#ee8c60" fill-opacity=".8"/>
<rect x="748.9" y="205.6" width="40" height="6.8" fill="#fcc286" fill-opacity=".8"/>
<rect x="748.9" y="212.4" width="40" height="9.9" fill="#fff6cc" fill-opacity=".8"/>
<rect x="748.9" y="222.3" width="40" height="7.6" fill="#000000" fill-opacity=".8"/>
<rect x="748.9" y="229.9" width="40" height="4.6" fill="#9f4763" fill-opacity=".8"/>
<rect x="748.9" y="234.5" width="40" height="6.1" fill="#ce605e" fill-opacity=".8"/>
<rect x="748.9" y="240.6" width="40" height="5.3" fill="#702a5b" fill-opacity=".8"/>
<rect x="748.9" y="245.9" width="40" height="5.3" fill="#37184a" fill-opacity=".8"/>
<rect x="792.9" y="198.5" width="40" height="3.3" fill="#fff6cc" fill-opacity=".8"/>
<rect x="792.9" y="201.8" width="40" height="2.6" fill="#000000" fill-opacity=".8"/>
<rect x="792.9" y="204.4" width="40" height="3.5" fill="#ce605e" fill-opacity=".8"/>
<rect x="792.9" y="207.9" width="40" height="4" fill="#702a5b" fill-opacity=".8"/>
<rect x="836.9" y="197.5" width="40" height="1" fill="#ce605e" fill-opacity=".8"/>
<rect x="836.9" y="196.2" width="40" height="1.3" fill="#9f4763" fill-opacity=".8"/>
<rect x="836.9" y="198.5" width="40" height="1.4" fill="#fff6cc" fill-opacity=".8"/>
<rect x="836.9" y="199.9" width="40" height="1" fill="#37184a" fill-opacity=".8"/>
<rect x="880.9" y="198.5" width="40" height="1" fill="#ee8c60" fill-opacity=".8"/>
<rect x="880.9" y="199.5" width="40" height="2" fill="#fff6cc" fill-opacity=".8"/>
<rect x="880.9" y="201.5" width="40" height="2.3" fill="#37184a" fill-opacity=".8"/>
<rect x="924.9" y="198.5" width="40" height="1" fill="#fcc286" fill-opacity=".8"/>
<rect x="924.9" y="199.5" width="40" height="3.4" fill="#fff6cc" fill-opacity=".8"/>
<rect x="924.9" y="202.9" width="40" height="2.5" fill="#37184a" fill-opacity=".8"/>
</g>
<g clip-path="url(#cpc)">
<path d="M75.1,535 L78.9,533.1 L82.6,531.9 L86.4,532.8 L90.1,533.7 L93.9,533.7 L97.6,534 L101.4,535.4 L105.1,536.4 L110.6,536.3 L116.1,535 L121.6,534.7 L127.1,534.7 L132.6,538 L138,538.5 L143.5,539.5 L149,538.3 L154.5,540.9 L160,541.8 L165.4,540.6 L170.9,538.2 L176.4,534.3 L181.9,532.4 L187.4,529.7 L192.8,528.7 L198.3,530.1 L203.8,527.2 L209.3,525.4 L214.8,520 L220.3,519.7 L225.7,517.6 L231.2,515.4 L236.7,515 L242.2,515.3 L247.7,516.7 L253.1,516.3 L258.6,515 L264.1,513.9 L269.6,513.1 L275.1,514.1 L280.6,513.1 L286,511.9 L291.5,510 L297,511.6 L302.5,512 L308,512.1 L313.4,511.8 L318.9,511.5 L324.4,512.6 L329.9,513 L335.4,512.6 L340.8,511.2 L346.3,509.3 L351.8,510.3 L357.3,508.8 L362.8,508 L368.2,507 L373.7,508.2 L379.2,508.1 L384.7,508.8 L390.2,510.1 L395.7,510.3 L401.1,509.5 L406.6,507.9 L412.1,509.5 L417.6,510.4 L423.1,510.4 L428.5,508.9 L434,508.1 L439.5,509.7 L445,509.5 L450.5,508.7 L455.9,507.2 L461.4,506.7 L466.9,508.1 L472.4,510 L477.9,510.3 L483.4,509.8 L488.8,509.9 L494.3,511.9 L499.8,512.1 L503.6,508.2 L507.3,506 L511.1,505.7 L514.8,507.3 L518.5,508.9 L522.3,510.2 L526,511.8 L529.8,511.8 L529.8,624.2 L526,625.9 L522.3,625.1 L518.5,626.2 L514.8,624.9 L511.1,627.1 L507.3,625.7 L503.6,625.5 L499.8,625.1 L494.3,624.8 L488.8,624.2 L483.4,622.1 L477.9,620.6 L472.4,621.1 L466.9,623.3 L461.4,624.5 L455.9,624.4 L450.5,623.5 L445,622.5 L439.5,622.9 L434,622.7 L428.5,623.2 L423.1,622.9 L417.6,623.1 L412.1,622.6 L406.6,621.3 L401.1,620.3 L395.7,621.6 L390.2,621.6 L384.7,621.1 L379.2,619.8 L373.7,621.7 L368.2,622.9 L362.8,622.8 L357.3,622.8 L351.8,622 L346.3,622.6 L340.8,621 L335.4,621.3 L329.9,622.5 L324.4,623.7 L318.9,624.2 L313.4,623.2 L308,624.8 L302.5,624.9 L297,625.4 L291.5,620 L286,617.1 L280.6,615 L275.1,617.1 L269.6,617.8 L264.1,618.7 L258.6,617 L253.1,616.4 L247.7,613.2 L242.2,612.5 L236.7,611 L231.2,611.9 L225.7,609.4 L220.3,607.4 L214.8,607.2 L209.3,607.2 L203.8,604.8 L198.3,600.6 L192.8,598 L187.4,598.7 L181.9,599.7 L176.4,599.5 L170.9,598.2 L165.4,595.3 L160,593 L154.5,589.7 L149,589.3 L143.5,591.2 L138,595.2 L132.6,597.9 L127.1,596.1 L121.6,594.8 L116.1,592.9 L110.6,596.5 L105.1,596.1 L101.4,594.7 L97.6,592.7 L93.9,594.3 L90.1,597.4 L86.4,596.2 L82.6,594.6 L78.9,592.9 L75.1,593.7Z" fill="#78a0ad" fill-opacity="0.22" filter="url(#bl1_5)"/>
<path d="M75.1,536.1 L78.9,537 L82.6,538.2 L86.4,538.8 L90.1,540.5 L93.9,542.5 L97.6,540.7 L101.4,542.1 L105.1,541 L110.6,540.8 L116.1,541.6 L121.6,539.7 L127.1,540.9 L132.6,541 L138,543.6 L143.5,543.8 L149,541.3 L154.5,539.3 L160,540 L165.4,539.4 L170.9,536.2 L176.4,534.6 L181.9,532 L187.4,533.6 L192.8,530.8 L198.3,532 L203.8,529.7 L209.3,529.9 L214.8,526.1 L220.3,526.7 L225.7,522.4 L231.2,522.3 L236.7,520.3 L242.2,522 L247.7,521 L253.1,520.3 L258.6,517.1 L264.1,515.8 L269.6,515.5 L275.1,518.1 L280.6,518.9 L286,516.6 L291.5,516.3 L297,514.1 L302.5,515.4 L308,513.7 L313.4,513.9 L318.9,515.6 L324.4,515.8 L329.9,516.2 L335.4,513.1 L340.8,511.8 L346.3,512.5 L351.8,514.6 L357.3,514.5 L362.8,515.6 L368.2,512.9 L373.7,512.9 L379.2,509.8 L384.7,512.8 L390.2,515.1 L395.7,515.2 L401.1,513.6 L406.6,511 L412.1,511.9 L417.6,512.8 L423.1,511.5 L428.5,512 L434,511.6 L439.5,514.9 L445,515.4 L450.5,515.6 L455.9,515.9 L461.4,515.7 L466.9,514.8 L472.4,511.6 L477.9,508.8 L483.4,508.3 L488.8,510.7 L494.3,512.1 L499.8,513.4 L503.6,511.2 L507.3,512.2 L511.1,512.9 L514.8,514.4 L518.5,512.3 L522.3,510.5 L526,511.3 L529.8,513.9 L529.8,620.9 L526,620.4 L522.3,620.9 L518.5,619.1 L514.8,619.4 L511.1,621.4 L507.3,622.8 L503.6,625.3 L499.8,623.9 L494.3,624 L488.8,623.9 L483.4,623.5 L477.9,622 L472.4,621.2 L466.9,623.1 L461.4,623.9 L455.9,625.5 L450.5,622.6 L445,620.9 L439.5,620.8 L434,623.2 L428.5,627.7 L423.1,629.8 L417.6,628.2 L412.1,626.3 L406.6,622.7 L401.1,622.8 L395.7,621.6 L390.2,620.7 L384.7,620.8 L379.2,620.6 L373.7,621.2 L368.2,620.8 L362.8,620.5 L357.3,621.3 L351.8,622.2 L346.3,623.6 L340.8,622.9 L335.4,623.9 L329.9,621.4 L324.4,620.7 L318.9,617.1 L313.4,616.1 L308,615.9 L302.5,617.8 L297,617.9 L291.5,616.3 L286,613 L280.6,613.5 L275.1,614 L269.6,615 L264.1,613.6 L258.6,612.3 L253.1,611.7 L247.7,613.6 L242.2,612.2 L236.7,611.4 L231.2,608 L225.7,605.8 L220.3,604.2 L214.8,602.5 L209.3,602.1 L203.8,598.5 L198.3,595 L192.8,593.4 L187.4,594.8 L181.9,593.9 L176.4,594.7 L170.9,591.1 L165.4,591.2 L160,588.2 L154.5,590.7 L149,588.7 L143.5,589.5 L138,587.4 L132.6,589.8 L127.1,591.2 L121.6,592.1 L116.1,591.6 L110.6,591.8 L105.1,591.5 L101.4,590.5 L97.6,591.5 L93.9,589.3 L90.1,590.7 L86.4,588.2 L82.6,590.6 L78.9,592.4 L75.1,594.4Z" fill="#78a0ad" fill-opacity="0.22" filter="url(#bl1_5)"/>
<path d="M75.1,539.6 L78.9,540.6 L82.6,543 L86.4,542.2 L90.1,542.5 L93.9,541.1 L97.6,542 L101.4,543.7 L105.1,544.3 L110.6,542.3 L116.1,541.8 L121.6,542.4 L127.1,544.8 L132.6,545.6 L138,544.4 L143.5,540.9 L149,539.8 L154.5,541.9 L160,546.2 L165.4,547.7 L170.9,545.5 L176.4,540.9 L181.9,536.9 L187.4,534.9 L192.8,533.1 L198.3,534.9 L203.8,532.2 L209.3,531.8 L214.8,527.9 L220.3,526.3 L225.7,523.9 L231.2,522.7 L236.7,524.2 L242.2,525.9 L247.7,525.7 L253.1,523.1 L258.6,518.9 L264.1,518.3 L269.6,518 L275.1,518.5 L280.6,517.9 L286,518.1 L291.5,517 L297,515.6 L302.5,512.5 L308,515.1 L313.4,515.1 L318.9,518.7 L324.4,517.5 L329.9,517.1 L335.4,516.3 L340.8,515.2 L346.3,515.3 L351.8,517.1 L357.3,520.3 L362.8,522 L368.2,520.2 L373.7,517.8 L379.2,517.5 L384.7,516.5 L390.2,518 L395.7,517.8 L401.1,517.4 L406.6,517.6 L412.1,516.6 L417.6,518.2 L423.1,516.2 L428.5,515.6 L434,514.4 L439.5,515.4 L445,516 L450.5,513.8 L455.9,513.1 L461.4,513.5 L466.9,514.7 L472.4,516 L477.9,515.8 L483.4,516.3 L488.8,514.9 L494.3,513.6 L499.8,514.6 L503.6,514.4 L507.3,514.7 L511.1,513.9 L514.8,513.7 L518.5,514.6 L522.3,514.9 L526,513.4 L529.8,510.7 L529.8,619.2 L526,618 L522.3,616.5 L518.5,618.2 L514.8,620.2 L511.1,621.8 L507.3,622.2 L503.6,619.2 L499.8,618.2 L494.3,616.3 L488.8,617.4 L483.4,617.1 L477.9,619.4 L472.4,620.6 L466.9,619.4 L461.4,618.4 L455.9,615.6 L450.5,615.5 L445,614.4 L439.5,616.9 L434,619 L428.5,618.2 L423.1,618.1 L417.6,618.6 L412.1,618.3 L406.6,617.4 L401.1,616.8 L395.7,617.3 L390.2,618.5 L384.7,618.4 L379.2,619.5 L373.7,618.5 L368.2,619.4 L362.8,617.6 L357.3,620 L351.8,620.6 L346.3,623.4 L340.8,620.5 L335.4,619.3 L329.9,619 L324.4,620.5 L318.9,619.8 L313.4,618.2 L308,616.4 L302.5,616.6 L297,617 L291.5,614.9 L286,615.5 L280.6,612.1 L275.1,611.5 L269.6,608.8 L264.1,609.6 L258.6,609.7 L253.1,610.1 L247.7,610.6 L242.2,608.7 L236.7,606.9 L231.2,606 L225.7,604.8 L220.3,602.4 L214.8,597.3 L209.3,598.1 L203.8,598 L198.3,599.8 L192.8,596.4 L187.4,593.8 L181.9,591.3 L176.4,590.4 L170.9,589.7 L165.4,591 L160,589.4 L154.5,590.7 L149,590.8 L143.5,592.7 L138,589.7 L132.6,588.2 L127.1,588.5 L121.6,589.8 L116.1,589.5 L110.6,588.5 L105.1,586.8 L101.4,585.8 L97.6,587.4 L93.9,588.4 L90.1,587 L86.4,586.7 L82.6,586.3 L78.9,590.7 L75.1,592.6Z" fill="#78a0ad" fill-opacity="0.22" filter="url(#bl1_5)"/>
<path d="M75.1,545.3 L78.9,546.6 L82.6,545.8 L86.4,545.4 L90.1,544 L93.9,545.5 L97.6,546.4 L101.4,545.8 L105.1,543.6 L110.6,543.3 L116.1,543.7 L121.6,544.4 L127.1,543.9 L132.6,545.7 L138,544.5 L143.5,544.2 L149,543.2 L154.5,546.3 L160,547.7 L165.4,549.2 L170.9,546.7 L176.4,543.6 L181.9,540.7 L187.4,539.7 L192.8,539.1 L198.3,537.9 L203.8,536.1 L209.3,535.4 L214.8,532.4 L220.3,528.5 L225.7,524.8 L231.2,525 L236.7,527.2 L242.2,528.5 L247.7,526.2 L253.1,525.2 L258.6,523.1 L264.1,523.6 L269.6,522.8 L275.1,523.7 L280.6,525.5 L286,525.2 L291.5,523.3 L297,519.5 L302.5,519.1 L308,521.1 L313.4,521.9 L318.9,521.9 L324.4,520 L329.9,521 L335.4,520 L340.8,521 L346.3,521 L351.8,522.1 L357.3,522.9 L362.8,521.4 L368.2,520.9 L373.7,519.8 L379.2,520.6 L384.7,521.9 L390.2,520.7 L395.7,519.4 L401.1,517.4 L406.6,515.7 L412.1,516.9 L417.6,518.5 L423.1,520.4 L428.5,519.6 L434,518.5 L439.5,518.1 L445,515.4 L450.5,516.1 L455.9,515.6 L461.4,518.7 L466.9,519.1 L472.4,520 L477.9,520 L483.4,516.1 L488.8,514.9 L494.3,514 L499.8,517.7 L503.6,517.7 L507.3,518 L511.1,517.8 L514.8,518 L518.5,516.3 L522.3,515.5 L526,516.7 L529.8,519 L529.8,611.4 L526,614 L522.3,615.7 L518.5,616.1 L514.8,614.1 L511.1,615.4 L507.3,615.5 L503.6,616 L499.8,616.8 L494.3,616.5 L488.8,617 L483.4,614.7 L477.9,614 L472.4,613.7 L466.9,612.9 L461.4,612.8 L455.9,613.3 L450.5,613.3 L445,615.5 L439.5,615.7 L434,617.8 L428.5,617.9 L423.1,617.3 L417.6,614.9 L412.1,614.4 L406.6,612.8 L401.1,612.8 L395.7,613.5 L390.2,618.3 L384.7,619.9 L379.2,620.3 L373.7,618.8 L368.2,618 L362.8,615 L357.3,613.7 L351.8,612.8 L346.3,613.4 L340.8,614.3 L335.4,616.5 L329.9,616.8 L324.4,616.5 L318.9,615 L313.4,614.7 L308,612.4 L302.5,610.3 L297,610.6 L291.5,608.5 L286,610.3 L280.6,607.9 L275.1,608.5 L269.6,607.7 L264.1,605.9 L258.6,605.2 L253.1,603.2 L247.7,604.7 L242.2,603.1 L236.7,602.7 L231.2,601.5 L225.7,601.9 L220.3,600 L214.8,596.8 L209.3,595.6 L203.8,593.7 L198.3,593.7 L192.8,592.7 L187.4,591.4 L181.9,590.3 L176.4,587.8 L170.9,587.1 L165.4,585.2 L160,587.3 L154.5,586.6 L149,585.8 L143.5,586.3 L138,586.9 L132.6,589.5 L127.1,585.8 L121.6,586.9 L116.1,585.3 L110.6,585.5 L105.1,585.1 L101.4,587.7 L97.6,588.5 L93.9,588 L90.1,585.8 L86.4,587.4 L82.6,587.8 L78.9,587.9 L75.1,586.7Z" fill="#78a0ad" fill-opacity="0.22" filter="url(#bl1_5)"/>
<path d="M75.1,550.7 L78.9,548.3 L82.6,547.5 L86.4,547.3 L90.1,550.1 L93.9,550.5 L97.6,549.1 L101.4,546.8 L105.1,543.7 L110.6,544.5 L116.1,544.2 L121.6,546.3 L127.1,544.7 L132.6,547.4 L138,548.3 L143.5,551.8 L149,550.5 L154.5,548.9 L160,547.6 L165.4,547 L170.9,547.5 L176.4,544.4 L181.9,542.7 L187.4,542.2 L192.8,542.9 L198.3,544.4 L203.8,544.2 L209.3,542.4 L214.8,538.1 L220.3,534.5 L225.7,534.1 L231.2,534.5 L236.7,534.2 L242.2,532.6 L247.7,530 L253.1,527.3 L258.6,526.2 L264.1,525.6 L269.6,526.4 L275.1,525.6 L280.6,525.7 L286,525.7 L291.5,526.3 L297,528.1 L302.5,526.9 L308,527 L313.4,524 L318.9,523.9 L324.4,523.5 L329.9,525.7 L335.4,526.3 L340.8,526.8 L346.3,526.4 L351.8,526.2 L357.3,525.1 L362.8,524.6 L368.2,524.4 L373.7,523.8 L379.2,523.1 L384.7,523.2 L390.2,524.4 L395.7,525.3 L401.1,525.5 L406.6,524.2 L412.1,522.1 L417.6,521.4 L423.1,523 L428.5,523.9 L434,521.7 L439.5,519.1 L445,517 L450.5,519.8 L455.9,521.2 L461.4,521.8 L466.9,520.3 L472.4,518.7 L477.9,519.9 L483.4,521.9 L488.8,522 L494.3,524.4 L499.8,522.1 L503.6,523 L507.3,521.2 L511.1,521.8 L514.8,522.1 L518.5,519.7 L522.3,520 L526,519.3 L529.8,520.4 L529.8,610.7 L526,610.1 L522.3,611.2 L518.5,612.1 L514.8,614.4 L511.1,613.6 L507.3,612.4 L503.6,612.3 L499.8,612.6 L494.3,612.1 L488.8,613.1 L483.4,612.6 L477.9,613.4 L472.4,611.6 L466.9,612.4 L461.4,611.9 L455.9,610.3 L450.5,610.6 L445,609 L439.5,610.1 L434,611.1 L428.5,615 L423.1,615.5 L417.6,613.8 L412.1,612.9 L406.6,613.7 L401.1,614.9 L395.7,613.4 L390.2,612.9 L384.7,612.8 L379.2,613.4 L373.7,614.4 L368.2,614.5 L362.8,615.2 L357.3,614.4 L351.8,614.7 L346.3,613.1 L340.8,612.3 L335.4,611.5 L329.9,612.1 L324.4,613.1 L318.9,614.9 L313.4,616 L308,614.8 L302.5,611.2 L297,608.6 L291.5,607.9 L286,607.8 L280.6,608.3 L275.1,608.2 L269.6,606.2 L264.1,604.8 L258.6,603.7 L253.1,602.7 L247.7,603.8 L242.2,602.4 L236.7,602 L231.2,598.7 L225.7,597.6 L220.3,598.3 L214.8,593.5 L209.3,590.3 L203.8,584.6 L198.3,588.7 L192.8,590.8 L187.4,593.5 L181.9,590.8 L176.4,587.9 L170.9,586.4 L165.4,582.8 L160,581.1 L154.5,579.3 L149,583 L143.5,583.2 L138,583.2 L132.6,580.3 L127.1,579.9 L121.6,579.2 L116.1,580.4 L110.6,578.8 L105.1,580.2 L101.4,579.9 L97.6,582.7 L93.9,581.8 L90.1,581.2 L86.4,582.3 L82.6,583.8 L78.9,586.5 L75.1,586.7Z" fill="#78a0ad" fill-opacity="0.22" filter="url(#bl1_5)"/>
<path d="M75.1,553.5 L78.9,554.2 L82.6,554.3 L86.4,553.5 L90.1,552.4 L93.9,550 L97.6,549.3 L101.4,549.2 L105.1,550 L110.6,551.7 L116.1,551.6 L121.6,554.1 L127.1,553.8 L132.6,554.2 L138,553.9 L143.5,553.6 L149,554.5 L154.5,551 L160,550.7 L165.4,549.8 L170.9,550.1 L176.4,548.4 L181.9,545.2 L187.4,546 L192.8,544.7 L198.3,544.7 L203.8,541.2 L209.3,540.5 L214.8,540.2 L220.3,539.1 L225.7,536.4 L231.2,535.5 L236.7,534.2 L242.2,534.3 L247.7,531.3 L253.1,531.5 L258.6,530 L264.1,530.1 L269.6,528.5 L275.1,528.1 L280.6,528.3 L286,526.5 L291.5,525.5 L297,524.4 L302.5,529.3 L308,531.5 L313.4,531.5 L318.9,528.9 L324.4,528.1 L329.9,526.1 L335.4,525 L340.8,524.9 L346.3,526.8 L351.8,525.2 L357.3,523.8 L362.8,525.1 L368.2,526.2 L373.7,527.1 L379.2,523.7 L384.7,523.8 L390.2,522.4 L395.7,523 L401.1,522.6 L406.6,522.8 L412.1,524.5 L417.6,524.6 L423.1,525.1 L428.5,524.3 L434,525.5 L439.5,526.1 L445,526.9 L450.5,526.5 L455.9,524.3 L461.4,524.7 L466.9,525.6 L472.4,527.4 L477.9,526.2 L483.4,526.1 L488.8,526.7 L494.3,527.5 L499.8,527.7 L503.6,529.8 L507.3,527.3 L511.1,527 L514.8,522.5 L518.5,524.9 L522.3,523.6 L526,525.5 L529.8,524.6 L529.8,611.4 L526,609.9 L522.3,606.1 L518.5,605.4 L514.8,604.4 L511.1,605.4 L507.3,604.5 L503.6,606.8 L499.8,608.2 L494.3,608.5 L488.8,608.1 L483.4,608.2 L477.9,608.5 L472.4,607.5 L466.9,609.2 L461.4,610 L455.9,610.9 L450.5,610 L445,611.7 L439.5,611.8 L434,611.5 L428.5,611.7 L423.1,612.1 L417.6,612 L412.1,609.1 L406.6,608.7 L401.1,609.7 L395.7,611 L390.2,609.7 L384.7,608.3 L379.2,609.5 L373.7,609.7 L368.2,609.6 L362.8,607.2 L357.3,606.8 L351.8,607.1 L346.3,606.9 L340.8,610.1 L335.4,611 L329.9,612 L324.4,609.3 L318.9,609.1 L313.4,607.7 L308,607.8 L302.5,605.3 L297,605.4 L291.5,604.6 L286,606.6 L280.6,605.9 L275.1,604.8 L269.6,602.6 L264.1,602.2 L258.6,602.4 L253.1,599.1 L247.7,596.2 L242.2,595.1 L236.7,598.2 L231.2,597.7 L225.7,595.9 L220.3,592.7 L214.8,591.9 L209.3,590.5 L203.8,587.7 L198.3,583.6 L192.8,582.3 L187.4,583.6 L181.9,586.2 L176.4,583.7 L170.9,581 L165.4,578.4 L160,577.9 L154.5,576.8 L149,577 L143.5,581.1 L138,582.8 L132.6,583 L127.1,580.4 L121.6,579.8 L116.1,579 L110.6,580.1 L105.1,581.4 L101.4,583.2 L97.6,582.1 L93.9,581.5 L90.1,580.2 L86.4,580.3 L82.6,578.4 L78.9,580.9 L75.1,582.5Z" fill="#78a0ad" fill-opacity="0.22" filter="url(#bl1_5)"/>
<path d="M75.1,553.2 L78.9,551.3 L82.6,550.8 L86.4,550.5 L90.1,551.1 L93.9,551.4 L97.6,553.2 L101.4,555.4 L105.1,555.3 L110.6,554.6 L116.1,554.3 L121.6,553.1 L127.1,554 L132.6,553.3 L138,555.6 L143.5,555.8 L149,558.3 L154.5,558.9 L160,558.8 L165.4,557.3 L170.9,555.1 L176.4,552.3 L181.9,550.5 L187.4,549.4 L192.8,549.7 L198.3,550 L203.8,548.4 L209.3,546.3 L214.8,543.1 L220.3,542.8 L225.7,540.6 L231.2,536.8 L236.7,533.9 L242.2,537.1 L247.7,537.3 L253.1,535.2 L258.6,531.6 L264.1,529.9 L269.6,529.5 L275.1,528.1 L280.6,531.1 L286,530.9 L291.5,532.3 L297,532 L302.5,531.7 L308,529.4 L313.4,529 L318.9,528.4 L324.4,529.8 L329.9,525.8 L335.4,528.8 L340.8,526.8 L346.3,529 L351.8,527.6 L357.3,527 L362.8,529.9 L368.2,529.8 L373.7,529.5 L379.2,527.5 L384.7,527.8 L390.2,527.7 L395.7,525.7 L401.1,524.6 L406.6,526.9 L412.1,528.7 L417.6,529 L423.1,526.9 L428.5,525.9 L434,526.8 L439.5,526.4 L445,527.1 L450.5,525.6 L455.9,528.2 L461.4,526.6 L466.9,528 L472.4,528.4 L477.9,529.9 L483.4,530.3 L488.8,530 L494.3,530 L499.8,530.5 L503.6,530.1 L507.3,529.2 L511.1,528.8 L514.8,528.8 L518.5,527.4 L522.3,527 L526,525.3 L529.8,526 L529.8,605.6 L526,604.7 L522.3,604.4 L518.5,607.2 L514.8,608.1 L511.1,609.1 L507.3,608.2 L503.6,608.1 L499.8,606.7 L494.3,607.2 L488.8,607.4 L483.4,607.2 L477.9,606.4 L472.4,607 L466.9,607.8 L461.4,607.7 L455.9,608.6 L450.5,608.3 L445,607.3 L439.5,607.1 L434,609.2 L428.5,609.9 L423.1,609 L417.6,606.7 L412.1,605.6 L406.6,604.2 L401.1,605 L395.7,605.5 L390.2,605.5 L384.7,605.9 L379.2,605.4 L373.7,606 L368.2,605.1 L362.8,606.5 L357.3,607.8 L351.8,607.5 L346.3,605.7 L340.8,603.6 L335.4,605 L329.9,607.6 L324.4,606.9 L318.9,602.9 L313.4,598.8 L308,599.5 L302.5,601.7 L297,603.6 L291.5,604.5 L286,604.4 L280.6,604.8 L275.1,604.7 L269.6,602.1 L264.1,597.5 L258.6,594.6 L253.1,594.2 L247.7,593.8 L242.2,592.3 L236.7,591.4 L231.2,593.8 L225.7,594.1 L220.3,591.1 L214.8,587.2 L209.3,584.4 L203.8,584 L198.3,583.2 L192.8,582.1 L187.4,582.2 L181.9,581.3 L176.4,580.8 L170.9,579.2 L165.4,576.9 L160,576.7 L154.5,576.1 L149,576.6 L143.5,576.1 L138,576.2 L132.6,576.4 L127.1,575.8 L121.6,576.7 L116.1,577.9 L110.6,577.2 L105.1,579.4 L101.4,578.3 L97.6,578.7 L93.9,575.6 L90.1,577.3 L86.4,578 L82.6,578.7 L78.9,576.9 L75.1,577.8Z" fill="#78a0ad" fill-opacity="0.22" filter="url(#bl1_5)"/>
<path d="M75.1,556.7 L78.9,554.7 L82.6,555.8 L86.4,557.1 L90.1,560.2 L93.9,558.4 L97.6,558.4 L101.4,558.1 L105.1,556.9 L110.6,559.7 L116.1,558.7 L121.6,560.6 L127.1,558 L132.6,557.7 L138,556.3 L143.5,558.1 L149,558.9 L154.5,558.1 L160,557.6 L165.4,556.2 L170.9,557.1 L176.4,554.9 L181.9,552.5 L187.4,551.4 L192.8,551.2 L198.3,550.8 L203.8,549.9 L209.3,548 L214.8,546 L220.3,543.3 L225.7,539.9 L231.2,540.4 L236.7,535.7 L242.2,537.4 L247.7,534.5 L253.1,538.3 L258.6,537.8 L264.1,536.4 L269.6,534.7 L275.1,532.6 L280.6,533.7 L286,533.4 L291.5,533 L297,531.7 L302.5,531.5 L308,530.3 L313.4,531.1 L318.9,531 L324.4,530.8 L329.9,531.7 L335.4,530.1 L340.8,528.4 L346.3,527.7 L351.8,528.2 L357.3,530.3 L362.8,530.3 L368.2,530.7 L373.7,530.8 L379.2,529.1 L384.7,529.6 L390.2,529.4 L395.7,530.3 L401.1,529.5 L406.6,529.9 L412.1,530 L417.6,531.3 L423.1,531.2 L428.5,531.1 L434,530.1 L439.5,529.8 L445,531.4 L450.5,532.4 L455.9,532.2 L461.4,531 L466.9,530.8 L472.4,532.6 L477.9,531.7 L483.4,529.3 L488.8,529 L494.3,527.7 L499.8,528.7 L503.6,528.1 L507.3,530.8 L511.1,529.3 L514.8,529.1 L518.5,529.5 L522.3,532.3 L526,533.2 L529.8,532.6 L529.8,606.5 L526,605.1 L522.3,602.9 L518.5,603.2 L514.8,603.8 L511.1,605 L507.3,603.6 L503.6,603.6 L499.8,603.8 L494.3,603.8 L488.8,604.4 L483.4,604.4 L477.9,605.8 L472.4,603.8 L466.9,604.7 L461.4,603.6 L455.9,603.8 L450.5,602.9 L445,602.5 L439.5,603.8 L434,603.7 L428.5,603.3 L423.1,600.3 L417.6,598.4 L412.1,599.1 L406.6,602.1 L401.1,604.7 L395.7,604.1 L390.2,603.2 L384.7,601.2 L379.2,602.8 L373.7,600.5 L368.2,601 L362.8,599.3 L357.3,601.8 L351.8,601.5 L346.3,603 L340.8,603.1 L335.4,604.7 L329.9,604.2 L324.4,602.2 L318.9,601.1 L313.4,600.1 L308,601 L302.5,597.6 L297,596.9 L291.5,595.7 L286,599.3 L280.6,599.3 L275.1,600.5 L269.6,599.1 L264.1,596.5 L258.6,593.2 L253.1,590.5 L247.7,592 L242.2,593.3 L236.7,593.2 L231.2,590.9 L225.7,588.8 L220.3,589.3 L214.8,588.4 L209.3,586.5 L203.8,582.1 L198.3,580.7 L192.8,581.6 L187.4,582.4 L181.9,581 L176.4,579.4 L170.9,576.9 L165.4,575.3 L160,573.3 L154.5,572 L149,572.7 L143.5,572.7 L138,574.3 L132.6,574.1 L127.1,573.8 L121.6,572.5 L116.1,573.2 L110.6,574.5 L105.1,576.2 L101.4,576.1 L97.6,574 L93.9,574.2 L90.1,575 L86.4,577 L82.6,577.7 L78.9,575.4 L75.1,573.6Z" fill="#78a0ad" fill-opacity="0.22" filter="url(#bl1_5)"/>
<polyline class="ln" points="105.1,569.4 149,571.8 192.8,569.7 236.7,587.9 280.6,640.4 324.4,644.8 368.2,595.8 412.1,578.5 455.9,577.9 499.8,602.6"/>
<polyline class="ln" points="105.1,578.9 149,577.8 192.8,560.2 236.7,590.9 280.6,641.2 324.4,643.9 368.2,611.8 412.1,555.3 455.9,580.9 499.8,567.5"/>
<polyline class="ln" points="105.1,555.7 149,571.3 192.8,562.3 236.7,599.5 280.6,633.2 324.4,630.3 368.2,590.7 412.1,571.8 455.9,584.4 499.8,562.7"/>
<polyline class="ln" points="105.1,566.9 149,558.2 192.8,550.1 236.7,602.7 280.6,634 324.4,658.4 368.2,601 412.1,565.5 455.9,566 499.8,568.9"/>
<polyline class="ln" points="105.1,561.4 149,559.7 192.8,566.3 236.7,599.3 280.6,642.2 324.4,653.4 368.2,617.8 412.1,569.8 455.9,610.2 499.8,587.3"/>
<polyline class="ln" points="105.1,570.2 149,559 192.8,576.7 236.7,607.6 280.6,632.5 324.4,647.5 368.2,604.6 412.1,574.9 455.9,597.8 499.8,584.8"/>
<polyline class="ln" points="105.1,577.1 149,544.9 192.8,569.6 236.7,618.7 280.6,652.3 324.4,640.5 368.2,600.8 412.1,571 455.9,602.6 499.8,597"/>
<polyline class="ln" points="105.1,578.9 149,560 192.8,575 236.7,610 280.6,609.1 324.4,665.2 368.2,608.6 412.1,572.2 455.9,605.3 499.8,560.1"/>
<polyline class="ln" points="105.1,571 149,558.4 192.8,562.4 236.7,586 280.6,641.7 324.4,648.8 368.2,621.3 412.1,594 455.9,543.2 499.8,586.8"/>
<polyline class="ln" points="105.1,585.3 149,555.6 192.8,551.8 236.7,624.2 280.6,633.7 324.4,659 368.2,630.6 412.1,575.2 455.9,599.4 499.8,600"/>
<polyline class="ln" points="105.1,568.2 149,558.3 192.8,569.5 236.7,588.2 280.6,641.8 324.4,645.1 368.2,594.5 412.1,531.8 455.9,539.2 499.8,561.8"/>
<polyline class="ln" points="105.1,567 149,573.9 192.8,554.4 236.7,610.1 280.6,601.8 324.4,639.7 368.2,630.1 412.1,551.9 455.9,574.1 499.8,588.7"/>
<polyline class="ln" points="105.1,566.9 149,561.8 192.8,565 236.7,637.6 280.6,632.8 324.4,634.5 368.2,621.2 412.1,548.6 455.9,580.3 499.8,615.8"/>
<polyline class="ln" points="105.1,560.5 149,552.1 192.8,574.8 236.7,601.4 280.6,604.2 324.4,624.5 368.2,609.6 412.1,569 455.9,573.2 499.8,558.8"/>
<polyline class="ln" points="105.1,550.5 149,571.7 192.8,581.5 236.7,599 280.6,611.8 324.4,626 368.2,603.6 412.1,567.2 455.9,573.9 499.8,553.1"/>
<polyline class="ln" points="105.1,560.9 149,545 192.8,559.3 236.7,603.8 280.6,620.2 324.4,621.6 368.2,615 412.1,587.6 455.9,553.9 499.8,560.9"/>
<polyline class="ln" points="105.1,545.3 149,562.1 192.8,551.3 236.7,575.9 280.6,632.8 324.4,655.7 368.2,624.9 412.1,546.3 455.9,551.2 499.8,560.3"/>
<polyline class="ln" points="105.1,551.1 149,571.4 192.8,566.9 236.7,620.3 280.6,608.2 324.4,632.8 368.2,619.4 412.1,583.1 455.9,552.4 499.8,528.2"/>
<polyline class="ln" points="105.1,570.8 149,554 192.8,572.2 236.7,579.1 280.6,596.2 324.4,639.4 368.2,611.8 412.1,548.3 455.9,532.2 499.8,573.5"/>
<polyline class="ln" points="105.1,563.8 149,557.9 192.8,556.5 236.7,588.7 280.6,606.9 324.4,621 368.2,606.2 412.1,572.7 455.9,580.6 499.8,550"/>
<polyline class="ln" points="105.1,549.7 149,552.6 192.8,568.9 236.7,612.1 280.6,601.2 324.4,616.6 368.2,590.4 412.1,597.8 455.9,572.1 499.8,567"/>
<polyline class="ln" points="105.1,532.6 149,581.1 192.8,560.2 236.7,616.6 280.6,625.4 324.4,616.9 368.2,603.4 412.1,596.3 455.9,563.7 499.8,572"/>
<polyline class="ln" points="105.1,542.9 149,568.1 192.8,571.1 236.7,639.5 280.6,604.3 324.4,628 368.2,604 412.1,586.9 455.9,529.4 499.8,574.7"/>
<polyline class="ln" points="105.1,536.9 149,544.4 192.8,577 236.7,601.2 280.6,620.4 324.4,652.9 368.2,606.4 412.1,574.3 455.9,539 499.8,534.8"/>
<polyline class="ln" points="105.1,571.1 149,563.7 192.8,565.4 236.7,590.9 280.6,609.8 324.4,639.4 368.2,616.6 412.1,563.3 455.9,589.1 499.8,588.1"/>
<polyline class="ln" points="105.1,567.2 149,567.2 192.8,557.6 236.7,612.7 280.6,603.1 324.4,611.1 368.2,599 412.1,571.3 455.9,567.4 499.8,565"/>
<polyline class="ln" points="105.1,563.6 149,576.9 192.8,572.1 236.7,602.4 280.6,638.8 324.4,630.4 368.2,610.3 412.1,584.4 455.9,556.4 499.8,548.4"/>
<polyline class="ln" points="105.1,541.5 149,563.9 192.8,572.2 236.7,583.4 280.6,607.6 324.4,643.8 368.2,602.2 412.1,574.3 455.9,547.4 499.8,581.3"/>
<polyline class="ln" points="105.1,568.8 149,565.6 192.8,569.3 236.7,617.4 280.6,633.5 324.4,647.3 368.2,587 412.1,546 455.9,575.5 499.8,577.3"/>
<polyline class="ln" points="105.1,561.1 149,568.1 192.8,572.8 236.7,586.3 280.6,615.3 324.4,629.9 368.2,592.8 412.1,569.5 455.9,566.3 499.8,576"/>
<polyline class="ln" points="105.1,569 149,570.4 192.8,555.2 236.7,582.7 280.6,632.2 324.4,635.5 368.2,621.5 412.1,559.3 455.9,567.7 499.8,571.9"/>
<polyline class="ln" points="105.1,567.8 149,576.7 192.8,573 236.7,572.8 280.6,641.5 324.4,648.8 368.2,613.8 412.1,587.5 455.9,583.4 499.8,589.9"/>
<polyline class="ln" points="105.1,574.3 149,563.5 192.8,588.7 236.7,620.5 280.6,648.6 324.4,636.6 368.2,622.2 412.1,564.1 455.9,580.5 499.8,550.5"/>
<polyline class="ln" points="105.1,582.2 149,547.2 192.8,579.5 236.7,603.2 280.6,644.5 324.4,640.4 368.2,592.4 412.1,556.5 455.9,574.6 499.8,560.6"/>
<polyline class="ln" points="105.1,548.1 149,557.8 192.8,570.9 236.7,591.4 280.6,624.6 324.4,660 368.2,617.5 412.1,569.2 455.9,530 499.8,556.3"/>
<polyline class="ln" points="105.1,562.3 149,577.4 192.8,571.9 236.7,621.1 280.6,628.8 324.4,644.2 368.2,600.4 412.1,570.8 455.9,563.6 499.8,563"/>
<polyline class="ln" points="105.1,555.5 149,566.2 192.8,572.5 236.7,594.4 280.6,637.7 324.4,647.1 368.2,605.8 412.1,597.6 455.9,553.6 499.8,589.1"/>
<polyline class="ln" points="105.1,567.6 149,565.6 192.8,575.7 236.7,589.4 280.6,630.1 324.4,623 368.2,603.2 412.1,578.1 455.9,550.6 499.8,557.4"/>
<polyline class="ln" points="105.1,563.2 149,561.2 192.8,557.9 236.7,607.1 280.6,613.2 324.4,633.1 368.2,603.3 412.1,551.3 455.9,581.2 499.8,593.2"/>
<polyline class="ln" points="105.1,574.8 149,545.2 192.8,577.7 236.7,605.2 280.6,627.1 324.4,641.1 368.2,607.3 412.1,549.5 455.9,560.1 499.8,582.8"/>
<polyline class="ln" points="105.1,552.4 149,556.2 192.8,557.4 236.7,617.5 280.6,614 324.4,617.9 368.2,648.5 412.1,556.2 455.9,542.9 499.8,563.4"/>
<polyline class="ln" points="105.1,553.8 149,554.7 192.8,558.3 236.7,643.5 280.6,627.4 324.4,639.8 368.2,637.3 412.1,543.9 455.9,588.9 499.8,572.7"/>
<polyline class="ln" points="105.1,551.5 149,551 192.8,582.5 236.7,639.8 280.6,644.7 324.4,622.7 368.2,631.4 412.1,553.3 455.9,552.9 499.8,541.6"/>
<polyline class="ln" points="105.1,567.6 149,560.3 192.8,569.4 236.7,649 280.6,608.6 324.4,609 368.2,636 412.1,549.6 455.9,565.8 499.8,571.5"/>
<polyline class="ln" points="105.1,567.9 149,571 192.8,548.7 236.7,596.9 280.6,616.6 324.4,612.1 368.2,632.6 412.1,549.8 455.9,580.9 499.8,593"/>
<polyline class="ln" points="105.1,550.2 149,554.3 192.8,564.1 236.7,616 280.6,615 324.4,649.8 368.2,621.3 412.1,558.9 455.9,581.1 499.8,537.2"/>
<polyline class="ln" points="105.1,558.6 149,563.5 192.8,569.1 236.7,610.9 280.6,635.8 324.4,627.8 368.2,624.6 412.1,593.2 455.9,566.8 499.8,575.9"/>
<polyline class="ln" points="105.1,563.4 149,566.1 192.8,560.7 236.7,603.1 280.6,617.6 324.4,627.9 368.2,624.5 412.1,567.3 455.9,555.9 499.8,591"/>
<polyline class="ln" points="105.1,540 149,573.2 192.8,564.4 236.7,619.4 280.6,596.9 324.4,618.5 368.2,640.8 412.1,554 455.9,589.5 499.8,567.8"/>
<polyline class="ln" points="105.1,558.3 149,569.9 192.8,578.5 236.7,615.1 280.6,620.6 324.4,632.2 368.2,635.6 412.1,555.2 455.9,587.4 499.8,610"/>
<polyline class="ln" points="105.1,574.8 149,544.7 192.8,572 236.7,630.7 280.6,630.1 324.4,632.5 368.2,621.1 412.1,564 455.9,556.9 499.8,584.6"/>
<polyline class="ln" points="105.1,553.1 149,561.1 192.8,573.2 236.7,604.8 280.6,611.4 324.4,638.8 368.2,610.6 412.1,568 455.9,597.3 499.8,537.8"/>
<polyline class="ln" points="105.1,570.5 149,559.9 192.8,554.3 236.7,628.5 280.6,642.7 324.4,605.2 368.2,608.7 412.1,547.1 455.9,551.3 499.8,559.9"/>
<polyline class="ln" points="105.1,564.7 149,552.8 192.8,565.2 236.7,620.5 280.6,644 324.4,634.4 368.2,627.8 412.1,525.8 455.9,562 499.8,546.4"/>
<polyline class="ln" points="105.1,557.7 149,563 192.8,588.9 236.7,614.8 280.6,622.5 324.4,654.1 368.2,620.4 412.1,590.8 455.9,558.8 499.8,545.8"/>
<polyline class="ln" points="105.1,557.9 149,563.5 192.8,570.9 236.7,627 280.6,641.7 324.4,644.4 368.2,601.5 412.1,570 455.9,556.4 499.8,576.9"/>
<polyline class="ln" points="105.1,548.7 149,567.2 192.8,556.1 236.7,599.3 280.6,617.2 324.4,664.2 368.2,601.3 412.1,568.9 455.9,562.3 499.8,558.8"/>
<polyline class="ln" points="105.1,568.1 149,550.1 192.8,551.6 236.7,594.5 280.6,609.4 324.4,633.4 368.2,583.8 412.1,584.4 455.9,554.7 499.8,554.6"/>
<polyline class="ln" points="105.1,570 149,570.5 192.8,561.1 236.7,618.6 280.6,635.8 324.4,636.4 368.2,611.9 412.1,565.8 455.9,573.5 499.8,558.8"/>
<polyline class="ln" points="105.1,560.9 149,567.6 192.8,578.2 236.7,579.4 280.6,633 324.4,631.7 368.2,612.1 412.1,553.2 455.9,585.6 499.8,528.2"/>
<polyline class="ln" points="105.1,550 149,566.4 192.8,555.2 236.7,584.2 280.6,626 324.4,649.7 368.2,604.3 412.1,560.2 455.9,587.9 499.8,553.5"/>
<polyline class="ln" points="105.1,558.3 149,560.5 192.8,569.7 236.7,617.8 280.6,655.7 324.4,646.5 368.2,629.7 412.1,527 455.9,548.4 499.8,536.4"/>
<polyline class="ln" points="105.1,551.4 149,560.8 192.8,581.9 236.7,604.6 280.6,645.8 324.4,625.7 368.2,608 412.1,539.5 455.9,592.4 499.8,555.3"/>
<polyline class="ln" points="105.1,544.9 149,572.4 192.8,566.2 236.7,582.3 280.6,648.8 324.4,635.2 368.2,610.6 412.1,572.3 455.9,617.1 499.8,570.8"/>
<polyline class="ln" points="105.1,577.6 149,554.1 192.8,571.7 236.7,602.2 280.6,639 324.4,633.6 368.2,618.1 412.1,568.7 455.9,557.3 499.8,564.4"/>
<polyline class="ln" points="105.1,563 149,568.1 192.8,571.9 236.7,586.8 280.6,598.5 324.4,625 368.2,635.9 412.1,609.7 455.9,565.6 499.8,533.5"/>
<polyline class="ln" points="105.1,554.1 149,564.9 192.8,567.7 236.7,604.4 280.6,607.3 324.4,610.3 368.2,607.3 412.1,608.8 455.9,535.7 499.8,537.4"/>
<polyline class="ln" points="105.1,566.3 149,552.1 192.8,562.3 236.7,629.6 280.6,647.6 324.4,639.6 368.2,629.7 412.1,569.3 455.9,577.2 499.8,584.8"/>
<polyline class="ln" points="105.1,567 149,545.6 192.8,570.3 236.7,585.1 280.6,612 324.4,637.4 368.2,616.8 412.1,590.7 455.9,557.1 499.8,555.9"/>
<polyline class="ln" points="105.1,563.4 149,558.3 192.8,566.8 236.7,610.9 280.6,605.7 324.4,650.5 368.2,621.2 412.1,598.8 455.9,569.2 499.8,569.7"/>
<polyline class="ln" points="105.1,538.8 149,558.6 192.8,568.3 236.7,598.1 280.6,631.2 324.4,647.5 368.2,612 412.1,567.7 455.9,564.5 499.8,574.2"/>
<polyline class="ln" points="105.1,549.8 149,561.6 192.8,575.7 236.7,616.4 280.6,611.6 324.4,625.1 368.2,615.1 412.1,608.2 455.9,541.1 499.8,572.5"/>
<polyline class="ln" points="105.1,561.1 149,544 192.8,559 236.7,628.8 280.6,631.1 324.4,632.2 368.2,624.2 412.1,589.7 455.9,556.3 499.8,567.8"/>
<polyline class="ln" points="105.1,566.4 149,550 192.8,576 236.7,608.1 280.6,643.2 324.4,632.1 368.2,612 412.1,547.1 455.9,574.1 499.8,596.9"/>
<polyline class="ln" points="105.1,572.6 149,561.8 192.8,559.7 236.7,623.5 280.6,626.9 324.4,603.7 368.2,617.6 412.1,563.1 455.9,547.9 499.8,585.6"/>
<polyline class="ln" points="105.1,549 149,541.6 192.8,568 236.7,605 280.6,631.1 324.4,620.4 368.2,625 412.1,548.2 455.9,556.5 499.8,560.5"/>
<polyline class="ln" points="105.1,553 149,566.5 192.8,585.1 236.7,598.2 280.6,635.1 324.4,654.6 368.2,626.7 412.1,563.3 455.9,568 499.8,550.3"/>
<polyline class="ln" points="105.1,567 149,560.2 192.8,586 236.7,618.7 280.6,624.2 324.4,631.9 368.2,638.8 412.1,572.8 455.9,538.1 499.8,562.7"/>
<polyline class="ln" points="105.1,573.3 149,566.4 192.8,565 236.7,611.9 280.6,635 324.4,649.9 368.2,617 412.1,587.1 455.9,579.2 499.8,576.4"/>
<polyline class="ln" points="105.1,551.8 149,566.7 192.8,575.3 236.7,602.4 280.6,610.3 324.4,632.5 368.2,620.2 412.1,569.7 455.9,550.1 499.8,599.9"/>
<polyline class="ln" points="105.1,568.7 149,569.7 192.8,561.9 236.7,584.8 280.6,622.4 324.4,632.7 368.2,595 412.1,543.5 455.9,526.7 499.8,577.2"/>
<polyline class="ln" points="105.1,546.1 149,564.5 192.8,563.9 236.7,619.8 280.6,610.1 324.4,643.2 368.2,599.3 412.1,580 455.9,564.9 499.8,593.8"/>
<polyline class="ln" points="105.1,579.6 149,565.1 192.8,565.4 236.7,601.9 280.6,618.2 324.4,654.5 368.2,611.6 412.1,541.7 455.9,583 499.8,567"/>
<polyline class="ln" points="105.1,562.2 149,564.7 192.8,567 236.7,592 280.6,617.1 324.4,646.1 368.2,600.3 412.1,570.5 455.9,592.2 499.8,546"/>
<polyline class="ln" points="105.1,560.1 149,560.1 192.8,559.2 236.7,632.1 280.6,613.2 324.4,621 368.2,612.5 412.1,581 455.9,551.4 499.8,595.2"/>
<polyline class="ln" points="105.1,574.6 149,559.8 192.8,553.7 236.7,593.3 280.6,613.7 324.4,618.9 368.2,615.2 412.1,595.8 455.9,565.5 499.8,588.4"/>
<polyline class="ln" points="105.1,572.1 149,571.3 192.8,574.1 236.7,638.1 280.6,641.4 324.4,631.1 368.2,610.7 412.1,575.4 455.9,566.8 499.8,562.5"/>
<polyline class="ln" points="105.1,575.4 149,581.7 192.8,567.7 236.7,575.4 280.6,615.4 324.4,622.2 368.2,603.7 412.1,584.5 455.9,566.3 499.8,578.8"/>
<polyline class="ln" points="105.1,573.6 149,549.2 192.8,572.8 236.7,618.8 280.6,636.6 324.4,634.7 368.2,581 412.1,565 455.9,527 499.8,568.1"/>
<polyline class="ln" points="105.1,573.6 149,578.3 192.8,574.8 236.7,603.1 280.6,653.4 324.4,634.3 368.2,597.9 412.1,561 455.9,609.7 499.8,604.1"/>
<polyline class="ln" points="105.1,575.5 149,586.9 192.8,573.2 236.7,628.4 280.6,616.5 324.4,637.2 368.2,609.8 412.1,575.7 455.9,564.7 499.8,571.5"/>
<polyline class="ln" points="105.1,551.8 149,545.7 192.8,555.2 236.7,590.3 280.6,628.2 324.4,625.3 368.2,604 412.1,571.1 455.9,609.2 499.8,551.1"/>
<polyline class="ln" points="105.1,559.1 149,551 192.8,560.8 236.7,628.1 280.6,621.7 324.4,624.2 368.2,609 412.1,575.6 455.9,591.4 499.8,595.4"/>
<polyline class="ln" points="105.1,568.7 149,569.8 192.8,583.5 236.7,621.1 280.6,631.1 324.4,635 368.2,599.9 412.1,556.6 455.9,609 499.8,582.6"/>
<polyline class="ln" points="105.1,578.4 149,564.7 192.8,573.1 236.7,609.3 280.6,621.8 324.4,628.3 368.2,596 412.1,595.3 455.9,566 499.8,585.1"/>
<polyline class="ln" points="105.1,553.7 149,543.8 192.8,570.2 236.7,610.5 280.6,640.1 324.4,638.2 368.2,611.8 412.1,606.4 455.9,554.6 499.8,593.9"/>
<polyline class="ln" points="105.1,548.6 149,557.8 192.8,574.8 236.7,630 280.6,623.5 324.4,657 368.2,607.2 412.1,581 455.9,600.8 499.8,584.9"/>
<polyline class="ln" points="105.1,575.4 149,550.9 192.8,561.2 236.7,604.1 280.6,651.8 324.4,606.6 368.2,611.2 412.1,564.6 455.9,610.6 499.8,555.8"/>
<polyline class="ln" points="105.1,573.2 149,552.4 192.8,559.8 236.7,582.8 280.6,625.3 324.4,644.1 368.2,608.6 412.1,589.2 455.9,584.5 499.8,593.2"/>
<polyline class="ln" points="105.1,558.8 149,537.7 192.8,588 236.7,630.9 280.6,635.4 324.4,656.4 368.2,628.2 412.1,568.7 455.9,581.2 499.8,606.3"/>
<polyline class="ln" points="105.1,571.4 149,551.9 192.8,561.2 236.7,630.3 280.6,643 324.4,636.5 368.2,596.4 412.1,554.4 455.9,610.3 499.8,563.9"/>
<polyline class="ln" points="105.1,574.7 149,564.9 192.8,562.9 236.7,618.5 280.6,615.6 324.4,605.2 368.2,623.6 412.1,556.9 455.9,557.1 499.8,578.6"/>
<polyline class="ln" points="105.1,577 149,559.7 192.8,563.8 236.7,639.6 280.6,622.8 324.4,632.3 368.2,606.1 412.1,565.6 455.9,584 499.8,551.2"/>
<polyline class="ln" points="105.1,569.5 149,546.6 192.8,564.2 236.7,646.4 280.6,656.6 324.4,640.4 368.2,619.5 412.1,540.5 455.9,594 499.8,560.3"/>
<polyline class="ln" points="105.1,557.5 149,547.5 192.8,562.5 236.7,547.5 280.6,542.5 324.4,572.5 368.2,557.5 412.1,537.5 455.9,562.5 499.8,557.5"/>
<polyline class="ln" points="105.1,567.5 149,552.5 192.8,547.5 236.7,577.5 280.6,537.5 324.4,537.5 368.2,552.5 412.1,527.5 455.9,547.5 499.8,542.5"/>
<rect x="85.1" y="564.5" width="40" height="3" fill="#fff6cc" fill-opacity=".8"/>
<rect x="85.1" y="563.9" width="40" height="0.6" fill="#000000" fill-opacity=".8"/>
<rect x="85.1" y="561.6" width="40" height="2.3" fill="#ce605e" fill-opacity=".8"/>
<rect x="85.1" y="560.6" width="40" height="1" fill="#9f4763" fill-opacity=".8"/>
<rect x="85.1" y="559.1" width="40" height="1.5" fill="#37184a" fill-opacity=".8"/>
<rect x="129" y="566" width="40" height="1.5" fill="#ee8c60" fill-opacity=".8"/>
<rect x="129" y="562.2" width="40" height="3.8" fill="#fff6cc" fill-opacity=".8"/>
<rect x="129" y="560.7" width="40" height="1.5" fill="#000000" fill-opacity=".8"/>
<rect x="129" y="556.9" width="40" height="3.8" fill="#ce605e" fill-opacity=".8"/>
<rect x="129" y="555.4" width="40" height="1.5" fill="#702a5b" fill-opacity=".8"/>
<rect x="129" y="552.4" width="40" height="3" fill="#37184a" fill-opacity=".8"/>
<rect x="172.8" y="567.5" width="40" height="3" fill="#ee8c60" fill-opacity=".8"/>
<rect x="172.8" y="570.5" width="40" height="4.6" fill="#fff6cc" fill-opacity=".8"/>
<rect x="172.8" y="575.1" width="40" height="3.3" fill="#000000" fill-opacity=".8"/>
<rect x="172.8" y="578.4" width="40" height="5.8" fill="#ce605e" fill-opacity=".8"/>
<rect x="172.8" y="584.2" width="40" height="3" fill="#702a5b" fill-opacity=".8"/>
<rect x="172.8" y="587.2" width="40" height="2.3" fill="#37184a" fill-opacity=".8"/>
<rect x="216.7" y="567.5" width="40" height="5.1" fill="#ee8c60" fill-opacity=".8"/>
<rect x="216.7" y="572.6" width="40" height="4.9" fill="#fcc286" fill-opacity=".8"/>
<rect x="216.7" y="577.5" width="40" height="8.1" fill="#fff6cc" fill-opacity=".8"/>
<rect x="216.7" y="585.6" width="40" height="5.1" fill="#000000" fill-opacity=".8"/>
<rect x="216.7" y="590.7" width="40" height="9.4" fill="#9f4763" fill-opacity=".8"/>
<rect x="216.7" y="600.1" width="40" height="7.2" fill="#ce605e" fill-opacity=".8"/>
<rect x="216.7" y="607.3" width="40" height="6.3" fill="#702a5b" fill-opacity=".8"/>
<rect x="216.7" y="613.6" width="40" height="2.7" fill="#37184a" fill-opacity=".8"/>
<rect x="260.6" y="567.5" width="40" height="6.9" fill="#ee8c60" fill-opacity=".8"/>
<rect x="260.6" y="574.4" width="40" height="4.9" fill="#fcc286" fill-opacity=".8"/>
<rect x="260.6" y="579.3" width="40" height="10.3" fill="#fff6cc" fill-opacity=".8"/>
<rect x="260.6" y="589.6" width="40" height="9.6" fill="#000000" fill-opacity=".8"/>
<rect x="260.6" y="599.2" width="40" height="10.5" fill="#9f4763" fill-opacity=".8"/>
<rect x="260.6" y="609.7" width="40" height="9" fill="#ce605e" fill-opacity=".8"/>
<rect x="260.6" y="618.7" width="40" height="7.6" fill="#702a5b" fill-opacity=".8"/>
<rect x="260.6" y="626.3" width="40" height="6.7" fill="#37184a" fill-opacity=".8"/>
<rect x="304.4" y="567.5" width="40" height="10.8" fill="#ee8c60" fill-opacity=".8"/>
<rect x="304.4" y="578.3" width="40" height="8.7" fill="#fcc286" fill-opacity=".8"/>
<rect x="304.4" y="587" width="40" height="8.5" fill="#fff6cc" fill-opacity=".8"/>
<rect x="304.4" y="595.5" width="40" height="8.1" fill="#000000" fill-opacity=".8"/>
<rect x="304.4" y="603.6" width="40" height="7.2" fill="#9f4763" fill-opacity=".8"/>
<rect x="304.4" y="610.8" width="40" height="8.7" fill="#ce605e" fill-opacity=".8"/>
<rect x="304.4" y="619.5" width="40" height="6.1" fill="#702a5b" fill-opacity=".8"/>
<rect x="304.4" y="625.6" width="40" height="7.2" fill="#37184a" fill-opacity=".8"/>
<rect x="348.2" y="567.5" width="40" height="2.7" fill="#ee8c60" fill-opacity=".8"/>
<rect x="348.2" y="570.2" width="40" height="2.3" fill="#000000" fill-opacity=".8"/>
<rect x="348.2" y="572.5" width="40" height="4" fill="#ce605e" fill-opacity=".8"/>
<rect x="348.2" y="576.5" width="40" height="3.6" fill="#37184a" fill-opacity=".8"/>
<rect x="392.1" y="566.5" width="40" height="1" fill="#9f4763" fill-opacity=".8"/>
</g>
<g clip-path="url(#cpd)">
<path d="M518.9,514.4 L522.6,513.3 L526.4,510.2 L530.1,509.4 L533.9,508.1 L537.6,511.1 L541.4,513.7 L545.1,515 L548.9,512.5 L554.4,509.5 L559.9,512.1 L565.4,517.3 L570.9,521.2 L576.4,524.1 L581.9,527.1 L587.4,525.4 L592.9,524.3 L598.4,522.1 L603.9,523 L609.4,519.9 L614.9,515.3 L620.4,508.1 L625.9,505.8 L631.4,502.7 L636.9,506.3 L642.4,504.6 L647.9,503.8 L653.4,503 L658.9,500.5 L664.4,499.6 L669.9,494.5 L675.4,495.8 L680.9,494 L686.4,493.5 L691.9,491.5 L697.4,492.8 L702.9,492.2 L708.4,490.6 L713.9,489.5 L719.4,489.7 L724.9,492.7 L730.4,493.6 L735.9,493.1 L741.4,489.2 L746.9,487 L752.4,485.3 L757.9,485.3 L763.4,486.7 L768.9,488.9 L774.4,488.7 L779.9,486.4 L785.4,482.9 L790.9,484.7 L796.4,484.6 L801.9,485.9 L807.4,484.8 L812.9,486 L818.4,487 L823.9,485.9 L829.4,482.5 L834.9,482.7 L840.4,482.2 L845.9,484.1 L851.4,481.5 L856.9,483.6 L862.4,483.7 L867.9,483.3 L873.4,481.6 L878.9,480.9 L884.4,482.2 L889.9,483.5 L895.4,486.1 L900.9,484.1 L906.4,483.1 L911.9,479.1 L917.4,479.7 L922.9,479.2 L928.4,478.9 L933.9,481.8 L939.4,481.7 L944.9,483.2 L948.6,483.5 L952.4,481.2 L956.1,482.9 L959.9,482.2 L963.6,483.9 L967.4,482.3 L971.1,481.1 L974.9,481.5 L974.9,663.9 L971.1,662 L967.4,658.3 L963.6,659.8 L959.9,656.5 L956.1,659.2 L952.4,660.1 L948.6,663.7 L944.9,660.9 L939.4,661.3 L933.9,659.2 L928.4,662.4 L922.9,661.6 L917.4,662.4 L911.9,661.1 L906.4,659.9 L900.9,662 L895.4,666.7 L889.9,667.2 L884.4,667.2 L878.9,659.7 L873.4,657.8 L867.9,656.9 L862.4,663.1 L856.9,666.5 L851.4,667.5 L845.9,665.9 L840.4,662.6 L834.9,659.2 L829.4,655.9 L823.9,656.2 L818.4,662.5 L812.9,664.9 L807.4,666.1 L801.9,662.8 L796.4,662.6 L790.9,663.9 L785.4,661.8 L779.9,657.8 L774.4,653.7 L768.9,656.2 L763.4,659.1 L757.9,662.3 L752.4,655.8 L746.9,652.9 L741.4,649.7 L735.9,649.1 L730.4,647.8 L724.9,648.1 L719.4,650.7 L713.9,652.6 L708.4,648.2 L702.9,643.6 L697.4,637 L691.9,639.6 L686.4,639.2 L680.9,641.7 L675.4,640.4 L669.9,640 L664.4,634.2 L658.9,628.6 L653.4,627.1 L647.9,626.5 L642.4,628.6 L636.9,625.8 L631.4,625 L625.9,620.1 L620.4,618.5 L614.9,612.7 L609.4,607.2 L603.9,603.8 L598.4,606.4 L592.9,609.9 L587.4,608.8 L581.9,605.8 L576.4,603.1 L570.9,606.4 L565.4,611.2 L559.9,615.1 L554.4,615.2 L548.9,615 L545.1,615 L541.4,612.7 L537.6,611.1 L533.9,609 L530.1,608 L526.4,609.3 L522.6,609.8 L518.9,612.3Z" fill="#78a0ad" fill-opacity="0.22" filter="url(#bl2)"/>
<path d="M518.9,510.8 L522.6,518.9 L526.4,522.8 L530.1,524.2 L533.9,520.1 L537.6,520 L541.4,521 L545.1,519.3 L548.9,517.2 L554.4,518.1 L559.9,518.6 L565.4,523.2 L570.9,530.3 L576.4,534.2 L581.9,537.2 L587.4,529.9 L592.9,530.2 L598.4,524.9 L603.9,525.4 L609.4,520.9 L614.9,518.9 L620.4,514.1 L625.9,511.9 L631.4,509.4 L636.9,510.8 L642.4,508.4 L647.9,507.6 L653.4,504.5 L658.9,504.2 L664.4,499.8 L669.9,499 L675.4,498.7 L680.9,500.4 L686.4,497.5 L691.9,497 L697.4,497.4 L702.9,496.3 L708.4,493.2 L713.9,488.7 L719.4,489.7 L724.9,489.4 L730.4,492.7 L735.9,490.8 L741.4,491.9 L746.9,492.5 L752.4,490.8 L757.9,492.1 L763.4,489.4 L768.9,493.1 L774.4,491.9 L779.9,493.5 L785.4,492 L790.9,489.3 L796.4,491.1 L801.9,491.8 L807.4,491.8 L812.9,487.7 L818.4,487 L823.9,486.5 L829.4,484 L834.9,481.8 L840.4,483.5 L845.9,485.4 L851.4,486.7 L856.9,487.2 L862.4,487.8 L867.9,486.1 L873.4,489.1 L878.9,488.7 L884.4,491.5 L889.9,487.1 L895.4,487.9 L900.9,487.2 L906.4,487.7 L911.9,487.9 L917.4,488.5 L922.9,488.1 L928.4,487.6 L933.9,484.4 L939.4,481.9 L944.9,480.1 L948.6,482.2 L952.4,484.4 L956.1,484.5 L959.9,487.2 L963.6,487.4 L967.4,490.7 L971.1,488.9 L974.9,489.9 L974.9,660.1 L971.1,661.3 L967.4,663.7 L963.6,658.3 L959.9,657.6 L956.1,655.7 L952.4,656.1 L948.6,654.6 L944.9,650.4 L939.4,652.9 L933.9,654.3 L928.4,661.3 L922.9,660.3 L917.4,657.7 L911.9,654.3 L906.4,654.2 L900.9,657.4 L895.4,655.7 L889.9,658.2 L884.4,658.4 L878.9,660.1 L873.4,657.9 L867.9,653.6 L862.4,652.5 L856.9,653.5 L851.4,656 L845.9,657.5 L840.4,661.2 L834.9,663.8 L829.4,662.1 L823.9,657.9 L818.4,655.5 L812.9,653.9 L807.4,651.1 L801.9,649.5 L796.4,651.7 L790.9,656.3 L785.4,655.6 L779.9,655.3 L774.4,651.7 L768.9,650.4 L763.4,648.2 L757.9,647.7 L752.4,647.7 L746.9,645.8 L741.4,642.2 L735.9,639.9 L730.4,641.2 L724.9,643.6 L719.4,643.7 L713.9,643.1 L708.4,639.9 L702.9,638 L697.4,635.2 L691.9,635.6 L686.4,637.5 L680.9,636 L675.4,633.9 L669.9,631.1 L664.4,625 L658.9,622.7 L653.4,617.8 L647.9,617.6 L642.4,617.1 L636.9,615.7 L631.4,612.6 L625.9,609.7 L620.4,612.9 L614.9,610.7 L609.4,607.3 L603.9,601.4 L598.4,601.8 L592.9,601.5 L587.4,600 L581.9,600.6 L576.4,600.1 L570.9,599.9 L565.4,600.2 L559.9,604.4 L554.4,609.9 L548.9,611.7 L545.1,609.1 L541.4,609.6 L537.6,609.7 L533.9,610.5 L530.1,606.3 L526.4,605.4 L522.6,606.9 L518.9,609.3Z" fill="#78a0ad" fill-opacity="0.22" filter="url(#bl2)"/>
<path d="M518.9,527.7 L522.6,526.1 L526.4,522.6 L530.1,524.1 L533.9,525.6 L537.6,525 L541.4,525.2 L545.1,521.4 L548.9,525.4 L554.4,525.4 L559.9,530.4 L565.4,528.9 L570.9,528.8 L576.4,528.7 L581.9,533.8 L587.4,535.8 L592.9,537 L598.4,533.7 L603.9,533 L609.4,527 L614.9,524.2 L620.4,518 L625.9,515.2 L631.4,511.7 L636.9,510.7 L642.4,511.2 L647.9,509.8 L653.4,508.5 L658.9,506.3 L664.4,504.9 L669.9,500.4 L675.4,501.9 L680.9,503.4 L686.4,507.2 L691.9,504.1 L697.4,498.3 L702.9,497.1 L708.4,493.8 L713.9,496.9 L719.4,494.3 L724.9,498 L730.4,499.8 L735.9,502.7 L741.4,502 L746.9,499.1 L752.4,498.9 L757.9,500.3 L763.4,500.8 L768.9,498.3 L774.4,496.7 L779.9,492.9 L785.4,498 L790.9,496.7 L796.4,499 L801.9,495.4 L807.4,493 L812.9,496.1 L818.4,494.2 L823.9,497.7 L829.4,495.6 L834.9,497.1 L840.4,495.2 L845.9,494.6 L851.4,495.1 L856.9,496.2 L862.4,495.5 L867.9,491.7 L873.4,490.3 L878.9,489.9 L884.4,490 L889.9,492.4 L895.4,492.1 L900.9,491.4 L906.4,489.7 L911.9,493.8 L917.4,495.4 L922.9,494.4 L928.4,490.8 L933.9,491.7 L939.4,491.3 L944.9,487.9 L948.6,490.7 L952.4,490.1 L956.1,495 L959.9,493.9 L963.6,498 L967.4,494 L971.1,493.2 L974.9,492 L974.9,655.4 L971.1,653.8 L967.4,653.5 L963.6,655.5 L959.9,655.6 L956.1,654.7 L952.4,653 L948.6,653.8 L944.9,653.3 L939.4,657.2 L933.9,654.9 L928.4,653.3 L922.9,651 L917.4,656.9 L911.9,659.5 L906.4,660 L900.9,652.7 L895.4,650.2 L889.9,652.5 L884.4,654.8 L878.9,659.9 L873.4,657.3 L867.9,659.3 L862.4,655 L856.9,654.4 L851.4,653.7 L845.9,655.1 L840.4,652.8 L834.9,652.2 L829.4,652.8 L823.9,654.4 L818.4,655.3 L812.9,652.5 L807.4,653.3 L801.9,653.4 L796.4,652.1 L790.9,651.2 L785.4,646.2 L779.9,647.3 L774.4,645.5 L768.9,645.7 L763.4,643.8 L757.9,642.4 L752.4,644.8 L746.9,644 L741.4,644.9 L735.9,642.1 L730.4,643.4 L724.9,641.9 L719.4,640.7 L713.9,639.7 L708.4,640.3 L702.9,639.2 L697.4,635.7 L691.9,632.5 L686.4,628.2 L680.9,628.4 L675.4,628.6 L669.9,628.4 L664.4,626 L658.9,621.7 L653.4,619.1 L647.9,614.9 L642.4,612.6 L636.9,611.4 L631.4,609.7 L625.9,610 L620.4,609.2 L614.9,607.8 L609.4,602.1 L603.9,600.9 L598.4,599.9 L592.9,598.6 L587.4,595.4 L581.9,595.4 L576.4,596.2 L570.9,598.5 L565.4,599.1 L559.9,602.9 L554.4,604.1 L548.9,609 L545.1,607.2 L541.4,610.4 L537.6,605.5 L533.9,605.6 L530.1,603.7 L526.4,607.9 L522.6,611.1 L518.9,612.3Z" fill="#78a0ad" fill-opacity="0.22" filter="url(#bl2)"/>
<path d="M518.9,525.8 L522.6,528.1 L526.4,525.8 L530.1,527 L533.9,525.8 L537.6,527.2 L541.4,523.9 L545.1,524.6 L548.9,527.7 L554.4,528.9 L559.9,530.9 L565.4,529.2 L570.9,532 L576.4,529.8 L581.9,533.5 L587.4,532.6 L592.9,533 L598.4,534.2 L603.9,534.4 L609.4,536.9 L614.9,535.1 L620.4,532.5 L625.9,530.8 L631.4,528 L636.9,525 L642.4,520.6 L647.9,518.2 L653.4,515.7 L658.9,514.8 L664.4,510.7 L669.9,509.1 L675.4,507.6 L680.9,508.6 L686.4,509.4 L691.9,508.9 L697.4,506.9 L702.9,507.2 L708.4,505.7 L713.9,506.9 L719.4,502.9 L724.9,500.5 L730.4,497.7 L735.9,501.3 L741.4,502.4 L746.9,500.9 L752.4,499.7 L757.9,497.9 L763.4,499.5 L768.9,498.5 L774.4,500 L779.9,499.8 L785.4,499.4 L790.9,499.4 L796.4,499.5 L801.9,498.6 L807.4,497.5 L812.9,495.4 L818.4,495.6 L823.9,496.4 L829.4,496.3 L834.9,496.7 L840.4,495.5 L845.9,497.4 L851.4,496.2 L856.9,496.1 L862.4,496.1 L867.9,498.9 L873.4,497.6 L878.9,498.9 L884.4,494.9 L889.9,493.8 L895.4,493.7 L900.9,495.2 L906.4,497.6 L911.9,497.3 L917.4,498.6 L922.9,497.8 L928.4,497 L933.9,498.4 L939.4,502 L944.9,500.7 L948.6,498.8 L952.4,497.1 L956.1,498.3 L959.9,498 L963.6,497.2 L967.4,495.1 L971.1,497.1 L974.9,498.4 L974.9,647.4 L971.1,646.7 L967.4,646.5 L963.6,648 L959.9,649.6 L956.1,650.4 L952.4,649.7 L948.6,649.4 L944.9,648.7 L939.4,646.4 L933.9,645.7 L928.4,643.6 L922.9,644 L917.4,645.1 L911.9,645.9 L906.4,648.8 L900.9,647.2 L895.4,648.5 L889.9,647.1 L884.4,649.9 L878.9,651 L873.4,650.8 L867.9,649.3 L862.4,646.3 L856.9,648.1 L851.4,647.1 L845.9,650.1 L840.4,648.8 L834.9,649.6 L829.4,647.7 L823.9,648.1 L818.4,647.2 L812.9,648.7 L807.4,645.6 L801.9,643.3 L796.4,642.4 L790.9,643 L785.4,643.7 L779.9,643.1 L774.4,645.9 L768.9,649.2 L763.4,648.9 L757.9,641.8 L752.4,636.3 L746.9,635.7 L741.4,639.8 L735.9,639.1 L730.4,637 L724.9,632.8 L719.4,631.5 L713.9,631.1 L708.4,632.3 L702.9,633.3 L697.4,630.3 L691.9,627.4 L686.4,625.4 L680.9,625.7 L675.4,626.8 L669.9,624.5 L664.4,621.3 L658.9,617.2 L653.4,611.8 L647.9,611.2 L642.4,606.8 L636.9,606.7 L631.4,603.1 L625.9,604.3 L620.4,599.5 L614.9,597.2 L609.4,593.2 L603.9,594.5 L598.4,593.5 L592.9,592.9 L587.4,594.6 L581.9,595.5 L576.4,595.1 L570.9,594 L565.4,596.7 L559.9,599.8 L554.4,602.4 L548.9,601.3 L545.1,597.4 L541.4,594.8 L537.6,592.7 L533.9,596 L530.1,599.5 L526.4,602.4 L522.6,601.2 L518.9,598.6Z" fill="#78a0ad" fill-opacity="0.22" filter="url(#bl2)"/>
<path d="M518.9,532.4 L522.6,529.4 L526.4,528.7 L530.1,530.3 L533.9,533.7 L537.6,532.8 L541.4,533.4 L545.1,535 L548.9,536.9 L554.4,537.4 L559.9,532.4 L565.4,533.2 L570.9,532.8 L576.4,537.6 L581.9,537.3 L587.4,540.7 L592.9,543 L598.4,543.5 L603.9,539.5 L609.4,533.7 L614.9,529.6 L620.4,525.8 L625.9,523.8 L631.4,521.3 L636.9,520.6 L642.4,519.2 L647.9,517 L653.4,515.5 L658.9,512.7 L664.4,516.5 L669.9,517.2 L675.4,517.8 L680.9,518.6 L686.4,515.1 L691.9,513.3 L697.4,507.4 L702.9,505.8 L708.4,505.9 L713.9,503.3 L719.4,508.1 L724.9,509.5 L730.4,511.7 L735.9,509.4 L741.4,506.9 L746.9,505.6 L752.4,505 L757.9,504.5 L763.4,501 L768.9,500 L774.4,499.1 L779.9,505.4 L785.4,504.6 L790.9,505.7 L796.4,501.6 L801.9,503.8 L807.4,504.3 L812.9,504.9 L818.4,504.1 L823.9,504.4 L829.4,501.3 L834.9,498 L840.4,492.4 L845.9,494 L851.4,495.1 L856.9,500.3 L862.4,503.3 L867.9,507.7 L873.4,506.1 L878.9,502.2 L884.4,497.8 L889.9,497.9 L895.4,500.8 L900.9,502.8 L906.4,502.3 L911.9,503.1 L917.4,500.7 L922.9,498.2 L928.4,497.8 L933.9,497.8 L939.4,501.3 L944.9,501.5 L948.6,500.7 L952.4,498.6 L956.1,498.4 L959.9,500.9 L963.6,505.9 L967.4,503.1 L971.1,501.1 L974.9,496.5 L974.9,641.7 L971.1,643.1 L967.4,643.7 L963.6,643.9 L959.9,646 L956.1,644.4 L952.4,645 L948.6,643.9 L944.9,645.7 L939.4,645.3 L933.9,644.8 L928.4,645.2 L922.9,644.9 L917.4,644.1 L911.9,644.9 L906.4,645.2 L900.9,645.7 L895.4,646 L889.9,644.8 L884.4,641.8 L878.9,638.3 L873.4,639.3 L867.9,640 L862.4,642.2 L856.9,644.2 L851.4,645.6 L845.9,647.6 L840.4,645.4 L834.9,644.7 L829.4,644.5 L823.9,647.1 L818.4,646.7 L812.9,643.5 L807.4,639.4 L801.9,638.2 L796.4,634.5 L790.9,634.7 L785.4,634.8 L779.9,639 L774.4,637.6 L768.9,639.8 L763.4,638.9 L757.9,638.5 L752.4,637.1 L746.9,638 L741.4,636.4 L735.9,634.7 L730.4,631.8 L724.9,636.3 L719.4,632.5 L713.9,632 L708.4,627.4 L702.9,628.7 L697.4,623.7 L691.9,618.7 L686.4,616.6 L680.9,617.8 L675.4,619.5 L669.9,619.7 L664.4,618.8 L658.9,613.3 L653.4,608.2 L647.9,604.7 L642.4,605.4 L636.9,603.7 L631.4,598.6 L625.9,601.4 L620.4,602.9 L614.9,603.4 L609.4,595.8 L603.9,592.7 L598.4,592.7 L592.9,592.8 L587.4,588.4 L581.9,587.7 L576.4,589.5 L570.9,591.5 L565.4,592.6 L559.9,593.2 L554.4,594.1 L548.9,595.1 L545.1,592.6 L541.4,594.3 L537.6,596.4 L533.9,596.2 L530.1,595.7 L526.4,592.9 L522.6,595 L518.9,595.5Z" fill="#78a0ad" fill-opacity="0.22" filter="url(#bl2)"/>
<path d="M518.9,540.8 L522.6,542.7 L526.4,541.8 L530.1,536.6 L533.9,534.6 L537.6,536.2 L541.4,536.7 L545.1,535.6 L548.9,534.4 L554.4,535.5 L559.9,538.6 L565.4,543.4 L570.9,542.2 L576.4,542.6 L581.9,542.2 L587.4,546.7 L592.9,548.7 L598.4,548.1 L603.9,542.8 L609.4,538.3 L614.9,535.9 L620.4,534.7 L625.9,532.2 L631.4,527.6 L636.9,526 L642.4,523.9 L647.9,522.3 L653.4,516.9 L658.9,512.4 L664.4,511 L669.9,512.2 L675.4,518.8 L680.9,521.8 L686.4,521.1 L691.9,515.4 L697.4,511.2 L702.9,511.8 L708.4,513.2 L713.9,511.1 L719.4,510 L724.9,505.3 L730.4,507.9 L735.9,508.3 L741.4,515 L746.9,513.6 L752.4,510.2 L757.9,504.2 L763.4,504.2 L768.9,506.3 L774.4,506.6 L779.9,504.1 L785.4,504.7 L790.9,505.3 L796.4,509.7 L801.9,509.4 L807.4,507.4 L812.9,504.3 L818.4,504.7 L823.9,508.2 L829.4,507.6 L834.9,504.1 L840.4,503.4 L845.9,502.2 L851.4,506.1 L856.9,504.3 L862.4,505.9 L867.9,503.9 L873.4,506.9 L878.9,508.4 L884.4,509 L889.9,508.4 L895.4,508.2 L900.9,509.2 L906.4,504.4 L911.9,503 L917.4,500.7 L922.9,507.2 L928.4,507.1 L933.9,507.2 L939.4,501.1 L944.9,500.8 L948.6,501.3 L952.4,504.3 L956.1,502.6 L959.9,501.8 L963.6,500.9 L967.4,502.4 L971.1,501.9 L974.9,501.3 L974.9,644.6 L971.1,642.7 L967.4,642.3 L963.6,640.9 L959.9,640.8 L956.1,638.4 L952.4,638.6 L948.6,635.2 L944.9,638.2 L939.4,639.7 L933.9,641.3 L928.4,639.8 L922.9,637 L917.4,639.7 L911.9,635.3 L906.4,635.7 L900.9,637.9 L895.4,643.8 L889.9,644 L884.4,639.1 L878.9,635.7 L873.4,636.1 L867.9,640.5 L862.4,640.8 L856.9,640.2 L851.4,638 L845.9,638.2 L840.4,640.8 L834.9,640.8 L829.4,640.8 L823.9,636.3 L818.4,636.3 L812.9,636 L807.4,636.2 L801.9,636 L796.4,636.9 L790.9,637.6 L785.4,636 L779.9,635.2 L774.4,638.9 L768.9,636.9 L763.4,637.2 L757.9,633.3 L752.4,635 L746.9,632.2 L741.4,629.5 L735.9,629.7 L730.4,627.5 L724.9,630 L719.4,630 L713.9,628.8 L708.4,625.2 L702.9,621 L697.4,623.1 L691.9,623.1 L686.4,621 L680.9,616.9 L675.4,613.8 L669.9,612.4 L664.4,610.1 L658.9,609.2 L653.4,604.8 L647.9,604.1 L642.4,599.2 L636.9,598 L631.4,595.5 L625.9,596.6 L620.4,594.1 L614.9,592.3 L609.4,586.8 L603.9,585.9 L598.4,581.9 L592.9,582.6 L587.4,580.4 L581.9,582.4 L576.4,583.7 L570.9,589.2 L565.4,592.5 L559.9,596 L554.4,594.5 L548.9,592.7 L545.1,587.8 L541.4,586.3 L537.6,587.4 L533.9,587.6 L530.1,590.2 L526.4,593.2 L522.6,597.4 L518.9,599.1Z" fill="#78a0ad" fill-opacity="0.22" filter="url(#bl2)"/>
<path d="M518.9,540.1 L522.6,539.5 L526.4,541.5 L530.1,541.3 L533.9,542.6 L537.6,541.9 L541.4,542.5 L545.1,544.8 L548.9,543.8 L554.4,546.1 L559.9,544.3 L565.4,544.6 L570.9,544.9 L576.4,548.3 L581.9,553.4 L587.4,552.5 L592.9,551.3 L598.4,549.8 L603.9,551.3 L609.4,549.4 L614.9,540.8 L620.4,535.3 L625.9,534.7 L631.4,540 L636.9,536.4 L642.4,532 L647.9,525 L653.4,527.9 L658.9,527.3 L664.4,525.1 L669.9,519.5 L675.4,515.8 L680.9,518.3 L686.4,519.8 L691.9,520.8 L697.4,519.8 L702.9,517.3 L708.4,515.9 L713.9,514.4 L719.4,516 L724.9,514 L730.4,514.8 L735.9,514.6 L741.4,519.2 L746.9,516.8 L752.4,513.5 L757.9,510.8 L763.4,509.6 L768.9,510.8 L774.4,510.5 L779.9,511 L785.4,513.6 L790.9,514.2 L796.4,514.7 L801.9,513.5 L807.4,517.4 L812.9,518.6 L818.4,518.3 L823.9,513.7 L829.4,512.8 L834.9,508.2 L840.4,509 L845.9,510.2 L851.4,514.4 L856.9,511.5 L862.4,514.5 L867.9,511 L873.4,516.1 L878.9,512.3 L884.4,513.2 L889.9,513.2 L895.4,511.2 L900.9,511.4 L906.4,505.7 L911.9,505.9 L917.4,506.9 L922.9,506.2 L928.4,507.6 L933.9,509.6 L939.4,512.1 L944.9,509.3 L948.6,506.9 L952.4,507 L956.1,510.4 L959.9,511.2 L963.6,508.7 L967.4,508.3 L971.1,504.8 L974.9,504.4 L974.9,634.3 L971.1,633.9 L967.4,636.4 L963.6,637.3 L959.9,639.3 L956.1,637.1 L952.4,637.6 L948.6,636.5 L944.9,636.1 L939.4,634.6 L933.9,632.6 L928.4,633.1 L922.9,633.6 L917.4,632.1 L911.9,630.3 L906.4,630 L900.9,632.1 L895.4,635.2 L889.9,636.4 L884.4,635.5 L878.9,635.6 L873.4,636.8 L867.9,640.2 L862.4,637.1 L856.9,634.9 L851.4,632.8 L845.9,632.9 L840.4,635.3 L834.9,636.2 L829.4,637.9 L823.9,636.9 L818.4,642.6 L812.9,640.4 L807.4,638.7 L801.9,631.5 L796.4,630.3 L790.9,631.3 L785.4,628.1 L779.9,630.7 L774.4,625.9 L768.9,628.8 L763.4,625.9 L757.9,627.2 L752.4,624.3 L746.9,625 L741.4,626.1 L735.9,624.5 L730.4,623.5 L724.9,624.1 L719.4,625.9 L713.9,624.7 L708.4,624.1 L702.9,620.7 L697.4,615.6 L691.9,608.2 L686.4,610.6 L680.9,611.7 L675.4,612.9 L669.9,605.7 L664.4,603.8 L658.9,601 L653.4,601.2 L647.9,600.8 L642.4,599.7 L636.9,598.3 L631.4,598.7 L625.9,595 L620.4,592.7 L614.9,587.8 L609.4,585.2 L603.9,582.1 L598.4,578.4 L592.9,579.2 L587.4,578.7 L581.9,580.8 L576.4,580 L570.9,584.9 L565.4,586.2 L559.9,590.3 L554.4,588.2 L548.9,587.3 L545.1,583.9 L541.4,583.9 L537.6,585.9 L533.9,586.8 L530.1,585.3 L526.4,584.7 L522.6,587.2 L518.9,590.8Z" fill="#78a0ad" fill-opacity="0.22" filter="url(#bl2)"/>
<path d="M518.9,542.6 L522.6,543 L526.4,543.3 L530.1,544.6 L533.9,544.3 L537.6,545.2 L541.4,545.9 L545.1,547.7 L548.9,547.6 L554.4,549 L559.9,548.3 L565.4,547.8 L570.9,549.8 L576.4,551 L581.9,554.7 L587.4,553.9 L592.9,554.3 L598.4,555.2 L603.9,553.7 L609.4,552.1 L614.9,546.5 L620.4,544.3 L625.9,542.5 L631.4,539.3 L636.9,538 L642.4,536.8 L647.9,534.3 L653.4,533 L658.9,529.4 L664.4,530.8 L669.9,529.3 L675.4,530 L680.9,527.2 L686.4,523.5 L691.9,520.3 L697.4,519.4 L702.9,522.1 L708.4,519.9 L713.9,518.7 L719.4,517 L724.9,520.8 L730.4,523.7 L735.9,525.1 L741.4,523 L746.9,523.1 L752.4,521.8 L757.9,521 L763.4,522.5 L768.9,520.5 L774.4,519.8 L779.9,515.4 L785.4,515.4 L790.9,518.8 L796.4,519.4 L801.9,521 L807.4,516 L812.9,518.8 L818.4,517.9 L823.9,518.3 L829.4,516 L834.9,514.9 L840.4,513.7 L845.9,510.7 L851.4,511.4 L856.9,515.2 L862.4,516.7 L867.9,514.3 L873.4,512.6 L878.9,512.1 L884.4,514.7 L889.9,515.1 L895.4,516.3 L900.9,514.4 L906.4,513.9 L911.9,515.4 L917.4,518.1 L922.9,520.3 L928.4,519.2 L933.9,518.4 L939.4,516.8 L944.9,514.1 L948.6,514 L952.4,511 L956.1,511.8 L959.9,509.3 L963.6,511.7 L967.4,511.5 L971.1,511.6 L974.9,510.5 L974.9,627.3 L971.1,628.9 L967.4,627.7 L963.6,627.7 L959.9,632.8 L956.1,636.2 L952.4,634 L948.6,629.7 L944.9,631.7 L939.4,631.9 L933.9,632.1 L928.4,628.9 L922.9,629.9 L917.4,627.8 L911.9,628.7 L906.4,630.6 L900.9,635.2 L895.4,635.7 L889.9,633.3 L884.4,628.8 L878.9,625.8 L873.4,626.2 L867.9,627.5 L862.4,632.6 L856.9,631.4 L851.4,636.7 L845.9,632.4 L840.4,634.5 L834.9,629.4 L829.4,631.3 L823.9,629.6 L818.4,629.7 L812.9,631.6 L807.4,630.4 L801.9,629.2 L796.4,625 L790.9,624.5 L785.4,624.1 L779.9,625.4 L774.4,628.9 L768.9,628.7 L763.4,627 L757.9,624.4 L752.4,624.2 L746.9,626.5 L741.4,624.5 L735.9,624.2 L730.4,619.4 L724.9,617.7 L719.4,616.8 L713.9,616.1 L708.4,614.6 L702.9,612.4 L697.4,610.8 L691.9,608.9 L686.4,607.5 L680.9,609.3 L675.4,609.2 L669.9,606.7 L664.4,601.4 L658.9,598.5 L653.4,597.4 L647.9,596.3 L642.4,596.7 L636.9,591.9 L631.4,591.9 L625.9,588.7 L620.4,588.6 L614.9,584.7 L609.4,578.6 L603.9,578.2 L598.4,575.3 L592.9,578.1 L587.4,580.6 L581.9,580.6 L576.4,581.4 L570.9,579.1 L565.4,581.8 L559.9,582.4 L554.4,581.1 L548.9,580.7 L545.1,580.2 L541.4,577.6 L537.6,579 L533.9,583.5 L530.1,588 L526.4,586.8 L522.6,583.4 L518.9,583Z" fill="#78a0ad" fill-opacity="0.22" filter="url(#bl2)"/>
<polyline class="ln" points="548.9,541.3 592.9,543.6 636.9,595.3 680.9,649.6 724.9,686 768.9,687.8 812.9,610.7 856.9,571.4 900.9,590.1 944.9,582.1"/>
<polyline class="ln" points="548.9,561.7 592.9,541.2 636.9,582.3 680.9,660 724.9,704.1 768.9,700 812.9,624.3 856.9,586.4 900.9,630 944.9,569.3"/>
<polyline class="ln" points="548.9,563.7 592.9,536.9 636.9,587.3 680.9,654.5 724.9,692.2 768.9,697.2 812.9,646.2 856.9,588.9 900.9,590.3 944.9,607.1"/>
<polyline class="ln" points="548.9,578.1 592.9,548.7 636.9,579.9 680.9,674.1 724.9,694.6 768.9,685.9 812.9,639.5 856.9,565.8 900.9,573.4 944.9,604.5"/>
<polyline class="ln" points="548.9,587.8 592.9,530.4 636.9,585.6 680.9,661.7 724.9,677.7 768.9,671.2 812.9,611.6 856.9,587.9 900.9,598.7 944.9,595.4"/>
<polyline class="ln" points="548.9,552 592.9,543 636.9,585.7 680.9,652.7 724.9,694.3 768.9,659.3 812.9,646.5 856.9,596.5 900.9,588.5 944.9,573.1"/>
<polyline class="ln" points="548.9,575.5 592.9,545.6 636.9,580.7 680.9,642.2 724.9,673.9 768.9,692.1 812.9,648.6 856.9,559 900.9,582.7 944.9,573.3"/>
<polyline class="ln" points="548.9,573.1 592.9,530.5 636.9,592.3 680.9,664.4 724.9,670.4 768.9,696.7 812.9,650 856.9,592.1 900.9,574.4 944.9,615.1"/>
<polyline class="ln" points="548.9,571.7 592.9,551 636.9,595.3 680.9,668.8 724.9,681.5 768.9,681.8 812.9,624.2 856.9,645 900.9,597.4 944.9,562.1"/>
<polyline class="ln" points="548.9,562.9 592.9,531.6 636.9,592.8 680.9,646.3 724.9,676.6 768.9,693.1 812.9,673.9 856.9,547.9 900.9,558.8 944.9,573.5"/>
<polyline class="ln" points="548.9,583.4 592.9,557.6 636.9,591.5 680.9,657.6 724.9,664.1 768.9,682.3 812.9,644.2 856.9,594.7 900.9,560.3 944.9,545.2"/>
<polyline class="ln" points="548.9,535.7 592.9,542.8 636.9,579.5 680.9,671.1 724.9,690.5 768.9,682.5 812.9,627.1 856.9,642.7 900.9,581.3 944.9,537.2"/>
<polyline class="ln" points="548.9,550 592.9,531.4 636.9,593.5 680.9,654.5 724.9,693.1 768.9,659.4 812.9,648.5 856.9,601.3 900.9,604.1 944.9,570"/>
<polyline class="ln" points="548.9,533.6 592.9,557.1 636.9,590.2 680.9,660.8 724.9,670.1 768.9,664.3 812.9,650.1 856.9,607.2 900.9,617.5 944.9,589.9"/>
<polyline class="ln" points="548.9,524.2 592.9,550.5 636.9,575.8 680.9,657.5 724.9,677.7 768.9,677.1 812.9,646.5 856.9,582.5 900.9,586.9 944.9,614.5"/>
<polyline class="ln" points="548.9,559.5 592.9,541.3 636.9,592.9 680.9,685.5 724.9,663.7 768.9,662.1 812.9,659.8 856.9,591.5 900.9,570.4 944.9,569.2"/>
<polyline class="ln" points="548.9,534.6 592.9,557.5 636.9,579.2 680.9,662.6 724.9,681.9 768.9,673.2 812.9,620.1 856.9,571.3 900.9,603.2 944.9,571"/>
<polyline class="ln" points="548.9,572.6 592.9,538.7 636.9,598.8 680.9,668.5 724.9,666.8 768.9,675.7 812.9,651.7 856.9,576.2 900.9,549.2 944.9,606.5"/>
<polyline class="ln" points="548.9,542.8 592.9,544.5 636.9,587.3 680.9,656.3 724.9,663.5 768.9,669.6 812.9,634.9 856.9,568.2 900.9,595.8 944.9,542.7"/>
<polyline class="ln" points="548.9,545 592.9,547.1 636.9,583.7 680.9,670.5 724.9,689 768.9,687.1 812.9,612.6 856.9,576.6 900.9,601.6 944.9,580.4"/>
<polyline class="ln" points="548.9,545.9 592.9,551.2 636.9,594.9 680.9,670.6 724.9,691.9 768.9,688.1 812.9,615.4 856.9,578.4 900.9,592.4 944.9,571.7"/>
<polyline class="ln" points="548.9,565.5 592.9,542.6 636.9,591.5 680.9,664 724.9,671.1 768.9,680.2 812.9,600.1 856.9,613.3 900.9,591.6 944.9,572"/>
<polyline class="ln" points="548.9,547.3 592.9,531.8 636.9,587.9 680.9,680.7 724.9,683.6 768.9,706.9 812.9,636.9 856.9,600 900.9,574.2 944.9,560.1"/>
<polyline class="ln" points="548.9,560.8 592.9,544.4 636.9,589.8 680.9,638.2 724.9,673.9 768.9,682.5 812.9,644.6 856.9,580 900.9,623.5 944.9,596"/>
<polyline class="ln" points="548.9,563.3 592.9,556.9 636.9,583.4 680.9,680.5 724.9,658.6 768.9,693.5 812.9,652.4 856.9,621.8 900.9,598.1 944.9,580.3"/>
<polyline class="ln" points="548.9,585.8 592.9,548.4 636.9,587.9 680.9,649.1 724.9,677.1 768.9,670.4 812.9,629.4 856.9,618.5 900.9,565.5 944.9,566.2"/>
<polyline class="ln" points="548.9,577.1 592.9,542.6 636.9,590.7 680.9,651.4 724.9,692.1 768.9,670.4 812.9,659.1 856.9,599 900.9,581.1 944.9,568.6"/>
<polyline class="ln" points="548.9,558 592.9,559.2 636.9,604.3 680.9,681.6 724.9,691.1 768.9,667.3 812.9,641.6 856.9,561 900.9,564.7 944.9,585.6"/>
<polyline class="ln" points="548.9,600.2 592.9,562.2 636.9,597.2 680.9,653.9 724.9,667.7 768.9,690 812.9,642.4 856.9,575.1 900.9,575.5 944.9,572.3"/>
<polyline class="ln" points="548.9,537.4 592.9,547.7 636.9,587.8 680.9,663.7 724.9,674.6 768.9,700.5 812.9,621.1 856.9,610.8 900.9,560.2 944.9,586.2"/>
<polyline class="ln" points="548.9,535.9 592.9,532.4 636.9,597 680.9,627.4 724.9,695.7 768.9,688.7 812.9,653 856.9,594.5 900.9,578.7 944.9,570.6"/>
<polyline class="ln" points="548.9,526.7 592.9,537.5 636.9,590.5 680.9,652.3 724.9,697.9 768.9,675.4 812.9,662.3 856.9,630.4 900.9,616.2 944.9,533.8"/>
<polyline class="ln" points="548.9,549.7 592.9,546 636.9,604.7 680.9,653.4 724.9,702.3 768.9,674.9 812.9,635.9 856.9,591.8 900.9,608.4 944.9,555.4"/>
<polyline class="ln" points="548.9,560.8 592.9,541.2 636.9,596.6 680.9,665.5 724.9,655.7 768.9,687.2 812.9,637.4 856.9,586.1 900.9,574.5 944.9,554.5"/>
<polyline class="ln" points="548.9,577.2 592.9,542.4 636.9,581.4 680.9,649 724.9,701 768.9,674.6 812.9,616.7 856.9,569.7 900.9,611.6 944.9,550"/>
<polyline class="ln" points="548.9,565.2 592.9,551.2 636.9,592 680.9,666.1 724.9,683.3 768.9,687.2 812.9,644.1 856.9,565.7 900.9,590.4 944.9,554.6"/>
<polyline class="ln" points="548.9,572 592.9,549.2 636.9,583.6 680.9,662.5 724.9,695.3 768.9,712.7 812.9,605.9 856.9,563.7 900.9,573.9 944.9,554.1"/>
<polyline class="ln" points="548.9,529.8 592.9,533.8 636.9,594 680.9,640.4 724.9,678 768.9,686.3 812.9,611.3 856.9,574.7 900.9,573.8 944.9,570.6"/>
<polyline class="ln" points="548.9,560.3 592.9,545.2 636.9,591.2 680.9,650.9 724.9,671.8 768.9,690.9 812.9,606.4 856.9,584.2 900.9,581.2 944.9,532.7"/>
<polyline class="ln" points="548.9,557.8 592.9,537.1 636.9,593.9 680.9,636.4 724.9,703.6 768.9,693.2 812.9,620.3 856.9,621.2 900.9,591.2 944.9,589.4"/>
<polyline class="ln" points="548.9,525.8 592.9,538.8 636.9,584.7 680.9,651.4 724.9,678.9 768.9,678.3 812.9,629.6 856.9,550.6 900.9,587.2 944.9,596.4"/>
<polyline class="ln" points="548.9,577.8 592.9,554.9 636.9,590.5 680.9,637 724.9,703.7 768.9,665.7 812.9,621.1 856.9,621.4 900.9,612.8 944.9,594.2"/>
<polyline class="ln" points="548.9,546.3 592.9,554.6 636.9,597.4 680.9,667.8 724.9,687.5 768.9,673.6 812.9,629 856.9,613.6 900.9,598.6 944.9,581.1"/>
<polyline class="ln" points="548.9,578.2 592.9,539.5 636.9,584.5 680.9,633.4 724.9,698.1 768.9,663.9 812.9,636 856.9,562.7 900.9,585.5 944.9,557.6"/>
<polyline class="ln" points="548.9,559.9 592.9,547.2 636.9,580.9 680.9,631.3 724.9,690.5 768.9,651.2 812.9,601.7 856.9,585.7 900.9,598.7 944.9,574.6"/>
<polyline class="ln" points="548.9,546.2 592.9,552.4 636.9,591.5 680.9,645.8 724.9,690.6 768.9,669.3 812.9,606.3 856.9,571.1 900.9,588.6 944.9,575.9"/>
<polyline class="ln" points="548.9,564.6 592.9,557.8 636.9,594.5 680.9,656 724.9,680.9 768.9,663.7 812.9,624 856.9,615.6 900.9,606.5 944.9,602.2"/>
<polyline class="ln" points="548.9,563.1 592.9,562.4 636.9,601 680.9,651.7 724.9,687.3 768.9,680.8 812.9,619 856.9,578.2 900.9,645.2 944.9,544.2"/>
<polyline class="ln" points="548.9,556.7 592.9,553.7 636.9,606.5 680.9,652.8 724.9,675.6 768.9,687.5 812.9,661.6 856.9,538 900.9,596.4 944.9,600.3"/>
<polyline class="ln" points="548.9,549 592.9,545.7 636.9,588 680.9,656.7 724.9,712.7 768.9,676 812.9,651.1 856.9,567.8 900.9,602.7 944.9,551.8"/>
<polyline class="ln" points="548.9,560.5 592.9,556.9 636.9,584.6 680.9,625.5 724.9,694.4 768.9,677.7 812.9,631.7 856.9,567.9 900.9,589.1 944.9,563.1"/>
<polyline class="ln" points="548.9,554.7 592.9,557.6 636.9,602.3 680.9,664.8 724.9,704.8 768.9,666 812.9,645.4 856.9,563.2 900.9,628.6 944.9,580.4"/>
<polyline class="ln" points="548.9,583.6 592.9,541 636.9,594.7 680.9,658.3 724.9,675.6 768.9,702.2 812.9,682.8 856.9,553.7 900.9,623.8 944.9,547.1"/>
<polyline class="ln" points="548.9,583.7 592.9,529 636.9,585.5 680.9,646.2 724.9,700.9 768.9,666.7 812.9,650.5 856.9,598.2 900.9,635.4 944.9,563.4"/>
<polyline class="ln" points="548.9,556 592.9,542.6 636.9,583 680.9,634.8 724.9,675.9 768.9,666.9 812.9,657 856.9,580.3 900.9,572.9 944.9,570"/>
<polyline class="ln" points="548.9,551.2 592.9,538.2 636.9,593.5 680.9,673.9 724.9,697.9 768.9,681.6 812.9,643.9 856.9,603.5 900.9,605.5 944.9,580"/>
<polyline class="ln" points="548.9,601.4 592.9,547.5 636.9,578.7 680.9,625.6 724.9,673.3 768.9,678.3 812.9,680.5 856.9,567.7 900.9,603.8 944.9,574.9"/>
<polyline class="ln" points="548.9,580.2 592.9,543.9 636.9,606.9 680.9,626.1 724.9,682.7 768.9,681.8 812.9,653.3 856.9,569.8 900.9,578.5 944.9,543.2"/>
<polyline class="ln" points="548.9,579.1 592.9,529.5 636.9,613.8 680.9,661.6 724.9,681.9 768.9,681 812.9,669 856.9,611.8 900.9,571 944.9,568"/>
<polyline class="ln" points="548.9,540.9 592.9,555.2 636.9,600.2 680.9,665.2 724.9,693.3 768.9,680 812.9,657.7 856.9,608 900.9,569 944.9,593.2"/>
<polyline class="ln" points="548.9,541.7 592.9,545.2 636.9,576.6 680.9,668.5 724.9,684.6 768.9,662.5 812.9,689.5 856.9,567.4 900.9,597.4 944.9,583.5"/>
<polyline class="ln" points="548.9,578 592.9,539.3 636.9,607.6 680.9,668.7 724.9,680.2 768.9,686.9 812.9,645.4 856.9,623 900.9,585.9 944.9,559.7"/>
<polyline class="ln" points="548.9,569.3 592.9,545 636.9,575.2 680.9,679.4 724.9,680.1 768.9,687.4 812.9,647.7 856.9,589.4 900.9,589.9 944.9,594.8"/>
<polyline class="ln" points="548.9,575.1 592.9,551 636.9,583.9 680.9,663 724.9,687.2 768.9,684.2 812.9,664.2 856.9,600.8 900.9,613.7 944.9,568.1"/>
<polyline class="ln" points="548.9,610.2 592.9,545.2 636.9,592.6 680.9,654.4 724.9,682.6 768.9,674.5 812.9,649.3 856.9,582.2 900.9,615.1 944.9,579"/>
<polyline class="ln" points="548.9,576 592.9,542.5 636.9,581.6 680.9,632.3 724.9,681.1 768.9,659.8 812.9,636.3 856.9,589.1 900.9,609.3 944.9,561.6"/>
<polyline class="ln" points="548.9,570.1 592.9,545.9 636.9,607.1 680.9,660.7 724.9,689.6 768.9,687.2 812.9,654.4 856.9,585.4 900.9,596.2 944.9,573.6"/>
<polyline class="ln" points="548.9,575.5 592.9,558.8 636.9,567.5 680.9,640.7 724.9,698.3 768.9,653.7 812.9,634.7 856.9,601.8 900.9,595.6 944.9,596.8"/>
<polyline class="ln" points="548.9,550.1 592.9,552.2 636.9,578 680.9,651.1 724.9,687.7 768.9,682.2 812.9,637.7 856.9,576.9 900.9,607.7 944.9,594.3"/>
<polyline class="ln" points="548.9,566.6 592.9,541.2 636.9,586.4 680.9,649.9 724.9,694.9 768.9,695.5 812.9,628.9 856.9,586.3 900.9,603.9 944.9,560.6"/>
<polyline class="ln" points="548.9,581.2 592.9,544.7 636.9,587.2 680.9,641.6 724.9,691 768.9,682.5 812.9,638 856.9,584.9 900.9,621.1 944.9,608.1"/>
<polyline class="ln" points="548.9,604.7 592.9,539.9 636.9,583.3 680.9,652.3 724.9,707 768.9,665.4 812.9,650.8 856.9,597.1 900.9,623.4 944.9,580.8"/>
<polyline class="ln" points="548.9,578.4 592.9,541.6 636.9,586.9 680.9,657.6 724.9,667.6 768.9,680.1 812.9,646.7 856.9,560.8 900.9,592 944.9,579.9"/>
<polyline class="ln" points="548.9,571.1 592.9,539.1 636.9,595.7 680.9,658.4 724.9,692 768.9,653 812.9,647.7 856.9,596.7 900.9,620.7 944.9,600.6"/>
<polyline class="ln" points="548.9,576.4 592.9,558.1 636.9,606.8 680.9,636.6 724.9,679.2 768.9,687.3 812.9,636.2 856.9,552.7 900.9,600.2 944.9,596.3"/>
<polyline class="ln" points="548.9,567.8 592.9,550.6 636.9,568.6 680.9,664.2 724.9,698.7 768.9,651.1 812.9,655.2 856.9,533.7 900.9,636 944.9,561.6"/>
<polyline class="ln" points="548.9,583.1 592.9,548.3 636.9,590.2 680.9,636 724.9,690 768.9,676.7 812.9,620.9 856.9,582.3 900.9,635.3 944.9,591.2"/>
<polyline class="ln" points="548.9,559.5 592.9,549.5 636.9,586.8 680.9,668.7 724.9,699.3 768.9,678.3 812.9,631.2 856.9,569.8 900.9,603.1 944.9,578.7"/>
<polyline class="ln" points="548.9,582.2 592.9,545.1 636.9,593.8 680.9,637.6 724.9,671.5 768.9,660.4 812.9,621.2 856.9,591.4 900.9,549.2 944.9,552.8"/>
<polyline class="ln" points="548.9,520.4 592.9,546.1 636.9,585.6 680.9,654.2 724.9,671.7 768.9,650 812.9,643.3 856.9,575.1 900.9,563.2 944.9,556.3"/>
<polyline class="ln" points="548.9,546 592.9,565.2 636.9,594.7 680.9,620.9 724.9,674.1 768.9,660.4 812.9,647.5 856.9,551.1 900.9,594.1 944.9,570.7"/>
<polyline class="ln" points="548.9,555.7 592.9,542.7 636.9,585.9 680.9,660 724.9,665.5 768.9,653.3 812.9,653.3 856.9,571.2 900.9,572.4 944.9,595.7"/>
<polyline class="ln" points="548.9,553.8 592.9,549.8 636.9,611.7 680.9,661.5 724.9,688 768.9,680.1 812.9,648.2 856.9,535.9 900.9,564.4 944.9,542.8"/>
<polyline class="ln" points="548.9,549 592.9,557.2 636.9,611.5 680.9,644.4 724.9,665.1 768.9,670.1 812.9,635.6 856.9,586.5 900.9,569.4 944.9,571.9"/>
<polyline class="ln" points="548.9,562 592.9,550.3 636.9,592.2 680.9,664.2 724.9,676.4 768.9,671.3 812.9,633.2 856.9,601.3 900.9,556.1 944.9,576.9"/>
<polyline class="ln" points="548.9,519.6 592.9,553.3 636.9,576.2 680.9,643.3 724.9,690.4 768.9,662.7 812.9,656.2 856.9,605 900.9,585.5 944.9,593.1"/>
<polyline class="ln" points="548.9,523.9 592.9,561.7 636.9,587.8 680.9,655 724.9,667.9 768.9,662.6 812.9,650.7 856.9,579.7 900.9,607.6 944.9,590.4"/>
<polyline class="ln" points="548.9,579.2 592.9,547.3 636.9,601.5 680.9,659.9 724.9,664.1 768.9,672.1 812.9,666.7 856.9,601.3 900.9,571.2 944.9,580"/>
<polyline class="ln" points="548.9,539.6 592.9,542.4 636.9,605.6 680.9,636.9 724.9,687.8 768.9,661 812.9,681.8 856.9,580.7 900.9,537.8 944.9,628.1"/>
<polyline class="ln" points="548.9,546.9 592.9,539.1 636.9,607.6 680.9,643.1 724.9,683.7 768.9,662.1 812.9,645.7 856.9,602.4 900.9,574.6 944.9,609.5"/>
<polyline class="ln" points="548.9,535.8 592.9,545.7 636.9,611.2 680.9,656.6 724.9,671.3 768.9,669.4 812.9,628.6 856.9,575.6 900.9,564.3 944.9,585.7"/>
<polyline class="ln" points="548.9,575.5 592.9,543.6 636.9,610.8 680.9,646.5 724.9,686.7 768.9,670 812.9,652.5 856.9,577.4 900.9,598.2 944.9,575.6"/>
<polyline class="ln" points="548.9,539.7 592.9,547.5 636.9,603.8 680.9,643 724.9,703.1 768.9,671.5 812.9,651.6 856.9,599 900.9,632 944.9,587"/>
<polyline class="ln" points="548.9,586.7 592.9,547.2 636.9,598.7 680.9,641.1 724.9,668.7 768.9,682.8 812.9,622.6 856.9,561.6 900.9,622.5 944.9,615.5"/>
<polyline class="ln" points="548.9,566.4 592.9,547.5 636.9,572.9 680.9,656.1 724.9,669.5 768.9,673.8 812.9,668.4 856.9,591.5 900.9,609 944.9,571"/>
<polyline class="ln" points="548.9,572.4 592.9,535.5 636.9,594.4 680.9,643.1 724.9,697 768.9,684.6 812.9,633.7 856.9,577.3 900.9,626.7 944.9,591.7"/>
<polyline class="ln" points="548.9,562.9 592.9,543.3 636.9,591.3 680.9,656 724.9,680.6 768.9,678.7 812.9,654.2 856.9,568.5 900.9,638.8 944.9,617.8"/>
<polyline class="ln" points="548.9,566.7 592.9,553.4 636.9,594.2 680.9,656.3 724.9,685.6 768.9,663.2 812.9,630.5 856.9,555.9 900.9,580.1 944.9,614"/>
<polyline class="ln" points="548.9,591.8 592.9,551.3 636.9,586 680.9,656.4 724.9,675.8 768.9,686.4 812.9,675.3 856.9,575.6 900.9,559.6 944.9,573.3"/>
<polyline class="ln" points="548.9,578.2 592.9,562.2 636.9,595.2 680.9,656.6 724.9,691.2 768.9,669.6 812.9,656.8 856.9,566 900.9,567.9 944.9,617.4"/>
<polyline class="ln" points="548.9,531.1 592.9,549 636.9,585 680.9,641.9 724.9,669.2 768.9,675.5 812.9,632.1 856.9,610.8 900.9,577 944.9,592.2"/>
<polyline class="ln" points="548.9,559.5 592.9,559 636.9,602.4 680.9,654.2 724.9,698.7 768.9,649.8 812.9,641.5 856.9,586.5 900.9,571.3 944.9,554.4"/>
<polyline class="ln" points="548.9,569.4 592.9,534.7 636.9,587.5 680.9,658.5 724.9,693.5 768.9,678.2 812.9,632.3 856.9,564.4 900.9,600.4 944.9,594.4"/>
<polyline class="ln" points="548.9,572 592.9,543.3 636.9,591.9 680.9,623.4 724.9,682 768.9,676.8 812.9,641.6 856.9,568.1 900.9,599.5 944.9,574.2"/>
<polyline class="ln" points="548.9,562.5 592.9,542.5 636.9,562.5 680.9,567.5 724.9,540.5 768.9,547.5 812.9,572.5 856.9,557.5 900.9,537.5 944.9,547.5"/>
<polyline class="ln" points="548.9,547.5 592.9,537.5 636.9,557.5 680.9,577.5 724.9,552.5 768.9,542.5 812.9,557.5 856.9,537.5 900.9,547.5 944.9,527.5"/>
<polyline class="ln" points="548.9,567.5 592.9,547.5 636.9,572.5 680.9,587.5 724.9,562.5 768.9,577.5 812.9,567.5 856.9,547.5 900.9,557.5 944.9,542.5"/>
<polyline class="ln" points="548.9,557.5 592.9,552.5 636.9,582.5 680.9,607.5 724.9,577.5 768.9,597.5 812.9,587.5 856.9,567.5 900.9,542.5 944.9,557.5"/>
<rect x="528.9" y="565.5" width="40" height="2" fill="#ce605e" fill-opacity=".8"/>
<rect x="528.9" y="563.5" width="40" height="2" fill="#37184a" fill-opacity=".8"/>
<rect x="572.9" y="566" width="40" height="1.5" fill="#ee8c60" fill-opacity=".8"/>
<rect x="572.9" y="564" width="40" height="2" fill="#fcc286" fill-opacity=".8"/>
<rect x="572.9" y="561.5" width="40" height="2.5" fill="#fff6cc" fill-opacity=".8"/>
<rect x="572.9" y="558.5" width="40" height="3" fill="#000000" fill-opacity=".8"/>
<rect x="572.9" y="552.8" width="40" height="5.7" fill="#ce605e" fill-opacity=".8"/>
<rect x="572.9" y="548.5" width="40" height="4.3" fill="#702a5b" fill-opacity=".8"/>
<rect x="572.9" y="546.9" width="40" height="1.6" fill="#37184a" fill-opacity=".8"/>
<rect x="616.9" y="567.5" width="40" height="2.8" fill="#fcc286" fill-opacity=".8"/>
<rect x="616.9" y="570.3" width="40" height="4.8" fill="#fff6cc" fill-opacity=".8"/>
<rect x="616.9" y="575.1" width="40" height="3.8" fill="#000000" fill-opacity=".8"/>
<rect x="616.9" y="578.9" width="40" height="7.6" fill="#ce605e" fill-opacity=".8"/>
<rect x="616.9" y="586.5" width="40" height="6.6" fill="#702a5b" fill-opacity=".8"/>
<rect x="616.9" y="593.1" width="40" height="1.9" fill="#37184a" fill-opacity=".8"/>
<rect x="660.9" y="567.5" width="40" height="12.5" fill="#ee8c60" fill-opacity=".8"/>
<rect x="660.9" y="580" width="40" height="9.4" fill="#fcc286" fill-opacity=".8"/>
<rect x="660.9" y="589.4" width="40" height="11.1" fill="#fff6cc" fill-opacity=".8"/>
<rect x="660.9" y="600.5" width="40" height="10.3" fill="#000000" fill-opacity=".8"/>
<rect x="660.9" y="610.8" width="40" height="15.4" fill="#9f4763" fill-opacity=".8"/>
<rect x="660.9" y="626.2" width="40" height="14.2" fill="#ce605e" fill-opacity=".8"/>
<rect x="660.9" y="640.4" width="40" height="12.7" fill="#702a5b" fill-opacity=".8"/>
<rect x="660.9" y="653.1" width="40" height="6.8" fill="#37184a" fill-opacity=".8"/>
<rect x="704.9" y="567.5" width="40" height="15.9" fill="#ee8c60" fill-opacity=".8"/>
<rect x="704.9" y="583.4" width="40" height="9.1" fill="#fcc286" fill-opacity=".8"/>
<rect x="704.9" y="592.5" width="40" height="12.7" fill="#fff6cc" fill-opacity=".8"/>
<rect x="704.9" y="605.2" width="40" height="15.1" fill="#000000" fill-opacity=".8"/>
<rect x="704.9" y="620.3" width="40" height="16.3" fill="#9f4763" fill-opacity=".8"/>
<rect x="704.9" y="636.6" width="40" height="14.2" fill="#ce605e" fill-opacity=".8"/>
<rect x="704.9" y="650.8" width="40" height="12.7" fill="#702a5b" fill-opacity=".8"/>
<rect x="704.9" y="663.5" width="40" height="13" fill="#37184a" fill-opacity=".8"/>
<rect x="748.9" y="567.5" width="40" height="15.9" fill="#ee8c60" fill-opacity=".8"/>
<rect x="748.9" y="583.4" width="40" height="11.6" fill="#fcc286" fill-opacity=".8"/>
<rect x="748.9" y="595" width="40" height="10.6" fill="#fff6cc" fill-opacity=".8"/>
<rect x="748.9" y="605.6" width="40" height="14.5" fill="#000000" fill-opacity=".8"/>
<rect x="748.9" y="620.1" width="40" height="13.7" fill="#9f4763" fill-opacity=".8"/>
<rect x="748.9" y="633.8" width="40" height="15.4" fill="#ce605e" fill-opacity=".8"/>
<rect x="748.9" y="649.2" width="40" height="13.7" fill="#702a5b" fill-opacity=".8"/>
<rect x="748.9" y="662.9" width="40" height="12.3" fill="#37184a" fill-opacity=".8"/>
<rect x="792.9" y="567.5" width="40" height="3.9" fill="#ee8c60" fill-opacity=".8"/>
<rect x="792.9" y="571.4" width="40" height="3.8" fill="#fff6cc" fill-opacity=".8"/>
<rect x="792.9" y="575.2" width="40" height="7.4" fill="#000000" fill-opacity=".8"/>
<rect x="792.9" y="582.6" width="40" height="6" fill="#9f4763" fill-opacity=".8"/>
<rect x="792.9" y="588.6" width="40" height="6.8" fill="#ce605e" fill-opacity=".8"/>
<rect x="792.9" y="595.4" width="40" height="4.3" fill="#702a5b" fill-opacity=".8"/>
<rect x="792.9" y="599.7" width="40" height="8.6" fill="#37184a" fill-opacity=".8"/>
<rect x="836.9" y="567.5" width="40" height="1.5" fill="#37184a" fill-opacity=".8"/>
<rect x="880.9" y="567.5" width="40" height="1" fill="#9f4763" fill-opacity=".8"/>
<rect x="880.9" y="568.5" width="40" height="1" fill="#ce605e" fill-opacity=".8"/>
<rect x="924.9" y="567.5" width="40" height="1.5" fill="#37184a" fill-opacity=".8"/>
</g>
<rect x="105.5" y="40" width="395" height="317" fill="none" stroke="#000" stroke-width="2"/>
<line x1="105.5" y1="198.5" x2="500.5" y2="198.5" stroke="#000" stroke-width="2"/>
<line x1="236.7" y1="40" x2="236.7" y2="357" stroke="#000" stroke-width="2"/>
<line x1="96.0" y1="54.2" x2="105.5" y2="54.2" stroke="#000" stroke-width="2"/>
<text x="92.6" y="61.6" text-anchor="end">1.0</text>
<line x1="96.0" y1="126.3" x2="105.5" y2="126.3" stroke="#000" stroke-width="2"/>
<text x="92.6" y="133.8" text-anchor="end">0.5</text>
<line x1="96.0" y1="198.5" x2="105.5" y2="198.5" stroke="#000" stroke-width="2"/>
<text x="92.6" y="205.9" text-anchor="end">0</text>
<line x1="96.0" y1="270.6" x2="105.5" y2="270.6" stroke="#000" stroke-width="2"/>
<text x="92.6" y="278" text-anchor="end">0.5</text>
<line x1="96.0" y1="342.8" x2="105.5" y2="342.8" stroke="#000" stroke-width="2"/>
<text x="92.6" y="350.2" text-anchor="end">1.0</text>
<line x1="500.5" y1="79.7" x2="510.5" y2="79.7" stroke="#000" stroke-width="2"/>
<line x1="500.5" y1="119.3" x2="510.5" y2="119.3" stroke="#000" stroke-width="2"/>
<line x1="500.5" y1="158.9" x2="510.5" y2="158.9" stroke="#000" stroke-width="2"/>
<line x1="500.5" y1="198.5" x2="510.5" y2="198.5" stroke="#000" stroke-width="2"/>
<line x1="500.5" y1="238.1" x2="510.5" y2="238.1" stroke="#000" stroke-width="2"/>
<line x1="500.5" y1="277.7" x2="510.5" y2="277.7" stroke="#000" stroke-width="2"/>
<line x1="500.5" y1="317.3" x2="510.5" y2="317.3" stroke="#000" stroke-width="2"/>
<line x1="149" y1="357" x2="149" y2="367.7" stroke="#000" stroke-width="2"/>
<line x1="192.8" y1="357" x2="192.8" y2="367.7" stroke="#000" stroke-width="2"/>
<line x1="236.7" y1="357" x2="236.7" y2="367.7" stroke="#000" stroke-width="2"/>
<line x1="280.6" y1="357" x2="280.6" y2="367.7" stroke="#000" stroke-width="2"/>
<line x1="324.4" y1="357" x2="324.4" y2="367.7" stroke="#000" stroke-width="2"/>
<line x1="368.2" y1="357" x2="368.2" y2="367.7" stroke="#000" stroke-width="2"/>
<line x1="412.1" y1="357" x2="412.1" y2="367.7" stroke="#000" stroke-width="2"/>
<line x1="455.9" y1="357" x2="455.9" y2="367.7" stroke="#000" stroke-width="2"/>
<rect x="548.5" y="40" width="397" height="317" fill="none" stroke="#000" stroke-width="2"/>
<line x1="548.5" y1="198.5" x2="945.5" y2="198.5" stroke="#000" stroke-width="2"/>
<line x1="680.9" y1="40" x2="680.9" y2="357" stroke="#000" stroke-width="2"/>
<line x1="539.0" y1="54.2" x2="548.5" y2="54.2" stroke="#000" stroke-width="2"/>
<line x1="539.0" y1="126.3" x2="548.5" y2="126.3" stroke="#000" stroke-width="2"/>
<line x1="539.0" y1="270.6" x2="548.5" y2="270.6" stroke="#000" stroke-width="2"/>
<line x1="539.0" y1="342.8" x2="548.5" y2="342.8" stroke="#000" stroke-width="2"/>
<line x1="945.5" y1="79.7" x2="955.5" y2="79.7" stroke="#000" stroke-width="2"/>
<text x="962.3" y="87.1">0.6</text>
<line x1="945.5" y1="119.3" x2="955.5" y2="119.3" stroke="#000" stroke-width="2"/>
<text x="962.3" y="126.7">0.4</text>
<line x1="945.5" y1="158.9" x2="955.5" y2="158.9" stroke="#000" stroke-width="2"/>
<text x="962.3" y="166.3">0.2</text>
<line x1="945.5" y1="198.5" x2="955.5" y2="198.5" stroke="#000" stroke-width="2"/>
<text x="962.3" y="205.9">0</text>
<line x1="945.5" y1="238.1" x2="955.5" y2="238.1" stroke="#000" stroke-width="2"/>
<rect x="962.5" y="236.6" width="11.9" height="1.8"/>
<text x="974.7" y="245.5">0.2</text>
<line x1="945.5" y1="277.7" x2="955.5" y2="277.7" stroke="#000" stroke-width="2"/>
<rect x="962.5" y="276.2" width="11.9" height="1.8"/>
<text x="974.7" y="285.1">0.4</text>
<line x1="945.5" y1="317.3" x2="955.5" y2="317.3" stroke="#000" stroke-width="2"/>
<rect x="962.5" y="315.8" width="11.9" height="1.8"/>
<text x="974.7" y="324.7">0.6</text>
<line x1="592.9" y1="357" x2="592.9" y2="367.7" stroke="#000" stroke-width="2"/>
<line x1="636.9" y1="357" x2="636.9" y2="367.7" stroke="#000" stroke-width="2"/>
<line x1="680.9" y1="357" x2="680.9" y2="367.7" stroke="#000" stroke-width="2"/>
<line x1="724.9" y1="357" x2="724.9" y2="367.7" stroke="#000" stroke-width="2"/>
<line x1="768.9" y1="357" x2="768.9" y2="367.7" stroke="#000" stroke-width="2"/>
<line x1="812.9" y1="357" x2="812.9" y2="367.7" stroke="#000" stroke-width="2"/>
<line x1="856.9" y1="357" x2="856.9" y2="367.7" stroke="#000" stroke-width="2"/>
<line x1="900.9" y1="357" x2="900.9" y2="367.7" stroke="#000" stroke-width="2"/>
<rect x="105.5" y="409.5" width="395" height="316.7" fill="none" stroke="#000" stroke-width="2"/>
<line x1="105.5" y1="567.5" x2="500.5" y2="567.5" stroke="#000" stroke-width="2"/>
<line x1="236.7" y1="409.5" x2="236.7" y2="726.2" stroke="#000" stroke-width="2"/>
<line x1="96.0" y1="423.3" x2="105.5" y2="423.3" stroke="#000" stroke-width="2"/>
<text x="92.6" y="430.7" text-anchor="end">1.0</text>
<line x1="96.0" y1="495.4" x2="105.5" y2="495.4" stroke="#000" stroke-width="2"/>
<text x="92.6" y="502.8" text-anchor="end">0.5</text>
<line x1="96.0" y1="567.5" x2="105.5" y2="567.5" stroke="#000" stroke-width="2"/>
<text x="92.6" y="574.9" text-anchor="end">0</text>
<line x1="96.0" y1="639.6" x2="105.5" y2="639.6" stroke="#000" stroke-width="2"/>
<text x="92.6" y="647" text-anchor="end">0.5</text>
<line x1="96.0" y1="711.7" x2="105.5" y2="711.7" stroke="#000" stroke-width="2"/>
<text x="92.6" y="719.1" text-anchor="end">1.0</text>
<line x1="500.5" y1="448.7" x2="510.5" y2="448.7" stroke="#000" stroke-width="2"/>
<line x1="500.5" y1="488.3" x2="510.5" y2="488.3" stroke="#000" stroke-width="2"/>
<line x1="500.5" y1="527.9" x2="510.5" y2="527.9" stroke="#000" stroke-width="2"/>
<line x1="500.5" y1="567.5" x2="510.5" y2="567.5" stroke="#000" stroke-width="2"/>
<line x1="500.5" y1="607.1" x2="510.5" y2="607.1" stroke="#000" stroke-width="2"/>
<line x1="500.5" y1="646.7" x2="510.5" y2="646.7" stroke="#000" stroke-width="2"/>
<line x1="500.5" y1="686.3" x2="510.5" y2="686.3" stroke="#000" stroke-width="2"/>
<line x1="105.1" y1="726.2" x2="105.1" y2="734" stroke="#000" stroke-width="2"/>
<rect x="92.1" y="750.8" width="11.6" height="1.8"/>
<text x="103.7" y="758.5">3</text>
<line x1="149" y1="726.2" x2="149" y2="734" stroke="#000" stroke-width="2"/>
<rect x="136" y="750.8" width="11.6" height="1.8"/>
<text x="147.6" y="758.5">2</text>
<line x1="192.8" y1="726.2" x2="192.8" y2="734" stroke="#000" stroke-width="2"/>
<rect x="179.8" y="750.8" width="11.6" height="1.8"/>
<text x="191.4" y="758.5">1</text>
<line x1="236.7" y1="726.2" x2="236.7" y2="734" stroke="#000" stroke-width="2"/>
<text x="236.7" y="758.5" text-anchor="middle">0</text>
<line x1="280.6" y1="726.2" x2="280.6" y2="734" stroke="#000" stroke-width="2"/>
<text x="280.6" y="758.5" text-anchor="middle">1</text>
<line x1="324.4" y1="726.2" x2="324.4" y2="734" stroke="#000" stroke-width="2"/>
<text x="324.4" y="758.5" text-anchor="middle">2</text>
<line x1="368.2" y1="726.2" x2="368.2" y2="734" stroke="#000" stroke-width="2"/>
<text x="368.2" y="758.5" text-anchor="middle">3</text>
<line x1="412.1" y1="726.2" x2="412.1" y2="734" stroke="#000" stroke-width="2"/>
<text x="412.1" y="758.5" text-anchor="middle">4</text>
<line x1="455.9" y1="726.2" x2="455.9" y2="734" stroke="#000" stroke-width="2"/>
<text x="455.9" y="758.5" text-anchor="middle">5</text>
<line x1="499.8" y1="726.2" x2="499.8" y2="734" stroke="#000" stroke-width="2"/>
<text x="499.8" y="758.5" text-anchor="middle">6</text>
<rect x="548.5" y="409.5" width="397" height="316.7" fill="none" stroke="#000" stroke-width="2"/>
<line x1="548.5" y1="567.5" x2="945.5" y2="567.5" stroke="#000" stroke-width="2"/>
<line x1="680.9" y1="409.5" x2="680.9" y2="726.2" stroke="#000" stroke-width="2"/>
<line x1="539.0" y1="423.3" x2="548.5" y2="423.3" stroke="#000" stroke-width="2"/>
<line x1="539.0" y1="495.4" x2="548.5" y2="495.4" stroke="#000" stroke-width="2"/>
<line x1="539.0" y1="567.5" x2="548.5" y2="567.5" stroke="#000" stroke-width="2"/>
<line x1="539.0" y1="639.6" x2="548.5" y2="639.6" stroke="#000" stroke-width="2"/>
<line x1="539.0" y1="711.7" x2="548.5" y2="711.7" stroke="#000" stroke-width="2"/>
<line x1="945.5" y1="448.7" x2="955.5" y2="448.7" stroke="#000" stroke-width="2"/>
<text x="962.3" y="456.1">0.6</text>
<line x1="945.5" y1="488.3" x2="955.5" y2="488.3" stroke="#000" stroke-width="2"/>
<text x="962.3" y="495.7">0.4</text>
<line x1="945.5" y1="527.9" x2="955.5" y2="527.9" stroke="#000" stroke-width="2"/>
<text x="962.3" y="535.3">0.2</text>
<line x1="945.5" y1="567.5" x2="955.5" y2="567.5" stroke="#000" stroke-width="2"/>
<text x="962.3" y="574.9">0</text>
<line x1="945.5" y1="607.1" x2="955.5" y2="607.1" stroke="#000" stroke-width="2"/>
<rect x="962.5" y="605.6" width="11.9" height="1.8"/>
<text x="974.7" y="614.5">0.2</text>
<line x1="945.5" y1="646.7" x2="955.5" y2="646.7" stroke="#000" stroke-width="2"/>
<rect x="962.5" y="645.2" width="11.9" height="1.8"/>
<text x="974.7" y="654.1">0.4</text>
<line x1="945.5" y1="686.3" x2="955.5" y2="686.3" stroke="#000" stroke-width="2"/>
<rect x="962.5" y="684.8" width="11.9" height="1.8"/>
<text x="974.7" y="693.7">0.6</text>
<line x1="548.9" y1="726.2" x2="548.9" y2="734" stroke="#000" stroke-width="2"/>
<rect x="535.9" y="750.8" width="11.6" height="1.8"/>
<text x="547.5" y="758.5">3</text>
<line x1="592.9" y1="726.2" x2="592.9" y2="734" stroke="#000" stroke-width="2"/>
<rect x="579.9" y="750.8" width="11.6" height="1.8"/>
<text x="591.5" y="758.5">2</text>
<line x1="636.9" y1="726.2" x2="636.9" y2="734" stroke="#000" stroke-width="2"/>
<rect x="623.9" y="750.8" width="11.6" height="1.8"/>
<text x="635.5" y="758.5">1</text>
<line x1="680.9" y1="726.2" x2="680.9" y2="734" stroke="#000" stroke-width="2"/>
<text x="680.9" y="758.5" text-anchor="middle">0</text>
<line x1="724.9" y1="726.2" x2="724.9" y2="734" stroke="#000" stroke-width="2"/>
<text x="724.9" y="758.5" text-anchor="middle">1</text>
<line x1="768.9" y1="726.2" x2="768.9" y2="734" stroke="#000" stroke-width="2"/>
<text x="768.9" y="758.5" text-anchor="middle">2</text>
<line x1="812.9" y1="726.2" x2="812.9" y2="734" stroke="#000" stroke-width="2"/>
<text x="812.9" y="758.5" text-anchor="middle">3</text>
<line x1="856.9" y1="726.2" x2="856.9" y2="734" stroke="#000" stroke-width="2"/>
<text x="856.9" y="758.5" text-anchor="middle">4</text>
<line x1="900.9" y1="726.2" x2="900.9" y2="734" stroke="#000" stroke-width="2"/>
<text x="900.9" y="758.5" text-anchor="middle">5</text>
<line x1="944.9" y1="726.2" x2="944.9" y2="734" stroke="#000" stroke-width="2"/>
<text x="944.9" y="758.5" text-anchor="middle">6</text>
<text class="lt" x="93.9" y="27.2">a</text>
<text class="lt" x="528.3" y="27.4">b</text>
<text class="lt" x="94" y="396.3">c</text>
<text class="lt" x="528" y="396.3">d</text>
<text x="177.0" y="29.7" textLength="253.4">1200–2000 CE (<tspan font-style="italic">n</tspan> = 25)</text>
<text x="622.9" y="29.7" textLength="254.1">1585–2000 CE (<tspan font-style="italic">n</tspan> = 18)</text>
<text x="176.6" y="398.0" textLength="253.9">1762–2000 CE (<tspan font-style="italic">n</tspan> = 12)</text>
<text x="640.7" y="398.0" textLength="239.3">1862–2000 CE (<tspan font-style="italic">n</tspan> = 6)</text>
<text x="387.7" y="793" textLength="276.9">Years relative to eruption</text>
<text transform="translate(20.7,657.7) rotate(-90)" textLength="569.6">Proportion of ensemble members in which the SEA</text>
<text transform="translate(45.8,555.9) rotate(-90)" textLength="373.7">exceeds the null in each direction</text>
<text transform="translate(1045.2,538.2) rotate(-90)" textLength="356.7">Composite ΔSLP anomaly (hPa)</text>
<line x1="1036.4" y1="547.8" x2="1036.4" y2="572.5" stroke="#777" stroke-width="1.2"/>
<text x="123.3" y="838" textLength="170.9">Reconstruction</text>
<text x="123" y="867.8" textLength="86.1">method</text>
<rect x="316.2" y="822.2" width="23" height="22.6" fill="#333333"/>
<rect x="488" y="822.2" width="23" height="22.6" fill="#5f466e"/>
<rect x="656" y="822.2" width="23" height="22.6" fill="#8d557c"/>
<rect x="804.4" y="822.2" width="23" height="22.6" fill="#b26c82"/>
<rect x="316.2" y="853.8" width="23" height="22.6" fill="#d8807e"/>
<rect x="488" y="853.8" width="23" height="22.6" fill="#f1a380"/>
<rect x="656" y="853.8" width="23" height="22.6" fill="#fdce9e"/>
<rect x="804.4" y="853.8" width="23" height="22.6" fill="#fff8d6"/>
<text x="352.1" y="841" textLength="79.9">opPCA</text>
<text x="524.3" y="841" textLength="62.3">fiPCA</text>
<text x="689" y="841" textLength="50.8">CPS</text>
<text x="841.4" y="841" textLength="77.6">CPSns</text>
<text x="352.5" y="872.6" textLength="90.8">CPScoa</text>
<text x="523.4" y="872.6" textLength="87.7">PCRcor</text>
<text x="688.8" y="872.6" textLength="76">PCRall</text>
<text x="841.5" y="872.6" textLength="67.9">PaiCo</text>
</svg></body></html>
